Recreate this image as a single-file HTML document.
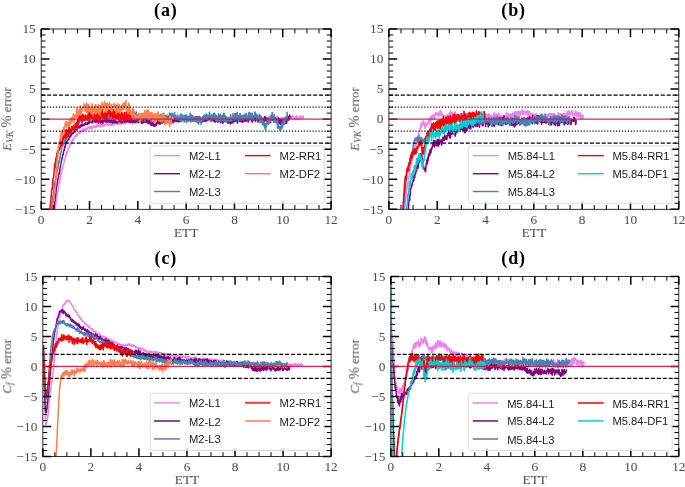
<!DOCTYPE html>
<html><head><meta charset="utf-8"><title>ETT error plots</title>
<style>html,body{margin:0;padding:0;background:#fff;width:685px;height:487px;overflow:hidden}svg{display:block}text{will-change:transform}</style>
</head><body>
<svg width="685" height="487" viewBox="0 0 685 487">
<rect width="685" height="487" fill="#fff"/>
<clipPath id="clipa"><rect x="41.2" y="29.0" width="289.90" height="180.30"/></clipPath>
<g clip-path="url(#clipa)" fill="none" stroke-width="1.5" stroke-linejoin="round">
<polyline stroke="#ee82ee" points="53.8,227.5 54,223.7 54.2,220.7 54.5,218.6 54.7,214.2 55,212 55.2,210.2 55.5,207.3 55.7,205.5 55.9,203.7 56.2,202.2 56.4,200.2 56.7,199.4 56.9,197.4 57.1,195.9 57.4,193.6 57.6,192.4 57.9,191 58.1,189.9 58.4,188.2 58.6,186.6 58.8,185.4 59.1,183.1 59.3,182 59.6,182.8 59.8,181.6 60,179.4 60.3,178.5 60.5,177 60.8,175.9 61,173.6 61.3,174.6 61.5,173.1 61.7,170.5 62,170.4 62.2,169.3 62.5,168.9 62.7,168.7 62.9,166.4 63.2,165.4 63.4,165.2 63.7,163.9 63.9,162.4 64.2,162 64.4,160.7 64.6,159.7 64.9,158.9 65.1,158.5 65.4,156.9 65.6,156 65.8,155.7 66.1,155.7 66.3,153.9 66.6,153.9 66.8,152.2 67,152.9 67.3,150.8 67.5,150.8 67.8,151.1 68,149.8 68.3,148.8 68.5,147.9 68.7,148.2 69,147.6 69.2,146.2 69.5,146.2 69.7,145.2 69.9,144.3 70.2,145.4 70.4,143.7 70.7,142.6 70.9,143.2 71.2,143.1 71.4,141.6 71.6,141.6 71.9,140.7 72.1,141.1 72.4,141.5 72.6,140.2 72.8,140.1 73.1,138.9 73.3,139 73.6,139.9 73.8,139.3 74.1,137.5 74.3,137.2 74.5,137.8 74.8,137 75,136.5 75.3,136.2 75.5,135.7 75.7,136 76,135.9 76.2,135.7 76.5,134.5 76.7,136.4 77,134.8 77.2,134.4 77.4,135.2 77.7,133.7 77.9,134.1 78.2,132.8 78.4,133.4 78.6,132.7 78.9,131.9 79.1,132.5 79.4,133.2 79.6,133.5 79.9,131 80.1,132.3 80.3,132.5 80.6,131.7 80.8,131.9 81.1,130.9 81.3,131.4 81.5,131.2 81.8,131.7 82,130.6 82.3,131.4 82.5,130.1 82.8,129.4 83,131.4 83.2,131.7 83.5,129.7 83.7,128.5 84,130.6 84.2,130.7 84.4,129.2 84.7,130.3 84.9,129.9 85.2,129.5 85.4,128.9 85.7,129.3 85.9,128.8 86.1,129.2 86.4,129.5 86.6,129 86.9,129.3 87.1,128.5 87.3,129.2 87.6,129 87.8,127.1 88.1,128.1 88.3,128 88.6,127.4 88.8,128.1 89,127.9 89.3,127.5 89.5,127.7 89.8,128.6 90,127 90.2,128.1 90.5,128.3 90.7,128.2 91,127.9 91.2,126.3 91.4,128.4 91.7,127.3 91.9,128.9 92.2,127.4 92.4,126.8 92.7,127.5 92.9,127.8 93.1,126.9 93.4,126.6 93.6,126.5 93.9,125.5 94.1,126.7 94.3,127.3 94.6,126.9 94.8,126.7 95.1,126.5 95.3,126.5 95.6,126.3 95.8,127.8 96,125.8 96.3,126.8 96.5,127.1 96.8,125.6 97,124.9 97.2,125.4 97.5,125.7 97.7,126.5 98,124.1 98.2,125 98.5,126.5 98.7,126.2 98.9,125.5 99.2,126.7 99.4,125.3 99.7,125.8 99.9,124.3 100.1,124.5 100.4,126.9 100.6,125.1 100.9,126.4 101.1,124.2 101.4,125.1 101.6,124.8 101.8,126.2 102.1,123.7 102.3,123.6 102.6,126.1 102.8,124.9 103,125.8 103.3,125.2 103.5,126 103.8,123.4 104,125.6 104.3,125 104.5,124.4 104.7,125.3 105,125 105.2,125.2 105.5,124.7 105.7,125.5 105.9,124.9 106.2,124.6 106.4,124.8 106.7,124.3 106.9,124.5 107.2,123.7 107.4,124.5 107.6,124.4 107.9,124.6 108.1,124.6 108.4,125.2 108.6,123.5 108.8,124.7 109.1,124.3 109.3,123.3 109.6,123.2 109.8,124 110.1,125.4 110.3,123.4 110.5,123.7 110.8,125.1 111,123.3 111.3,124.6 111.5,125 111.7,124 112,124.3 112.2,123.7 112.5,125.1 112.7,122.1 113,124.4 113.2,125.1 113.4,123.1 113.7,123.8 113.9,123.2 114.2,123.8 114.4,123.5 114.6,123.2 114.9,124 115.1,122.9 115.4,123.8 115.6,124 115.8,123.3 116.1,123 116.3,123.6 116.6,124.2 116.8,122.7 117.1,124.5 117.3,123.9 117.5,122.9 117.8,123.8 118,122.6 118.3,122.7 118.5,121.8 118.7,123.4 119,123.1 119.2,122.1 119.5,124.3 119.7,121 120,123.4 120.2,123.2 120.4,121.8 120.7,122.6 120.9,124.2 121.2,122 121.4,121.8 121.6,122.8 121.9,122.8 122.1,122.2 122.4,123.4 122.6,122.4 122.9,122.7 123.1,123.3 123.3,123.8 123.6,122.6 123.8,123.1 124.1,121.5 124.3,122.3 124.5,121.8 124.8,122.2 125,122.1 125.3,123.2 125.5,121.8 125.8,120.8 126,122.5 126.2,122.8 126.5,122.5 126.7,122.7 127,122.6 127.2,121.9 127.4,122.2 127.7,120.6 127.9,121.9 128.2,121.5 128.4,121 128.7,121.9 128.9,120.3 129.1,121.9 129.4,122 129.6,121.5 129.9,121.1 130.1,122.1 130.3,121 130.6,122.6 130.8,119.8 131.1,121.1 131.3,121.7 131.6,121.9 131.8,121.4 132,121.2 132.3,121.9 132.5,121.7 132.8,121.2 133,121.5 133.2,120.4 133.5,120 133.7,121 134,120.6 134.2,122.2 134.5,120.5 134.7,121.2 134.9,120.7 135.2,119.6 135.4,122.9 135.7,120.8 135.9,122.1 136.1,120.9 136.4,122.7 136.6,122 136.9,121.4 137.1,121.1 137.4,121.7 137.6,122.4 137.8,122 138.1,120.8 138.3,121.7 138.6,123 138.8,120.6 139,121.1 139.3,120.7 139.5,121.9 139.8,120.9 140,122.5 140.2,120.7 140.5,121.6 140.7,120.7 141,120.3 141.2,121.9 141.5,121.3 141.7,121.1 141.9,120.1 142.2,120.6 142.4,122.4 142.7,120.7 142.9,120.5 143.1,119.4 143.4,122.5 143.6,121.5 143.9,119.7 144.1,122.1 144.4,121.8 144.6,120.2 144.8,119.6 145.1,121.2 145.3,120 145.6,120.5 145.8,119.3 146,120.9 146.3,119.9 146.5,121.6 146.8,121 147,120.9 147.3,119.9 147.5,120.7 147.7,121.8 148,120.5 148.2,120.6 148.5,121.3 148.7,121.3 148.9,121.2 149.2,122.6 149.4,120.9 149.7,121 149.9,121.9 150.2,120.5 150.4,122.3 150.6,121.7 150.9,121.5 151.1,119.3 151.4,122.7 151.6,120.8 151.8,120.3 152.1,120.9 152.3,120.1 152.6,122.1 152.8,122.8 153.1,120.3 153.3,122.1 153.5,121.2 153.8,122.1 154,120 154.3,120.3 154.5,121.4 154.7,119.8 155,120.5 155.2,120.7 155.5,120.3 155.7,120.6 156,120 156.2,120.4 156.4,120.9 156.7,119.7 156.9,121.1 157.2,120.4 157.4,120.5 157.6,119.6 157.9,121.1 158.1,119.1 158.4,120.6 158.6,120.7 158.9,121.2 159.1,120.1 159.3,120.6 159.6,121.7 159.8,121.8 160.1,121.5 160.3,121.6 160.5,119.8 160.8,119.7 161,120.2 161.3,120.7 161.5,121.4 161.8,120.9 162,120.3 162.2,119.3 162.5,120.2 162.7,121.3 163,120.8 163.2,121 163.4,121.1 163.7,120.6 163.9,120.2 164.2,118.7 164.4,120.1 164.6,118.8 164.9,118.2 165.1,119.8 165.4,118.4 165.6,119.1 165.9,120.2 166.1,119.5 166.3,119.7 166.6,119.9 166.8,119.8 167.1,119.3 167.3,119 167.5,120 167.8,119.4 168,120.7 168.3,118.9 168.5,118.6 168.8,118.9 169,118.9 169.2,118.7 169.5,119.9 169.7,119.5 170,119 170.2,118.8 170.4,119.4 170.7,118 170.9,119.8 171.2,118.7 171.4,118.6 171.7,119.8 171.9,120.5 172.1,120.9 172.4,119.6 172.6,118.9 172.9,119.6 173.1,119.7 173.3,120.2 173.6,119.5 173.8,121.7 174.1,119.8 174.3,120.1 174.6,121.4 174.8,118.3 175,121.3 175.3,120.9 175.5,120.9 175.8,118.9 176,120.6 176.2,119 176.5,119 176.7,119.1 177,120.5 177.2,119.8 177.5,117.8 177.7,120.6 177.9,120.1 178.2,119.4 178.4,118.6 178.7,119.1 178.9,118.8 179.1,120.5 179.4,118.6 179.6,119.3 179.9,121.1 180.1,118.3 180.4,117.8 180.6,120.3 180.8,119.5 181.1,118.4 181.3,121.1 181.6,121.6 181.8,120.9 182,120.3 182.3,120.4 182.5,119.3 182.8,119.7 183,120.9 183.3,119.4 183.5,118.3 183.7,118.8 184,119.2 184.2,120.1 184.5,119.3 184.7,120.9 184.9,119.4 185.2,120.5 185.4,119.2 185.7,119.7 185.9,121.1 186.2,119.9 186.4,118.8 186.6,121 186.9,120.2 187.1,120.5 187.4,121.3 187.6,119.1 187.8,118.7 188.1,119.5 188.3,119.9 188.6,120 188.8,119.6 189,120.5 189.3,119.1 189.5,118.9 189.8,119.2 190,120.7 190.3,120.2 190.5,120.4 190.7,118.5 191,119.9 191.2,121.7 191.5,119.7 191.7,118.3 191.9,119.4 192.2,119.2 192.4,119.7 192.7,121.7 192.9,121.5 193.2,121 193.4,119.9 193.6,119.5 193.9,119.2 194.1,120.1 194.4,118.9 194.6,119.9 194.8,120.3 195.1,118.9 195.3,120.2 195.6,121.2 195.8,120.5 196.1,119.5 196.3,121.5 196.5,120 196.8,120 197,120.9 197.3,120.7 197.5,119.9 197.7,119.9 198,118.3 198.2,119.2 198.5,120.7 198.7,120 199,118.5 199.2,117.5 199.4,118.9 199.7,119.1 199.9,117.9 200.2,119.7 200.4,119.9 200.6,120.9 200.9,120.1 201.1,117.7 201.4,121 201.6,119.7 201.9,121 202.1,119.6 202.3,118.9 202.6,120 202.8,119 203.1,119.1 203.3,119.4 203.5,118.2 203.8,118.8 204,119.8 204.3,120.1 204.5,120.3 204.8,119 205,119.7 205.2,117.6 205.5,117.9 205.7,120 206,120 206.2,118.2 206.4,121.4 206.7,119.9 206.9,118.4 207.2,120 207.4,119.5 207.7,119.4 207.9,118.4 208.1,119.1 208.4,119 208.6,118.8 208.9,119.3 209.1,118.2 209.3,119.9 209.6,120.6 209.8,121.1 210.1,121 210.3,120 210.5,118.4 210.8,119.2 211,120.2 211.3,120.7 211.5,120.3 211.8,120.1 212,120.1 212.2,120.9 212.5,120 212.7,118.4 213,121.1 213.2,119.6 213.4,121.3 213.7,119.4 213.9,120.5 214.2,121.7 214.4,119.7 214.7,118.3 214.9,119.9 215.1,119 215.4,119.9 215.6,121.5 215.9,119.1 216.1,119.9 216.3,121 216.6,118.8 216.8,119.3 217.1,119.9 217.3,118.4 217.6,119.9 217.8,118.7 218,120.1 218.3,118.5 218.5,119.9 218.8,117.4 219,118.6 219.2,117.7 219.5,119.8 219.7,119.5 220,118.5 220.2,121.2 220.5,120.3 220.7,118.3 220.9,118.8 221.2,118.2 221.4,119.3 221.7,118.6 221.9,119.7 222.1,120.3 222.4,120.7 222.6,119.8 222.9,119.9 223.1,120.1 223.4,121.3 223.6,121.3 223.8,119.9 224.1,119.1 224.3,119.9 224.6,120.3 224.8,121.4 225,117.6 225.3,120.5 225.5,118 225.8,118.1 226,119.2 226.3,120 226.5,119.4 226.7,120.7 227,119.3 227.2,119.5 227.5,119 227.7,118.6 227.9,117.8 228.2,119.7 228.4,118.2 228.7,119.9 228.9,120 229.2,119.7 229.4,119.8 229.6,118 229.9,118.1 230.1,117.6 230.4,118.6 230.6,118.3 230.8,119 231.1,119.6 231.3,118 231.6,118.2 231.8,119.4 232.1,117.7 232.3,119.9 232.5,118.3 232.8,118.8 233,118.8 233.3,119.5 233.5,117.6 233.7,118 234,117.3 234.2,118.3 234.5,119.5 234.7,118.7 234.9,119.4 235.2,118.1 235.4,117.3 235.7,118.3 235.9,119.2 236.2,119 236.4,118.5 236.6,120.1 236.9,118.7 237.1,118.5 237.4,119.3 237.6,119.3 237.8,118.6 238.1,119.5 238.3,119.7 238.6,118.2 238.8,118.7 239.1,117.4 239.3,120 239.5,120.7 239.8,118.2 240,118.1 240.3,119.5 240.5,119.9 240.7,118.6 241,120.2 241.2,118.9 241.5,120.3 241.7,118.8 242,120.3 242.2,118.6 242.4,117.1 242.7,118.8 242.9,117.8 243.2,119.1 243.4,119.3 243.6,119.9 243.9,117.5 244.1,118.5 244.4,117 244.6,119.6 244.9,118.8 245.1,118.6 245.3,117.6 245.6,117.1 245.8,119.5 246.1,120 246.3,120.7 246.5,117.7 246.8,119 247,119.6 247.3,119.1 247.5,121 247.8,120.9 248,118.3 248.2,118.8 248.5,119 248.7,120.2 249,118.6 249.2,117.5 249.4,120.4 249.7,119.2 249.9,119.5 250.2,118.6 250.4,118.9 250.7,119 250.9,119.6 251.1,118.9 251.4,119.5 251.6,119.1 251.9,119 252.1,118.3 252.3,119.5 252.6,119.1 252.8,117.9 253.1,119.1 253.3,119.2 253.6,117.9 253.8,118.4 254,118.5 254.3,118.1 254.5,119.5 254.8,117.8 255,117.1 255.2,117.9 255.5,119.8 255.7,118.2 256,119.3 256.2,118.7 256.5,118.4 256.7,119.8 256.9,117.4 257.2,118.8 257.4,118.2 257.7,118.4 257.9,117.7 258.1,117.7 258.4,120.2 258.6,118.7 258.9,120.5 259.1,119.1 259.3,118 259.6,117.7 259.8,117.3 260.1,118.6 260.3,118 260.6,118.2 260.8,117.2 261,117 261.3,118.9 261.5,116.8 261.8,118.8 262,119.3 262.2,118.3 262.5,118.3 262.7,118.4 263,119.5 263.2,117.6 263.5,118.9 263.7,117.6 263.9,117.6 264.2,120.1 264.4,119.7 264.7,119.7 264.9,118.3 265.1,118.6 265.4,118.6 265.6,119.5 265.9,118.5 266.1,117.6 266.4,120.1 266.6,119.1 266.8,118.7 267.1,119 267.3,119.3 267.6,117.3 267.8,117.6 268,118 268.3,119.6 268.5,117.1 268.8,118.6 269,119.5 269.3,119.2 269.5,119.4 269.7,116.8 270,118.7 270.2,118.8 270.5,120.4 270.7,117.9 270.9,119.4 271.2,119.5 271.4,117.8 271.7,119.3 271.9,117.7 272.2,117.5 272.4,120.2 272.6,118.4 272.9,119.8 273.1,118.2 273.4,117.4 273.6,119.5 273.8,116.3 274.1,118.4 274.3,119.4 274.6,118.2 274.8,117.4 275.1,119.6 275.3,118.4 275.5,119.5 275.8,117 276,118 276.3,118.5 276.5,117.1 276.7,119.3 277,118.4 277.2,116.2 277.5,118 277.7,117 278,118 278.2,118.8 278.4,118.4 278.7,118.1 278.9,118.5 279.2,119 279.4,118.9 279.6,119.6 279.9,118.3 280.1,118.1 280.4,117.8 280.6,120.1 280.9,117.5 281.1,118.4 281.3,119.7 281.6,118.3 281.8,117.7 282.1,118 282.3,117.8 282.5,117.5 282.8,117.6 283,118.4 283.3,120.2 283.5,119 283.7,118.1 284,118.8 284.2,117.8 284.5,117.7 284.7,118.5 285,116.7 285.2,119.6 285.4,117.7 285.7,119.2 285.9,119.4 286.2,118 286.4,118.9 286.6,117.5 286.9,119.5 287.1,118.2 287.4,118.8 287.6,118.2 287.9,118.3 288.1,119.1 288.3,117.5 288.6,119.2 288.8,118.7 289.1,117 289.3,116.9 289.5,117.2 289.8,117.5 290,115.9 290.3,118.9 290.5,118.5 290.8,118.7 291,116.7 291.2,117.3 291.5,116.6 291.7,116.6 292,117.7 292.2,118.3 292.4,118.2 292.7,115.6 292.9,116.5 293.2,116.8 293.4,117.9 293.7,117.8 293.9,118.2 294.1,118 294.4,119.7 294.6,118 294.9,118.2 295.1,117.5 295.3,117.5 295.6,116.7 295.8,117.5 296.1,116.9 296.3,119.5 296.6,118.5 296.8,115.8 297,118.7 297.3,117.9 297.5,117 297.8,118.3 298,116.9 298.2,119 298.5,119.5 298.7,118.9 299,119.2 299.2,117.6 299.5,117.8 299.7,117.2 299.9,118.6 300.2,115.7 300.4,117.7 300.7,117.6 300.9,117.1 301.1,117.6 301.4,118 301.6,117.3 301.9,116.5 302.1,116.8 302.4,116.6 302.6,118.2 302.8,118.5 303.1,115.8 303.3,117.9 303.6,117.2 303.8,116.9"/>
<polyline stroke="#800080" points="52.8,227.2 53,223.6 53.3,219.6 53.5,217 53.8,211.4 54,208.9 54.2,207.1 54.5,204 54.7,202.2 55,200.6 55.2,197.5 55.5,196.2 55.7,194.2 55.9,192.6 56.2,190 56.4,188.5 56.7,186.4 56.9,185.5 57.1,183.5 57.4,182.8 57.6,180.5 57.9,179.6 58.1,178.4 58.4,177.1 58.6,176.7 58.8,174.3 59.1,172.5 59.3,173.6 59.6,172.3 59.8,170.8 60,168.2 60.3,167.4 60.5,165.4 60.8,164.2 61,163.1 61.3,161.8 61.5,160.9 61.7,159 62,159.1 62.2,157.7 62.5,156.4 62.7,154.4 62.9,155.2 63.2,154.3 63.4,153 63.7,151.1 63.9,150.9 64.2,149 64.4,150.2 64.6,147.3 64.9,146.5 65.1,147.3 65.4,145.4 65.6,144 65.8,144.2 66.1,143 66.3,141.8 66.6,142.3 66.8,142.1 67,142 67.3,140.5 67.5,140.6 67.8,140.2 68,139.8 68.3,138.8 68.5,139.5 68.7,139.6 69,139.6 69.2,137.1 69.5,137.5 69.7,136 69.9,136.7 70.2,136.8 70.4,135.6 70.7,135.7 70.9,136.1 71.2,135.6 71.4,133.5 71.6,134.1 71.9,133.8 72.1,134 72.4,134 72.6,132.8 72.8,133.2 73.1,133.4 73.3,132.7 73.6,133 73.8,132.1 74.1,131.2 74.3,132.2 74.5,130.4 74.8,131.5 75,130.7 75.3,131 75.5,130.5 75.7,130 76,130 76.2,129.9 76.5,129.6 76.7,129.4 77,129.8 77.2,128.7 77.4,128.1 77.7,127.6 77.9,127.4 78.2,126.4 78.4,127.3 78.6,127.7 78.9,126 79.1,127.9 79.4,126.4 79.6,127.6 79.9,126.4 80.1,127.8 80.3,125.6 80.6,126.2 80.8,126.6 81.1,124.6 81.3,125.1 81.5,125.7 81.8,126.1 82,125.5 82.3,125.5 82.5,124.8 82.8,124.5 83,125.5 83.2,125.4 83.5,125.3 83.7,125.8 84,125.3 84.2,124.7 84.4,124.1 84.7,123.4 84.9,124.8 85.2,123.9 85.4,124.4 85.7,122.7 85.9,124 86.1,123.5 86.4,124.4 86.6,124.1 86.9,123.3 87.1,123.6 87.3,123 87.6,124.4 87.8,122.7 88.1,123.8 88.3,121.7 88.6,123.1 88.8,121.8 89,123.4 89.3,122 89.5,122.8 89.8,122.4 90,122 90.2,122 90.5,121.6 90.7,121.2 91,121.2 91.2,121.7 91.4,122.6 91.7,122.1 91.9,121.6 92.2,122.9 92.4,120.8 92.7,121.5 92.9,121.5 93.1,120.6 93.4,120.7 93.6,120.9 93.9,121.8 94.1,120.8 94.3,120.7 94.6,121.5 94.8,120.1 95.1,120.5 95.3,122.4 95.6,120.8 95.8,121.8 96,120.1 96.3,120.4 96.5,122 96.8,122 97,121.2 97.2,121.5 97.5,120.2 97.7,120.8 98,121.6 98.2,120.9 98.5,122.8 98.7,121 98.9,120.5 99.2,121.4 99.4,122 99.7,120.9 99.9,119.9 100.1,121.1 100.4,122.2 100.6,120.1 100.9,122.9 101.1,121 101.4,121.8 101.6,120.7 101.8,122.3 102.1,120.4 102.3,121.3 102.6,122.9 102.8,123.2 103,122 103.3,120.6 103.5,121.4 103.8,121.3 104,121.4 104.3,120.5 104.5,120.8 104.7,120.7 105,121.6 105.2,119.8 105.5,119.6 105.7,121.9 105.9,119.2 106.2,120.3 106.4,121.3 106.7,122.2 106.9,120.2 107.2,120.3 107.4,121.4 107.6,122.3 107.9,119.8 108.1,121.3 108.4,121.1 108.6,119.1 108.8,119.1 109.1,119.8 109.3,121.1 109.6,120 109.8,122.2 110.1,120.5 110.3,121.2 110.5,121.8 110.8,122.2 111,120.3 111.3,120.8 111.5,121 111.7,120.3 112,121.8 112.2,122.3 112.5,122.9 112.7,121.6 113,120.7 113.2,121.5 113.4,120.9 113.7,122.5 113.9,122 114.2,122.1 114.4,122.6 114.6,119.8 114.9,120.5 115.1,122.2 115.4,122.1 115.6,121.5 115.8,122.8 116.1,121 116.3,122.6 116.6,121.7 116.8,122.5 117.1,122 117.3,122.6 117.5,122.9 117.8,122.1 118,121.8 118.3,121.4 118.5,120.9 118.7,119.5 119,120.3 119.2,121.3 119.5,120.4 119.7,121.7 120,119.8 120.2,120.6 120.4,122.2 120.7,120.2 120.9,120.2 121.2,122.7 121.4,121.7 121.6,121.4 121.9,122.8 122.1,122 122.4,121.8 122.6,120.3 122.9,120.4 123.1,118.7 123.3,121 123.6,119.6 123.8,120.8 124.1,120.4 124.3,121.8 124.5,122.6 124.8,121.4 125,120 125.3,119.1 125.5,120.1 125.8,120.4 126,121.6 126.2,119.3 126.5,119.5 126.7,121.3 127,120.8 127.2,121.7 127.4,119.2 127.7,120.4 127.9,120.9 128.2,120.4 128.4,120.5 128.7,121.1 128.9,121.9 129.1,121.8 129.4,122.5 129.6,120.4 129.9,119.1 130.1,122.8 130.3,121 130.6,120.8 130.8,122.1 131.1,120.9 131.3,122 131.6,119.7 131.8,121.7 132,121.1 132.3,120.7 132.5,121.8 132.8,123.1 133,121.6 133.2,120.4 133.5,121.2 133.7,121 134,122.2 134.2,121.1 134.5,120.4 134.7,121.3 134.9,119.3 135.2,121.4 135.4,122.1 135.7,122.6 135.9,119.9 136.1,121.2 136.4,120.3 136.6,120.9 136.9,119.5 137.1,119.7 137.4,121.4 137.6,120.7 137.8,120 138.1,122.5 138.3,119.6 138.6,120.2 138.8,120.3 139,121.4 139.3,120.9 139.5,122 139.8,120.9 140,121.8 140.2,121.2 140.5,121.8 140.7,121 141,119.9 141.2,122.4 141.5,120.1 141.7,123.4 141.9,123.3 142.2,121.2 142.4,121.1 142.7,120.8 142.9,123 143.1,121.1 143.4,121 143.6,119.6 143.9,121.1 144.1,120.6 144.4,122.3 144.6,121.5 144.8,122 145.1,120.8 145.3,122.5 145.6,122.3 145.8,120.7 146,119.6 146.3,121.3 146.5,121.4 146.8,122.3 147,120.7 147.3,121.2 147.5,119.9 147.7,121.7 148,123.2 148.2,122.9 148.5,123.4 148.7,123.7 148.9,120.7 149.2,121.4 149.4,123.8 149.7,120.6 149.9,122.4 150.2,123.9 150.4,122.6 150.6,123.1 150.9,124 151.1,125.5 151.4,123.1 151.6,122.9 151.8,125.6 152.1,122.9 152.3,122.6 152.6,124.4 152.8,124 153.1,124.6 153.3,125.2 153.5,124.9 153.8,123 154,126.3 154.3,124.5 154.5,124.6 154.7,125.5 155,125.1 155.2,126.1 155.5,125.6 155.7,124.5 156,124 156.2,125.4 156.4,121.9 156.7,124.5 156.9,123.5 157.2,123.8 157.4,123.7 157.6,121.6 157.9,123.4 158.1,121.1 158.4,121.2 158.6,123.8 158.9,121.3 159.1,123 159.3,119.7 159.6,122.7 159.8,123.1 160.1,124.2 160.3,123.3 160.5,122.5 160.8,122.8 161,122.9 161.3,122.1 161.5,121.4 161.8,119.3 162,123.1 162.2,121.8 162.5,122.3 162.7,122.7 163,122.6 163.2,122 163.4,119.9 163.7,121.1 163.9,121.7 164.2,120.1 164.4,120.4 164.6,121.1 164.9,120.4 165.1,121.7 165.4,120 165.6,119.9 165.9,121 166.1,122.1 166.3,118.8 166.6,120.4 166.8,118.1 167.1,121.1 167.3,119.1 167.5,120.6 167.8,119.8 168,119 168.3,121.3 168.5,120.5 168.8,120.2 169,120.4 169.2,119.9 169.5,119.3 169.7,119.3 170,120.1 170.2,120.7 170.4,121.8 170.7,121.1 170.9,120.7 171.2,119.3 171.4,120.6 171.7,121.6 171.9,119.4 172.1,121.2 172.4,121.3 172.6,120.8 172.9,119.9 173.1,122.9 173.3,121.8 173.6,120.3 173.8,121.1 174.1,121.6 174.3,121.1 174.6,118.8 174.8,121.1 175,119.6 175.3,119.7 175.5,121.2 175.8,119.9 176,120.9 176.2,121 176.5,121.6 176.7,119.1 177,120.9 177.2,120.8 177.5,121.6 177.7,117.8 177.9,119.2 178.2,120.1 178.4,120.7 178.7,121.8 178.9,119.5 179.1,119.6 179.4,121.8 179.6,118.6 179.9,118.8 180.1,120.8 180.4,120 180.6,119.7 180.8,119 181.1,119.5 181.3,121.2 181.6,117.4 181.8,118.9 182,117.5 182.3,117.6 182.5,119.2 182.8,118.5 183,118.1 183.3,118 183.5,119.3 183.7,119.7 184,118.7 184.2,119.7 184.5,119.2 184.7,121.1 184.9,118.6 185.2,119.9 185.4,119.6 185.7,118.9 185.9,118.3 186.2,116.4 186.4,118.4 186.6,120.1 186.9,118.3 187.1,119.3 187.4,118.2 187.6,119.7 187.8,119.8 188.1,119.3 188.3,119.3 188.6,121 188.8,119.8 189,118.9 189.3,117.5 189.5,119.4 189.8,119.5 190,118.2 190.3,118.2 190.5,116.8 190.7,118.2 191,119.1 191.2,117.3 191.5,116.9 191.7,119.8 191.9,118.8 192.2,121 192.4,119.2 192.7,119.6 192.9,118.7 193.2,119.3 193.4,118.9 193.6,118.7 193.9,118.1 194.1,118.4 194.4,119.7 194.6,120.4 194.8,117.2 195.1,117 195.3,119.6 195.6,118.5 195.8,120.8 196.1,120.7 196.3,119.1 196.5,116.8 196.8,119.8 197,119.8 197.3,116.9 197.5,121.4 197.7,118.3 198,118.4 198.2,119.3 198.5,119 198.7,116.7 199,120.7 199.2,119.7 199.4,119.8 199.7,120.6 199.9,121.5 200.2,118 200.4,119.6 200.6,122.1 200.9,120.9 201.1,119.3 201.4,119.4 201.6,121.5 201.9,120.1 202.1,119.6 202.3,119.5 202.6,119.3 202.8,121.9 203.1,117.6 203.3,119.6 203.5,117.5 203.8,117.3 204,120.1 204.3,121.3 204.5,118.5 204.8,120 205,120.2 205.2,121 205.5,117.3 205.7,120.1 206,121.2 206.2,119.7 206.4,120.5 206.7,118.8 206.9,119.6 207.2,120.3 207.4,118 207.7,119.7 207.9,118.1 208.1,117.4 208.4,119.6 208.6,119.8 208.9,118.7 209.1,117.8 209.3,119 209.6,118.8 209.8,119 210.1,118.6 210.3,118 210.5,119.8 210.8,119.5 211,118.7 211.3,119.6 211.5,118.7 211.8,118.3 212,119 212.2,119.7 212.5,120.1 212.7,116.9 213,118 213.2,120.9 213.4,120.7 213.7,117.2 213.9,117.6 214.2,119.3 214.4,117.9 214.7,121.6 214.9,119.6 215.1,118.6 215.4,122.2 215.6,120.8 215.9,118.8 216.1,118.6 216.3,120.7 216.6,119.7 216.8,118 217.1,120.7 217.3,122 217.6,120.4 217.8,121 218,118.9 218.3,120.5 218.5,121.9 218.8,118.3 219,121.4 219.2,120.2 219.5,120 219.7,119.7 220,120.6 220.2,120.2 220.5,121 220.7,122.7 220.9,121.1 221.2,121 221.4,120.9 221.7,120.7 221.9,121.7 222.1,119 222.4,118.6 222.6,123.1 222.9,120.5 223.1,121.3 223.4,122.9 223.6,119.8 223.8,121.1 224.1,120.8 224.3,121.4 224.6,119.3 224.8,119.2 225,120.3 225.3,119.8 225.5,120.6 225.8,120.2 226,121.1 226.3,120.3 226.5,121.4 226.7,120 227,119.5 227.2,120.2 227.5,118.8 227.7,117.7 227.9,123.1 228.2,120.7 228.4,121.6 228.7,121.7 228.9,122.8 229.2,120.8 229.4,121.4 229.6,121.9 229.9,121.3 230.1,122 230.4,123.9 230.6,119.7 230.8,121.5 231.1,122.1 231.3,120.3 231.6,121.5 231.8,123.2 232.1,119.5 232.3,123 232.5,121 232.8,120.6 233,119.2 233.3,119.5 233.5,120.7 233.7,122.1 234,121.5 234.2,119.5 234.5,118.5 234.7,120.1 234.9,121.5 235.2,119.4 235.4,121 235.7,121.2 235.9,120.8 236.2,119.6 236.4,120 236.6,119 236.9,118.6 237.1,119.8 237.4,123.1 237.6,122.8 237.8,120.4 238.1,120.6 238.3,117.8 238.6,120.5 238.8,120.7 239.1,119 239.3,118.6 239.5,120.2 239.8,119.3 240,121.5 240.3,121 240.5,118 240.7,121.5 241,118.2 241.2,118.7 241.5,118.5 241.7,118.5 242,118.8 242.2,122.5 242.4,121.2 242.7,120.6 242.9,118.3 243.2,121.1 243.4,120.6 243.6,120.2 243.9,117.9 244.1,121.4 244.4,121.1 244.6,118 244.9,121.5 245.1,118.2 245.3,119.3 245.6,121.1 245.8,119.7 246.1,120.7 246.3,119.3 246.5,118.8 246.8,117.4 247,119.5 247.3,119.4 247.5,120.3 247.8,119.6 248,118.1 248.2,122.1 248.5,118.5 248.7,120.1 249,118.9 249.2,118.7 249.4,117.9 249.7,118.7 249.9,119.7 250.2,118.7 250.4,119.4 250.7,119.5 250.9,118.9 251.1,118.1 251.4,119.2 251.6,119.2 251.9,121.5 252.1,119.8 252.3,122.2 252.6,118.6 252.8,120.7 253.1,117.6 253.3,116.3 253.6,119.5 253.8,117.3 254,118.5 254.3,119.7 254.5,120.2 254.8,118.3 255,117 255.2,118.6 255.5,121.2 255.7,120.4 256,119.4 256.2,117.4 256.5,119.2 256.7,119.3 256.9,118.1 257.2,119.9 257.4,119.8 257.7,119.8 257.9,122.1 258.1,119 258.4,119.1 258.6,118.3 258.9,121.3 259.1,120.8 259.3,118.6 259.6,119.3 259.8,118 260.1,121.1 260.3,119.4 260.6,120.8 260.8,119.4 261,120.3 261.3,118.9 261.5,118.2 261.8,118.8 262,122.2 262.2,118.4 262.5,119 262.7,121.1 263,121.1 263.2,119.8 263.5,119.1 263.7,120.4 263.9,122 264.2,119.1 264.4,119.3 264.7,116.7 264.9,121.3 265.1,116.7 265.4,117.1 265.6,119.2 265.9,117.4 266.1,119.6 266.4,118.4 266.6,120.8 266.8,119.7 267.1,121.3 267.3,122.2 267.6,120.5 267.8,121 268,119.3 268.3,118.3 268.5,120.5 268.8,120.4 269,119.9 269.3,122.5 269.5,119.7 269.7,120.1 270,120 270.2,121.4 270.5,122.6 270.7,120 270.9,119.2 271.2,117.7 271.4,118 271.7,117.6 271.9,119.5 272.2,118.2 272.4,120.1 272.6,118.9 272.9,118.6 273.1,117 273.4,119.1 273.6,121.4 273.8,117.9 274.1,121.2 274.3,120.1 274.6,120.3 274.8,121.1 275.1,118 275.3,118.9 275.5,120.8 275.8,119.7 276,120.4 276.3,119.1 276.5,120.5 276.7,121.1 277,121.1 277.2,120.8 277.5,119.9 277.7,121.7 278,120.7 278.2,120.1 278.4,118 278.7,119.7 278.9,123.7 279.2,121.6 279.4,121.6 279.6,120.9 279.9,119.2 280.1,120.2 280.4,124.4 280.6,121.3 280.9,121.5 281.1,120.8 281.3,119.5 281.6,123.1 281.8,120.2 282.1,124.2 282.3,121.8 282.5,121.4 282.8,119.3 283,123 283.3,124.3 283.5,121 283.7,123 284,119.8 284.2,123.2 284.5,123.5 284.7,120.2 285,121.7 285.2,120.3 285.4,123.6 285.7,119.1 285.9,122.2 286.2,120.1 286.4,122.5 286.6,123.1 286.9,121 287.1,120.3 287.4,118.1 287.6,119.6 287.9,118.9 288.1,118.8 288.3,116.5 288.6,120.2 288.8,116.8 289.1,118.2 289.3,117.2 289.5,118 289.8,115 290,117.9"/>
<polyline stroke="#4682b4" points="50.6,225.3 50.9,223.5 51.1,216.4 51.3,213.2 51.6,209.7 51.8,206.7 52.1,206 52.3,202.3 52.6,201.1 52.8,196.2 53,195.8 53.3,194.4 53.5,192.4 53.8,190.9 54,189.6 54.2,187.3 54.5,184.8 54.7,184 55,181.4 55.2,181.2 55.5,179.8 55.7,176.8 55.9,176.6 56.2,176.5 56.4,174.9 56.7,173 56.9,170.2 57.1,171.4 57.4,170.2 57.6,167.6 57.9,168.3 58.1,166.5 58.4,163.9 58.6,162.8 58.8,162.1 59.1,160.4 59.3,162.1 59.6,157.5 59.8,158.3 60,158.2 60.3,155 60.5,153.3 60.8,153.4 61,153 61.3,150.6 61.5,149.6 61.7,147 62,146.8 62.2,146.7 62.5,144.7 62.7,145.5 62.9,145.8 63.2,143.4 63.4,142.7 63.7,143.1 63.9,143 64.2,141.4 64.4,143.7 64.6,139.8 64.9,139.6 65.1,141.8 65.4,139.2 65.6,140 65.8,137.3 66.1,140 66.3,138.1 66.6,135.6 66.8,134.9 67,138.4 67.3,136.2 67.5,134.7 67.8,135.8 68,132.9 68.3,136.1 68.5,133.7 68.7,135 69,131.4 69.2,133.1 69.5,133.3 69.7,134.8 69.9,130 70.2,131 70.4,130.5 70.7,129.6 70.9,130.6 71.2,131.7 71.4,131.4 71.6,130.9 71.9,127.7 72.1,131.1 72.4,129.5 72.6,128.9 72.8,127.9 73.1,127.1 73.3,129.4 73.6,130 73.8,127.3 74.1,125.3 74.3,125.5 74.5,125.8 74.8,126.3 75,125.1 75.3,125.3 75.5,123.5 75.7,125.8 76,124.5 76.2,124.6 76.5,123.1 76.7,123.5 77,120.8 77.2,121.2 77.4,120.8 77.7,125.6 77.9,123 78.2,123 78.4,121.2 78.6,124.8 78.9,119.7 79.1,119.9 79.4,123.1 79.6,122.4 79.9,121.9 80.1,120.4 80.3,119.6 80.6,117.5 80.8,120.4 81.1,118.8 81.3,119.3 81.5,116.7 81.8,118.2 82,117.2 82.3,120.9 82.5,119.5 82.8,120.4 83,116.6 83.2,117.9 83.5,119.5 83.7,119.9 84,118.1 84.2,119.9 84.4,120.2 84.7,117.8 84.9,115.5 85.2,118.7 85.4,119.3 85.7,120.4 85.9,120.5 86.1,117.7 86.4,116.8 86.6,118.2 86.9,117.7 87.1,118.1 87.3,118.2 87.6,120.7 87.8,118.8 88.1,118 88.3,119.3 88.6,119.1 88.8,119.8 89,118.9 89.3,117 89.5,119 89.8,118.8 90,117.3 90.2,117.4 90.5,115.4 90.7,121.2 91,116.4 91.2,118.5 91.4,117.3 91.7,116.2 91.9,115.9 92.2,115.9 92.4,117.3 92.7,114.8 92.9,117.5 93.1,117.1 93.4,115.8 93.6,118.4 93.9,114.1 94.1,115.7 94.3,114.1 94.6,117.2 94.8,117.7 95.1,116.8 95.3,115.8 95.6,118.1 95.8,116.4 96,117.1 96.3,114.5 96.5,118.3 96.8,115.1 97,117.8 97.2,118.3 97.5,118 97.7,118.9 98,116.9 98.2,115.5 98.5,117.2 98.7,116.5 98.9,114.6 99.2,116.7 99.4,116.8 99.7,117.5 99.9,119.6 100.1,115.6 100.4,120 100.6,115.6 100.9,116.6 101.1,114.7 101.4,116.7 101.6,117.9 101.8,115.8 102.1,117.2 102.3,116.6 102.6,116.2 102.8,116.5 103,116.5 103.3,117.4 103.5,116.5 103.8,119.6 104,116.3 104.3,118 104.5,113.8 104.7,113.5 105,119.3 105.2,115.4 105.5,115.8 105.7,117.3 105.9,114.3 106.2,116.2 106.4,118.5 106.7,116.1 106.9,116.3 107.2,116 107.4,118.2 107.6,115.2 107.9,115.5 108.1,118.8 108.4,117.9 108.6,117.2 108.8,118.2 109.1,114.3 109.3,117.1 109.6,119.4 109.8,119.1 110.1,117.5 110.3,113.7 110.5,117.8 110.8,116.9 111,116.2 111.3,117.1 111.5,113.2 111.7,118 112,115.7 112.2,116.8 112.5,115.8 112.7,119 113,113.6 113.2,117 113.4,116.6 113.7,118.6 113.9,117.8 114.2,115.6 114.4,114.9 114.6,115.4 114.9,114.5 115.1,115.1 115.4,116.4 115.6,114.9 115.8,115.3 116.1,116.6 116.3,115.2 116.6,114 116.8,116.2 117.1,117.2 117.3,115.3 117.5,112.9 117.8,116.9 118,116.9 118.3,117 118.5,114.9 118.7,120.9 119,116.6 119.2,114.9 119.5,118.6 119.7,113.9 120,115.6 120.2,117.4 120.4,116.4 120.7,119.7 120.9,117.9 121.2,113.6 121.4,118.5 121.6,113.1 121.9,117 122.1,114.7 122.4,116.7 122.6,121 122.9,118 123.1,116.3 123.3,118.6 123.6,119 123.8,115.9 124.1,117.8 124.3,119.4 124.5,117.5 124.8,114.4 125,116.8 125.3,113.9 125.5,112.7 125.8,115.4 126,118 126.2,118.4 126.5,115.7 126.7,114.2 127,115.4 127.2,115 127.4,117.1 127.7,115.5 127.9,117.2 128.2,116.4 128.4,118.1 128.7,118.9 128.9,116.5 129.1,117.5 129.4,117.4 129.6,113.8 129.9,114.9 130.1,110.6 130.3,113 130.6,116.5 130.8,113.4 131.1,113.9 131.3,116.1 131.6,112.9 131.8,117.1 132,119.8 132.3,114 132.5,117.1 132.8,112.6 133,117.3 133.2,118.1 133.5,112.3 133.7,117.8 134,115 134.2,112.5 134.5,115.4 134.7,116.2 134.9,115.7 135.2,114 135.4,117.6 135.7,114.7 135.9,114.7 136.1,111.7 136.4,117.1 136.6,118.3 136.9,114.8 137.1,117.6 137.4,116.3 137.6,116.7 137.8,114.7 138.1,118.4 138.3,117.5 138.6,121.6 138.8,119.2 139,113.8 139.3,118.5 139.5,118.5 139.8,119.7 140,115.8 140.2,116.7 140.5,119.8 140.7,115.8 141,116.9 141.2,115.8 141.5,118.9 141.7,113.8 141.9,116.5 142.2,117.7 142.4,118.8 142.7,118.5 142.9,116 143.1,118.2 143.4,115.4 143.6,116.1 143.9,114.4 144.1,115.8 144.4,117.6 144.6,121.6 144.8,116.7 145.1,115.1 145.3,116.7 145.6,115.8 145.8,117.6 146,117.2 146.3,118.4 146.5,113.3 146.8,116.1 147,117.3 147.3,119.2 147.5,117.1 147.7,113.2 148,115.6 148.2,118.3 148.5,113.5 148.7,113.4 148.9,114.6 149.2,115 149.4,114.4 149.7,115.7 149.9,115.4 150.2,118.9 150.4,114.2 150.6,116.9 150.9,113.3 151.1,121.8 151.4,115.7 151.6,115.4 151.8,118.1 152.1,116.2 152.3,115.7 152.6,116 152.8,118.4 153.1,117.9 153.3,115.4 153.5,114.9 153.8,117.6 154,117.8 154.3,117.6 154.5,115.8 154.7,119.8 155,120.5 155.2,117.2 155.5,119.8 155.7,118.7 156,117.1 156.2,116.3 156.4,119.5 156.7,115.2 156.9,120.4 157.2,115.3 157.4,120 157.6,119.2 157.9,115.4 158.1,117.9 158.4,119.1 158.6,118.5 158.9,116.7 159.1,117.8 159.3,117.9 159.6,115.5 159.8,119.3 160.1,118.8 160.3,118.7 160.5,115.1 160.8,115.3 161,114.9 161.3,117.5 161.5,117.8 161.8,115.7 162,118.5 162.2,116.2 162.5,116.4 162.7,119.1 163,117.8 163.2,117.8 163.4,113.7 163.7,113.4 163.9,118.2 164.2,118.2 164.4,122.1 164.6,117 164.9,117.6 165.1,119.8 165.4,115.6 165.6,120.5 165.9,117.7 166.1,116.9 166.3,119.9 166.6,115.6 166.8,115 167.1,120.3 167.3,120.5 167.5,116.4 167.8,117.6 168,120.5 168.3,118.1 168.5,117.7 168.8,117.3 169,115.2 169.2,116.2 169.5,112.9 169.7,113.8 170,115.4 170.2,114.6 170.4,113.9 170.7,115.1 170.9,119.1 171.2,114.6 171.4,116.3 171.7,113.2 171.9,116.6 172.1,115.6 172.4,115.9 172.6,113.3 172.9,116.4 173.1,117.1 173.3,115.7 173.6,117.2 173.8,115.6 174.1,116.8 174.3,116.3 174.6,112.5 174.8,117.4 175,116.9 175.3,117 175.5,115.5 175.8,119.7 176,118.9 176.2,117.7 176.5,116.3 176.7,117.5 177,118.6 177.2,119.4 177.5,116.6 177.7,115 177.9,117.1 178.2,117.6 178.4,116.8 178.7,119.9 178.9,118.6 179.1,118.6 179.4,117.6 179.6,118.3 179.9,120.7 180.1,115.7 180.4,114.3 180.6,118.4 180.8,117.1 181.1,117.3 181.3,115.9 181.6,121 181.8,114.2 182,118.6 182.3,114.8 182.5,117.5 182.8,118.6 183,118.2 183.3,116 183.5,120 183.7,118.9 184,119.5 184.2,122.1 184.5,115.5 184.7,116.6 184.9,117.9 185.2,115.4 185.4,120.2 185.7,118.6 185.9,114.5 186.2,115.9 186.4,122.4 186.6,122.3 186.9,120.2 187.1,115.9 187.4,119.3 187.6,118.7 187.8,117 188.1,120.2 188.3,117.9 188.6,116.5 188.8,116.8 189,116.9 189.3,119.1 189.5,116.4 189.8,118.6 190,114.8 190.3,113.2 190.5,119.3 190.7,121.9 191,118.5 191.2,116.4 191.5,115.1 191.7,115.3 191.9,119.8 192.2,119.9 192.4,115.8 192.7,121 192.9,116.1 193.2,119 193.4,117.2 193.6,117.3 193.9,117.4 194.1,117.4 194.4,121.2 194.6,118.3 194.8,119.4 195.1,118.7 195.3,116.7 195.6,119.9 195.8,120.6 196.1,120.8 196.3,120.3 196.5,118.6 196.8,122.2 197,117.6 197.3,119.1 197.5,120.5 197.7,122.9 198,119.4 198.2,118.8 198.5,124.3 198.7,117.8 199,117 199.2,119.7 199.4,119.6 199.7,116.3 199.9,117.8 200.2,122.3 200.4,120.7 200.6,120.9 200.9,120.7 201.1,124.5 201.4,118.4 201.6,121.4 201.9,119.6 202.1,119.9 202.3,117.3 202.6,119.8 202.8,120.8 203.1,118.1 203.3,116.2 203.5,119.6 203.8,115.5 204,117.6 204.3,119.4 204.5,114.9 204.8,119.1 205,115.1 205.2,118 205.5,115.7 205.7,119.3 206,118.4 206.2,114.1 206.4,116.1 206.7,116.3 206.9,117.3 207.2,115.1 207.4,119.1 207.7,118.1 207.9,115.9 208.1,117.5 208.4,117.5 208.6,116.2 208.9,116.2 209.1,116.4 209.3,112.2 209.6,114 209.8,113.7 210.1,117.1 210.3,118 210.5,120.1 210.8,118.1 211,121.6 211.3,119 211.5,116.3 211.8,114.5 212,116.2 212.2,119.8 212.5,117 212.7,119.8 213,116.3 213.2,117.9 213.4,116 213.7,113.2 213.9,115.4 214.2,113 214.4,117.4 214.7,119 214.9,115.3 215.1,114.2 215.4,119.1 215.6,117.4 215.9,120.7 216.1,118.2 216.3,115.6 216.6,118.1 216.8,119.3 217.1,121.5 217.3,117 217.6,116.2 217.8,116.3 218,117.1 218.3,120.4 218.5,113.7 218.8,117.5 219,117.6 219.2,115.5 219.5,121.3 219.7,117.3 220,117.4 220.2,116.1 220.5,114.3 220.7,116.1 220.9,121.1 221.2,118 221.4,116.7 221.7,116.2 221.9,119.1 222.1,120.2 222.4,115.5 222.6,116.1 222.9,116.9 223.1,121 223.4,113.4 223.6,122.1 223.8,118.5 224.1,113.3 224.3,117.6 224.6,117 224.8,120.5 225,115 225.3,120.6 225.5,117.5 225.8,117.9 226,120.4 226.3,116.8 226.5,122.2 226.7,120.9 227,119.4 227.2,120.5 227.5,118.7 227.7,117.7 227.9,120.5 228.2,120.9 228.4,120.6 228.7,120.5 228.9,118.2 229.2,120.2 229.4,118.8 229.6,120 229.9,120.9 230.1,117.1 230.4,120.8 230.6,118.5 230.8,114.8 231.1,120.1 231.3,117.9 231.6,121.3 231.8,118.8 232.1,120.4 232.3,118.4 232.5,118.8 232.8,117 233,113.5 233.3,116.6 233.5,115.6 233.7,116.9 234,117.2 234.2,118.6 234.5,120.6 234.7,116.8 234.9,113.5 235.2,115.8 235.4,118.4 235.7,113.6 235.9,117.7 236.2,118 236.4,119.1 236.6,118.6 236.9,116.8 237.1,112.5 237.4,116.9 237.6,118.8 237.8,118 238.1,117.5 238.3,120.7 238.6,116.7 238.8,115.3 239.1,116.2 239.3,115.6 239.5,119.3 239.8,120.1 240,113.5 240.3,114.2 240.5,119.9 240.7,116.2 241,116.6 241.2,115.6 241.5,116.5 241.7,117.7 242,115.6 242.2,115.5 242.4,116.2 242.7,119.9 242.9,120 243.2,117.6 243.4,119.7 243.6,115.8 243.9,115 244.1,116.4 244.4,117.2 244.6,116.5 244.9,114.3 245.1,118.5 245.3,114.7 245.6,115.2 245.8,115.9 246.1,113.3 246.3,118 246.5,114.5 246.8,118.8 247,118.8 247.3,119.8 247.5,116.5 247.8,119.3 248,117 248.2,119.7 248.5,114.6 248.7,112.8 249,116.3 249.2,113.2 249.4,115.7 249.7,112.3 249.9,116.2 250.2,119.8 250.4,113.2 250.7,116.5 250.9,118.5 251.1,117.6 251.4,119.4 251.6,116.4 251.9,118.7 252.1,113 252.3,114.5 252.6,119.7 252.8,119.4 253.1,117.5 253.3,120.7 253.6,116.8 253.8,116.8 254,117.9 254.3,116.9 254.5,114.5 254.8,112.5 255,112 255.2,114.9 255.5,113.1 255.7,116.7 256,114.4 256.2,117.7 256.5,114.5 256.7,119 256.9,118.2 257.2,116.7 257.4,115.6 257.7,120 257.9,118 258.1,116.2 258.4,116.1 258.6,118.7 258.9,116.9 259.1,117.6 259.3,114.3 259.6,116.5 259.8,120.6 260.1,122.4 260.3,118.2 260.6,115.6 260.8,117.8 261,116.4 261.3,120.3 261.5,122.8 261.8,118.7 262,120.6 262.2,120 262.5,124.8 262.7,121.8 263,124 263.2,121.1 263.5,124.6 263.7,124.8 263.9,125.4 264.2,122 264.4,124.9 264.7,127.1 264.9,128.2 265.1,128.4 265.4,123.4 265.6,129.9 265.9,127.9 266.1,124.8 266.4,123.4 266.6,125.8 266.8,123.4 267.1,123.5 267.3,122.1 267.6,123.4 267.8,119.6 268,122.5 268.3,119.1 268.5,124.3 268.8,119.2 269,123.4 269.3,123.2 269.5,118.7 269.7,121.6 270,118.5 270.2,121.5 270.5,115.4 270.7,118.5 270.9,120.9 271.2,117.7 271.4,116 271.7,118.8 271.9,115.7 272.2,112.4 272.4,115 272.6,116.8 272.9,118.7 273.1,116.3 273.4,120.8 273.6,122.4 273.8,119.5 274.1,120.9 274.3,114.5 274.6,118.7 274.8,121.6 275.1,122.3 275.3,119 275.5,122.3 275.8,122.2 276,122 276.3,122 276.5,122.9 276.7,123.2 277,120.7 277.2,120.4 277.5,128.1 277.7,121 278,125.2 278.2,123.4 278.4,128.2 278.7,126.3 278.9,127.4 279.2,127.9 279.4,126.5 279.6,126.9 279.9,130.4 280.1,128.4 280.4,126.4 280.6,126.2 280.9,127.9 281.1,127.7 281.3,126.9 281.6,129 281.8,128.8 282.1,122.6 282.3,126.6 282.5,125.5 282.8,126.9 283,122 283.3,120.3 283.5,124.4 283.7,122.2 284,124.4 284.2,118.5 284.5,119.9 284.7,123.2 285,118.1 285.2,119.6 285.4,119 285.7,118.4 285.9,120.2 286.2,119.3 286.4,116.3 286.6,117.2 286.9,118.8 287.1,112.2 287.4,116.3 287.6,116.5"/>
<polyline stroke="#ff0000" points="48.9,227.4 49.2,221.4 49.4,214 49.7,211.1 49.9,211.1 50.1,205.9 50.4,204.4 50.6,201.2 50.9,201.9 51.1,196.8 51.3,194.9 51.6,190.3 51.8,190.2 52.1,187.8 52.3,188.9 52.6,181.3 52.8,185.8 53,178.4 53.3,178.7 53.5,177.5 53.8,175.2 54,173.2 54.2,169.2 54.5,168.6 54.7,164.1 55,168.1 55.2,163.1 55.5,163 55.7,158.6 55.9,162.6 56.2,158.6 56.4,156.5 56.7,158.7 56.9,153.4 57.1,154.4 57.4,151.7 57.6,151.2 57.9,153.8 58.1,152.9 58.4,151 58.6,148.1 58.8,147.7 59.1,150.2 59.3,149.3 59.6,149.4 59.8,148.4 60,147.3 60.3,146.3 60.5,140.9 60.8,145.7 61,144.6 61.3,142.5 61.5,145.5 61.7,143.3 62,141.8 62.2,139.6 62.5,143.6 62.7,137.2 62.9,140.6 63.2,139.3 63.4,137 63.7,137.1 63.9,135.6 64.2,136.9 64.4,136.2 64.6,135.3 64.9,138.1 65.1,133.1 65.4,137.2 65.6,138.1 65.8,130.2 66.1,134.9 66.3,137.1 66.6,129.6 66.8,134.4 67,129.9 67.3,134.3 67.5,132.7 67.8,135.7 68,136.4 68.3,133.5 68.5,131.3 68.7,128.5 69,125.4 69.2,132.7 69.5,127.6 69.7,132 69.9,130.5 70.2,134 70.4,133.7 70.7,131.9 70.9,132.9 71.2,129.6 71.4,131.2 71.6,126.7 71.9,129.3 72.1,129.1 72.4,126.3 72.6,128.1 72.8,129.4 73.1,129.5 73.3,129.3 73.6,126.2 73.8,126.5 74.1,127.7 74.3,126.6 74.5,129.5 74.8,127 75,132.4 75.3,123.8 75.5,127.4 75.7,126.4 76,125.1 76.2,126.5 76.5,127.1 76.7,122.6 77,125.1 77.2,127.5 77.4,123.2 77.7,128.6 77.9,118.3 78.2,122.9 78.4,122.2 78.6,115.9 78.9,114.9 79.1,120.6 79.4,119 79.6,117.2 79.9,114.8 80.1,119.3 80.3,118.2 80.6,114.9 80.8,117 81.1,115.9 81.3,115.9 81.5,121 81.8,120.2 82,123.1 82.3,118.5 82.5,114.5 82.8,121.3 83,114.5 83.2,115.1 83.5,117.8 83.7,117.6 84,117.4 84.2,120.3 84.4,118.7 84.7,118 84.9,116.1 85.2,115.6 85.4,119.9 85.7,115 85.9,120 86.1,118.2 86.4,116.2 86.6,116.9 86.9,117.3 87.1,116.3 87.3,118.9 87.6,119 87.8,117.3 88.1,113.5 88.3,116 88.6,110.3 88.8,114.8 89,121.2 89.3,116.8 89.5,110.4 89.8,115 90,116.4 90.2,117.3 90.5,111 90.7,112.2 91,112.9 91.2,113.4 91.4,110.7 91.7,112.6 91.9,118.3 92.2,112.7 92.4,114.4 92.7,115.6 92.9,113.4 93.1,115.2 93.4,121.6 93.6,111.3 93.9,113.1 94.1,116.3 94.3,117.1 94.6,114.9 94.8,120 95.1,115.5 95.3,117.8 95.6,118.3 95.8,119.7 96,119.3 96.3,114.2 96.5,113.3 96.8,115.7 97,117.3 97.2,119.5 97.5,115.2 97.7,112.8 98,121.7 98.2,113.7 98.5,123.3 98.7,118.4 98.9,115.7 99.2,120.4 99.4,120.9 99.7,116.4 99.9,114.3 100.1,117.8 100.4,112.6 100.6,118.5 100.9,111.3 101.1,115.5 101.4,115.1 101.6,113.9 101.8,114.9 102.1,109.4 102.3,109.2 102.6,113.1 102.8,115.6 103,118.5 103.3,116.9 103.5,114.6 103.8,115.6 104,115.5 104.3,115.2 104.5,113.3 104.7,118.5 105,117 105.2,110.9 105.5,111.5 105.7,115.1 105.9,109.9 106.2,116.2 106.4,115.4 106.7,120.1 106.9,111.9 107.2,114.6 107.4,111.7 107.6,113 107.9,114.2 108.1,114 108.4,110.6 108.6,114 108.8,114.4 109.1,113.6 109.3,111.7 109.6,111.8 109.8,108.8 110.1,114.2 110.3,110.4 110.5,116.4 110.8,112.7 111,113.5 111.3,108.8 111.5,112.2 111.7,115.7 112,113.1 112.2,113.9 112.5,116.6 112.7,116.5 113,118.1 113.2,109.4 113.4,114.2 113.7,112 113.9,117.5 114.2,117.6 114.4,114.6 114.6,114.5 114.9,111.3 115.1,117 115.4,112.7 115.6,110.4 115.8,118.4 116.1,112.9 116.3,118.6 116.6,114.6 116.8,114.3 117.1,110.6 117.3,117.8 117.5,115.6 117.8,113 118,119.2 118.3,116.3 118.5,118.8 118.7,118.5 119,114.5 119.2,114.2 119.5,111 119.7,112.2 120,112.8 120.2,116.9 120.4,117.2 120.7,116.1 120.9,122.4 121.2,112.6 121.4,118.9 121.6,119.9 121.9,118.1 122.1,114.3 122.4,113.3 122.6,117.8 122.9,115.2 123.1,116.3 123.3,118.8 123.6,115.3 123.8,116 124.1,120.1 124.3,112.6 124.5,120.3 124.8,115.4 125,119.2 125.3,118.8 125.5,118.3 125.8,114.3 126,119.5 126.2,116.6 126.5,112.1 126.7,118.3 127,116.2 127.2,114.5 127.4,118.5 127.7,115.2 127.9,118.5 128.2,114.4 128.4,115.9 128.7,119 128.9,112.5 129.1,117 129.4,117.9 129.6,119.7 129.9,118.3 130.1,117.6 130.3,116.6 130.6,114.1 130.8,121.2 131.1,118.5"/>
<polyline stroke="#ff7f50" points="51.3,229.6 51.6,224.9 51.8,218.1 52.1,212.8 52.3,208.5 52.6,207.8 52.8,207.2 53,206 53.3,201.6 53.5,198.1 53.8,199.2 54,200.1 54.2,197.5 54.5,190.6 54.7,191.4 55,193.3 55.2,187.4 55.5,187 55.7,183.1 55.9,180 56.2,176.9 56.4,171 56.7,169.2 56.9,166.7 57.1,160.6 57.4,156.3 57.6,158.4 57.9,152.4 58.1,151.3 58.4,146.6 58.6,147.3 58.8,143.4 59.1,142.1 59.3,141.6 59.6,142 59.8,139.7 60,140.2 60.3,140 60.5,135.4 60.8,138 61,131.2 61.3,131.4 61.5,137.6 61.7,131.1 62,133.7 62.2,130.4 62.5,130.3 62.7,135 62.9,130.3 63.2,130.5 63.4,127.5 63.7,133.4 63.9,127.7 64.2,131.8 64.4,129.7 64.6,130.8 64.9,124.8 65.1,126.4 65.4,122.1 65.6,125.4 65.8,124.6 66.1,124.2 66.3,127.1 66.6,125.3 66.8,121.3 67,125.8 67.3,124.5 67.5,125.2 67.8,123 68,125.2 68.3,124.7 68.5,123.6 68.7,123.7 69,126.1 69.2,121.1 69.5,126.4 69.7,125.2 69.9,125.2 70.2,118.9 70.4,121.9 70.7,123.1 70.9,122.7 71.2,118.4 71.4,122.6 71.6,122.9 71.9,117.3 72.1,122 72.4,118.9 72.6,118 72.8,118.9 73.1,117.8 73.3,113.9 73.6,119.5 73.8,121.2 74.1,122.7 74.3,118.1 74.5,117.9 74.8,115.1 75,117.5 75.3,117 75.5,117.4 75.7,116.7 76,113.8 76.2,115 76.5,113.4 76.7,108.2 77,112.9 77.2,118.3 77.4,109 77.7,112.8 77.9,116.4 78.2,110.7 78.4,112.8 78.6,114 78.9,113.7 79.1,115 79.4,111.7 79.6,108.9 79.9,112.9 80.1,110.2 80.3,106 80.6,114.9 80.8,109.9 81.1,110.8 81.3,113 81.5,112.7 81.8,109.2 82,108.1 82.3,110.9 82.5,109.4 82.8,107 83,108 83.2,106.6 83.5,107.7 83.7,107.4 84,103.6 84.2,106.8 84.4,108.2 84.7,106.6 84.9,111.2 85.2,109.1 85.4,105.9 85.7,106.7 85.9,104.2 86.1,108.7 86.4,112.6 86.6,103.1 86.9,105.6 87.1,111 87.3,104.3 87.6,108.1 87.8,113.2 88.1,110 88.3,110.8 88.6,104.2 88.8,110.9 89,110.2 89.3,110.4 89.5,110.2 89.8,111.5 90,108.8 90.2,106.6 90.5,107.8 90.7,112.2 91,113.1 91.2,109.4 91.4,111.1 91.7,111.3 91.9,114.1 92.2,103.7 92.4,107 92.7,112.6 92.9,107.4 93.1,106 93.4,116.1 93.6,112.5 93.9,112.1 94.1,109 94.3,112 94.6,112.3 94.8,111.4 95.1,105.6 95.3,104.7 95.6,111.9 95.8,113.3 96,105 96.3,113.7 96.5,112 96.8,110.4 97,108.7 97.2,106.9 97.5,108.6 97.7,112.3 98,108.4 98.2,109.3 98.5,104.6 98.7,110.6 98.9,114 99.2,112.9 99.4,105.6 99.7,111.5 99.9,115.8 100.1,111.2 100.4,109.3 100.6,105.5 100.9,111.8 101.1,106.3 101.4,106 101.6,109.8 101.8,108.1 102.1,102.4 102.3,102.9 102.6,105.6 102.8,106.6 103,104.2 103.3,107.6 103.5,107.1 103.8,109.8 104,107.1 104.3,107.3 104.5,101.3 104.7,107.8 105,103.7 105.2,103.9 105.5,107.9 105.7,103.5 105.9,111.9 106.2,105.8 106.4,103.8 106.7,112 106.9,109.4 107.2,102.9 107.4,106.9 107.6,109.6 107.9,107.8 108.1,107.8 108.4,104.3 108.6,105.4 108.8,107.4 109.1,109 109.3,107 109.6,102.6 109.8,105.2 110.1,104.8 110.3,107.2 110.5,110.5 110.8,108.9 111,104.5 111.3,106.6 111.5,109.8 111.7,111.8 112,106.4 112.2,107.7 112.5,107.3 112.7,107.5 113,106.2 113.2,106.6 113.4,104.4 113.7,104.3 113.9,103.2 114.2,104.6 114.4,107.7 114.6,107.2 114.9,106.3 115.1,108.6 115.4,106.6 115.6,104.9 115.8,110.5 116.1,113.7 116.3,104.9 116.6,108.7 116.8,106.8 117.1,112.3 117.3,103.4 117.5,106.2 117.8,108.6 118,109.4 118.3,108.6 118.5,108.6 118.7,108.9 119,111.4 119.2,104.4 119.5,107.9 119.7,108 120,107.7 120.2,113.8 120.4,106.5 120.7,109.2 120.9,109.2 121.2,108 121.4,110.4 121.6,105.6 121.9,109.6 122.1,109.4 122.4,108.9 122.6,105.9 122.9,103.9 123.1,107.4 123.3,110 123.6,102.9 123.8,109.1 124.1,102.5 124.3,106.4 124.5,107.7 124.8,107.7 125,104.8 125.3,103.5 125.5,106.2 125.8,103.3 126,100.5 126.2,107.5 126.5,110.6 126.7,110.6 127,111.2 127.2,109 127.4,109.4 127.7,111.4 127.9,106.2 128.2,113.5 128.4,111.8 128.7,102.9 128.9,105.5 129.1,107.5 129.4,108.4 129.6,105.1 129.9,109 130.1,110.7 130.3,114.7 130.6,111.7 130.8,113.7 131.1,113.9 131.3,113.8 131.6,112.1 131.8,114 132,110.4 132.3,116.9 132.5,113.6 132.8,108.2 133,113.4 133.2,109.9 133.5,109.8 133.7,109.4 134,111.3 134.2,118.3 134.5,115.7 134.7,116 134.9,119.6 135.2,116.7 135.4,118.4 135.7,119.6 135.9,114.7 136.1,116.1 136.4,118.1 136.6,118.8 136.9,118.2 137.1,117.3 137.4,117.5 137.6,116.5 137.8,116.7 138.1,114.3 138.3,113.9 138.6,114.8 138.8,118 139,117.7 139.3,114.9 139.5,116.6 139.8,116.3 140,122.2 140.2,122.7 140.5,116.4 140.7,116.6 141,113.3 141.2,115.1 141.5,116 141.7,116.3 141.9,120.2 142.2,113.3 142.4,117.3 142.7,115.2 142.9,115.9 143.1,115.9 143.4,113.9 143.6,117.5 143.9,117 144.1,117.5 144.4,116.3 144.6,110.5 144.8,116.4 145.1,112.8 145.3,113.6 145.6,113.5 145.8,113.2 146,118.5 146.3,114.3 146.5,110.5 146.8,117.6 147,115.9 147.3,117.2 147.5,113.9 147.7,117.7 148,110.1 148.2,116.4 148.5,119.6 148.7,110.3 148.9,113 149.2,114.8 149.4,115.1 149.7,117.5 149.9,116.5 150.2,114.4 150.4,113.1 150.6,112.6 150.9,115.2 151.1,117.7 151.4,117.2 151.6,113.7 151.8,112.6 152.1,117.9 152.3,118 152.6,113.2 152.8,114.9 153.1,115.3 153.3,121.1 153.5,118.3 153.8,119.4 154,117 154.3,122.4 154.5,114.1 154.7,117.1 155,116.6 155.2,121.1 155.5,116.9 155.7,113.4 156,122 156.2,116.4 156.4,115.2 156.7,118.9 156.9,115.2 157.2,118.8 157.4,113.8 157.6,116.1 157.9,117.4 158.1,111.8 158.4,114.3 158.6,113.6 158.9,120.7 159.1,119.1 159.3,114.9 159.6,115.2 159.8,118.4 160.1,116.1 160.3,121.4 160.5,117.6 160.8,121.5 161,117 161.3,120 161.5,120.2 161.8,118.5 162,113.5 162.2,121.9 162.5,120.8 162.7,116.4 163,120.4 163.2,114.1 163.4,118.5 163.7,118.9 163.9,118.4 164.2,114.3 164.4,117.7 164.6,119 164.9,119.9 165.1,125.1 165.4,123.5 165.6,117.2 165.9,118.8 166.1,119.8 166.3,119.5 166.6,122.6 166.8,119.9 167.1,123.7 167.3,119.9 167.5,123.4 167.8,122.2 168,120.9 168.3,123.1 168.5,120.1 168.8,120.8 169,120.8 169.2,118 169.5,126.1 169.7,126.6 170,120.2 170.2,119.4 170.4,116.1 170.7,119.7 170.9,119.2 171.2,124 171.4,119.2 171.7,119"/>
<line x1="41.2" x2="331.1" y1="95.11" y2="95.11" stroke="#000" stroke-width="1.25" stroke-dasharray="4.1 1.81"/>
<line x1="41.2" x2="331.1" y1="107.13" y2="107.13" stroke="#000" stroke-width="1.2" stroke-dasharray="1.15 1.8"/>
<line x1="41.2" x2="331.1" y1="131.17" y2="131.17" stroke="#000" stroke-width="1.2" stroke-dasharray="1.15 1.8"/>
<line x1="41.2" x2="331.1" y1="143.19" y2="143.19" stroke="#000" stroke-width="1.25" stroke-dasharray="4.1 1.81"/>
</g>
<rect x="41.2" y="29.0" width="289.90" height="180.30" fill="none" stroke="#000" stroke-width="0.8"/>
<path stroke="#000" stroke-width="1.5" d="M41.20 209.30v-8.3M41.20 29.00v8.3M89.52 209.30v-8.3M89.52 29.00v8.3M137.83 209.30v-8.3M137.83 29.00v8.3M186.15 209.30v-8.3M186.15 29.00v8.3M234.47 209.30v-8.3M234.47 29.00v8.3M282.78 209.30v-8.3M282.78 29.00v8.3M331.10 209.30v-8.3M331.10 29.00v8.3M41.20 209.30h8.3M331.10 209.30h-8.3M41.20 179.25h8.3M331.10 179.25h-8.3M41.20 149.20h8.3M331.10 149.20h-8.3M41.20 119.15h8.3M331.10 119.15h-8.3M41.20 89.10h8.3M331.10 89.10h-8.3M41.20 59.05h8.3M331.10 59.05h-8.3M41.20 29.00h8.3M331.10 29.00h-8.3"/>
<path stroke="#000" stroke-width="1.0" d="M53.28 209.30v-4.3M53.28 29.00v4.3M65.36 209.30v-4.3M65.36 29.00v4.3M77.44 209.30v-4.3M77.44 29.00v4.3M101.60 209.30v-4.3M101.60 29.00v4.3M113.68 209.30v-4.3M113.68 29.00v4.3M125.75 209.30v-4.3M125.75 29.00v4.3M149.91 209.30v-4.3M149.91 29.00v4.3M161.99 209.30v-4.3M161.99 29.00v4.3M174.07 209.30v-4.3M174.07 29.00v4.3M198.23 209.30v-4.3M198.23 29.00v4.3M210.31 209.30v-4.3M210.31 29.00v4.3M222.39 209.30v-4.3M222.39 29.00v4.3M246.55 209.30v-4.3M246.55 29.00v4.3M258.62 209.30v-4.3M258.62 29.00v4.3M270.70 209.30v-4.3M270.70 29.00v4.3M294.86 209.30v-4.3M294.86 29.00v4.3M306.94 209.30v-4.3M306.94 29.00v4.3M319.02 209.30v-4.3M319.02 29.00v4.3M41.20 203.29h4.3M331.10 203.29h-4.3M41.20 197.28h4.3M331.10 197.28h-4.3M41.20 191.27h4.3M331.10 191.27h-4.3M41.20 185.26h4.3M331.10 185.26h-4.3M41.20 173.24h4.3M331.10 173.24h-4.3M41.20 167.23h4.3M331.10 167.23h-4.3M41.20 161.22h4.3M331.10 161.22h-4.3M41.20 155.21h4.3M331.10 155.21h-4.3M41.20 143.19h4.3M331.10 143.19h-4.3M41.20 137.18h4.3M331.10 137.18h-4.3M41.20 131.17h4.3M331.10 131.17h-4.3M41.20 125.16h4.3M331.10 125.16h-4.3M41.20 113.14h4.3M331.10 113.14h-4.3M41.20 107.13h4.3M331.10 107.13h-4.3M41.20 101.12h4.3M331.10 101.12h-4.3M41.20 95.11h4.3M331.10 95.11h-4.3M41.20 83.09h4.3M331.10 83.09h-4.3M41.20 77.08h4.3M331.10 77.08h-4.3M41.20 71.07h4.3M331.10 71.07h-4.3M41.20 65.06h4.3M331.10 65.06h-4.3M41.20 53.04h4.3M331.10 53.04h-4.3M41.20 47.03h4.3M331.10 47.03h-4.3M41.20 41.02h4.3M331.10 41.02h-4.3M41.20 35.01h4.3M331.10 35.01h-4.3"/>
<line x1="41.2" x2="331.1" y1="119.15" y2="119.15" stroke="#dc143c" stroke-opacity="0.92" stroke-width="1.2"/>
<rect x="150.2" y="145.9" width="174.20" height="57.40" rx="2.5" fill="#fff" fill-opacity="0.8" stroke="#d6d6d6" stroke-width="0.8"/>
<line x1="154.1" x2="180.1" y1="155.6" y2="155.6" stroke="#ee82ee" stroke-width="1.4"/>
<text x="188.9" y="160.1" font-family='"Liberation Sans", sans-serif' font-size="11.2" fill="#222">M2-L1</text>
<line x1="154.1" x2="180.1" y1="173.7" y2="173.7" stroke="#800080" stroke-width="1.4"/>
<text x="188.9" y="178.2" font-family='"Liberation Sans", sans-serif' font-size="11.2" fill="#222">M2-L2</text>
<line x1="154.1" x2="180.1" y1="191.5" y2="191.5" stroke="#4682b4" stroke-width="1.4"/>
<text x="188.9" y="196.0" font-family='"Liberation Sans", sans-serif' font-size="11.2" fill="#222">M2-L3</text>
<line x1="245.0" x2="270.6" y1="155.6" y2="155.6" stroke="#ff0000" stroke-width="1.4"/>
<text x="279.6" y="160.1" font-family='"Liberation Sans", sans-serif' font-size="11.2" fill="#222">M2-RR1</text>
<line x1="245.0" x2="270.6" y1="173.7" y2="173.7" stroke="#ff7f50" stroke-width="1.4"/>
<text x="279.6" y="178.2" font-family='"Liberation Sans", sans-serif' font-size="11.2" fill="#222">M2-DF2</text>
<text x="41.20" y="223.90" text-anchor="middle" font-family='"Liberation Serif", serif' font-size="13.3" fill="#4a4a4a">0</text>
<text x="89.52" y="223.90" text-anchor="middle" font-family='"Liberation Serif", serif' font-size="13.3" fill="#4a4a4a">2</text>
<text x="137.83" y="223.90" text-anchor="middle" font-family='"Liberation Serif", serif' font-size="13.3" fill="#4a4a4a">4</text>
<text x="186.15" y="223.90" text-anchor="middle" font-family='"Liberation Serif", serif' font-size="13.3" fill="#4a4a4a">6</text>
<text x="234.47" y="223.90" text-anchor="middle" font-family='"Liberation Serif", serif' font-size="13.3" fill="#4a4a4a">8</text>
<text x="282.78" y="223.90" text-anchor="middle" font-family='"Liberation Serif", serif' font-size="13.3" fill="#4a4a4a">10</text>
<text x="331.10" y="223.90" text-anchor="middle" font-family='"Liberation Serif", serif' font-size="13.3" fill="#4a4a4a">12</text>
<text x="35.70" y="213.60" text-anchor="end" font-family='"Liberation Serif", serif' font-size="13.3" fill="#4a4a4a">−15</text>
<text x="35.70" y="183.55" text-anchor="end" font-family='"Liberation Serif", serif' font-size="13.3" fill="#4a4a4a">−10</text>
<text x="35.70" y="153.50" text-anchor="end" font-family='"Liberation Serif", serif' font-size="13.3" fill="#4a4a4a">−5</text>
<text x="35.70" y="123.45" text-anchor="end" font-family='"Liberation Serif", serif' font-size="13.3" fill="#4a4a4a">0</text>
<text x="35.70" y="93.40" text-anchor="end" font-family='"Liberation Serif", serif' font-size="13.3" fill="#4a4a4a">5</text>
<text x="35.70" y="63.35" text-anchor="end" font-family='"Liberation Serif", serif' font-size="13.3" fill="#4a4a4a">10</text>
<text x="35.70" y="33.30" text-anchor="end" font-family='"Liberation Serif", serif' font-size="13.3" fill="#4a4a4a">15</text>
<text x="186.15" y="236.90" text-anchor="middle" font-family='"Liberation Serif", serif' font-size="13.3" fill="#4a4a4a">ETT</text>
<text transform="translate(11.2 119.15) rotate(-90)" text-anchor="middle" font-family='"Liberation Serif", serif' font-size="12.8" fill="#4a4a4a"><tspan font-style="italic">E</tspan><tspan font-style="italic" font-size="9.5" dy="1.8">VK</tspan><tspan dy="-1.8"> </tspan><tspan font-size="14.5">%</tspan><tspan> error</tspan></text>
<text x="165.9" y="16.3" text-anchor="middle" font-family='"Liberation Serif", serif' font-weight="bold" font-size="18" letter-spacing="0.9" fill="#000">(a)</text>
<clipPath id="clipb"><rect x="388.9" y="29.0" width="289.90" height="180.30"/></clipPath>
<g clip-path="url(#clipb)" fill="none" stroke-width="1.5" stroke-linejoin="round">
<polyline stroke="#ee82ee" points="402.9,227.4 403.2,223.3 403.4,220.8 403.6,220 403.9,217.2 404.1,214.8 404.4,211.3 404.6,209.5 404.8,206.5 405.1,207 405.3,201.1 405.6,200.6 405.8,197.6 406.1,196.4 406.3,194.6 406.5,191.8 406.8,189.5 407,188.6 407.3,186.8 407.5,184.1 407.7,184.2 408,183.5 408.2,179.5 408.5,179.3 408.7,179.4 409,176.4 409.2,174.7 409.4,174.3 409.7,173.4 409.9,170.6 410.2,168.3 410.4,168.4 410.6,167.9 410.9,165.3 411.1,163.7 411.4,164 411.6,161.9 411.9,160.5 412.1,160.6 412.3,160 412.6,157.5 412.8,156.6 413.1,154.6 413.3,156.5 413.5,154.6 413.8,153.8 414,153.9 414.3,150.6 414.5,149.1 414.7,149.7 415,146 415.2,145.5 415.5,145.2 415.7,144.4 416,142.7 416.2,144.8 416.4,141.7 416.7,141 416.9,143.1 417.2,139.3 417.4,139.3 417.6,137.2 417.9,137.7 418.1,136.2 418.4,134.9 418.6,135.5 418.9,132.6 419.1,132.5 419.3,131.1 419.6,131.9 419.8,128.9 420.1,128.6 420.3,128.9 420.5,126.8 420.8,125.2 421,123.4 421.3,127.3 421.5,123.2 421.8,123.1 422,123.6 422.2,124.7 422.5,121.3 422.7,124.4 423,122 423.2,121.1 423.4,125.6 423.7,124.2 423.9,125.6 424.2,123.7 424.4,122.7 424.7,122.4 424.9,128.2 425.1,126.7 425.4,124.9 425.6,123.7 425.9,125.1 426.1,126.7 426.3,124.9 426.6,125 426.8,124.6 427.1,124.9 427.3,123 427.6,122.8 427.8,123.1 428,122.8 428.3,124.3 428.5,122.7 428.8,120 429,121.9 429.2,123.5 429.5,118.8 429.7,119.9 430,117.6 430.2,120.2 430.5,120.7 430.7,121.9 430.9,117.2 431.2,115.9 431.4,120 431.7,119.3 431.9,117.3 432.1,119 432.4,117.9 432.6,117.9 432.9,116.8 433.1,115.1 433.4,116.3 433.6,114.7 433.8,116.5 434.1,115.4 434.3,119.3 434.6,118.3 434.8,114.6 435,116.5 435.3,114.3 435.5,114.3 435.8,112.6 436,113 436.3,112.5 436.5,114.1 436.7,114.8 437,114.7 437.2,114.3 437.5,115.3 437.7,114.6 437.9,113.8 438.2,113.3 438.4,114.3 438.7,116.7 438.9,113.8 439.1,113 439.4,111.8 439.6,112.4 439.9,114.5 440.1,114.6 440.4,110.4 440.6,112.6 440.8,111 441.1,111.2 441.3,115.9 441.6,113.7 441.8,113.5 442,113.5 442.3,114 442.5,115.1 442.8,115 443,118.3 443.3,116.4 443.5,117.4 443.7,115.9 444,117.2 444.2,115.6 444.5,115.2 444.7,116.1 444.9,116.2 445.2,116.5 445.4,117.5 445.7,117.1 445.9,117.6 446.2,115.8 446.4,116.5 446.6,115.3 446.9,118.6 447.1,114.7 447.4,117.7 447.6,117.4 447.8,116.6 448.1,117.1 448.3,115.3 448.6,116.4 448.8,117.1 449.1,116.7 449.3,112.7 449.5,114.5 449.8,116.4 450,114.4 450.3,116.9 450.5,110.7 450.7,116.8 451,113.2 451.2,113.2 451.5,116.6 451.7,113.7 452,112.4 452.2,113.3 452.4,113.9 452.7,113 452.9,114 453.2,113.9 453.4,114.8 453.6,113.4 453.9,116.5 454.1,113.3 454.4,115.7 454.6,116.7 454.9,114.2 455.1,111.6 455.3,112.9 455.6,115.9 455.8,114.2 456.1,116.6 456.3,116.1 456.5,115.6 456.8,119.5 457,115.8 457.3,118.5 457.5,118.2 457.8,119.8 458,119.8 458.2,118.9 458.5,115.6 458.7,114.2 459,117.3 459.2,115.2 459.4,117.6 459.7,120.6 459.9,116.1 460.2,115.9 460.4,117.5 460.7,116.3 460.9,116 461.1,118.7 461.4,119.8 461.6,117.3 461.9,117.2 462.1,117.4 462.3,115.2 462.6,114.3 462.8,117.9 463.1,115.3 463.3,114.7 463.5,115.5 463.8,115.2 464,117.8 464.3,115.7 464.5,113 464.8,115 465,117.7 465.2,115.2 465.5,114 465.7,115.3 466,117.1 466.2,113.2 466.4,118.5 466.7,114.9 466.9,115.9 467.2,118.4 467.4,113.8 467.7,115.7 467.9,118.3 468.1,114.6 468.4,116.4 468.6,119.4 468.9,117.3 469.1,115.7 469.3,115 469.6,115.6 469.8,115.3 470.1,115 470.3,116.4 470.6,113.8 470.8,115.5 471,115.1 471.3,114.8 471.5,117.4 471.8,116.7 472,112.5 472.2,114.9 472.5,116.2 472.7,115 473,117.3 473.2,115.6 473.5,117.3 473.7,115.4 473.9,119.2 474.2,113.7 474.4,117.3 474.7,119.3 474.9,116.6 475.1,117.4 475.4,116.4 475.6,119.3 475.9,116.4 476.1,113.1 476.4,119.1 476.6,116 476.8,117.2 477.1,116.1 477.3,119.7 477.6,118 477.8,115.2 478,116.1 478.3,113 478.5,117.5 478.8,115.9 479,112.2 479.3,117.6 479.5,117.9 479.7,116.2 480,116.2 480.2,113.9 480.5,115.2 480.7,116.8 480.9,115.1 481.2,111.7 481.4,113.1 481.7,119.5 481.9,116 482.2,117.4 482.4,114.3 482.6,116.2 482.9,111.7 483.1,113.5 483.4,113.5 483.6,115 483.8,115.7 484.1,115.1 484.3,113.5 484.6,115 484.8,117.1 485.1,113.8 485.3,115.8 485.5,116.4 485.8,117.7 486,117.5 486.3,117.8 486.5,120.4 486.7,114.7 487,115.5 487.2,117.1 487.5,115.1 487.7,116.5 487.9,116.7 488.2,121 488.4,117.6 488.7,116.1 488.9,114.1 489.2,113.5 489.4,114.2 489.6,118.9 489.9,120.4 490.1,116 490.4,117.1 490.6,115.5 490.8,117.3 491.1,116.5 491.3,120.1 491.6,116.5 491.8,118.1 492.1,116.4 492.3,116.2 492.5,117 492.8,115.8 493,116.2 493.3,114.5 493.5,115.2 493.7,116.9 494,116.8 494.2,112.7 494.5,116 494.7,113.8 495,114.9 495.2,116.7 495.4,117.1 495.7,115.6 495.9,115.4 496.2,114.5 496.4,118.5 496.6,117.3 496.9,116.7 497.1,113.7 497.4,120.1 497.6,115.5 497.9,117.4 498.1,115.7 498.3,117.2 498.6,115.3 498.8,113 499.1,115.5 499.3,115.6 499.5,115.8 499.8,118.3 500,116.1 500.3,117.6 500.5,119 500.8,117.4 501,118 501.2,116.5 501.5,117.9 501.7,119 502,115.2 502.2,116.2 502.4,115.4 502.7,116.6 502.9,117.7 503.2,118.1 503.4,117.9 503.7,115.2 503.9,116.6 504.1,119.1 504.4,116.1 504.6,118.7 504.9,116 505.1,118.9 505.3,119.1 505.6,116.6 505.8,116.8 506.1,119.7 506.3,115.1 506.6,112.8 506.8,119.2 507,112.9 507.3,117.7 507.5,117.3 507.8,116.7 508,118.9 508.2,113.8 508.5,115 508.7,117.3 509,116.4 509.2,118.8 509.5,116.6 509.7,114 509.9,118.7 510.2,116.7 510.4,115.7 510.7,114.1 510.9,114 511.1,117.3 511.4,117.9 511.6,116.1 511.9,117.4 512.1,117.2 512.3,114.2 512.6,112.9 512.8,115.4 513.1,116.1 513.3,114.8 513.6,119 513.8,115.5 514,117.2 514.3,111.5 514.5,113.5 514.8,114.8 515,115.1 515.2,118.4 515.5,113.5 515.7,111.9 516,115.9 516.2,113.1 516.5,113.3 516.7,117.2 516.9,112.7 517.2,111.6 517.4,113.7 517.7,114.1 517.9,112.3 518.1,116.1 518.4,113.1 518.6,111.6 518.9,115.4 519.1,111.3 519.4,113.8 519.6,116.8 519.8,113.3 520.1,115 520.3,112.7 520.6,115.1 520.8,111.2 521,114.4 521.3,112.7 521.5,114.4 521.8,113.7 522,110.5 522.3,112.3 522.5,113.3 522.7,114.5 523,109.8 523.2,110.7 523.5,112.5 523.7,111.3 523.9,113.6 524.2,114 524.4,113.9 524.7,111.8 524.9,112 525.2,114.2 525.4,111.8 525.6,111.7 525.9,112.7 526.1,111.3 526.4,113.7 526.6,113.2 526.8,112 527.1,113 527.3,111.6 527.6,115.4 527.8,110.8 528.1,115.1 528.3,114 528.5,116.1 528.8,112.4 529,111.4 529.3,112.1 529.5,112.6 529.7,116.7 530,115.7 530.2,115.4 530.5,116.5 530.7,113 531,114.6 531.2,115 531.4,114.2 531.7,116.8 531.9,116.6 532.2,116.6 532.4,114 532.6,114.4 532.9,114.5 533.1,113.7 533.4,117.9 533.6,116.7 533.9,115.9 534.1,118.7 534.3,117.3 534.6,114.5 534.8,114.2 535.1,114.3 535.3,116 535.5,116.8 535.8,114.3 536,117.3 536.3,115.9 536.5,114.1 536.7,117.2 537,118 537.2,117 537.5,116.3 537.7,116.5 538,117.1 538.2,116.6 538.4,120.5 538.7,119.1 538.9,117.3 539.2,119.6 539.4,120.6 539.6,120.2 539.9,119.5 540.1,117.9 540.4,119.5 540.6,117.5 540.9,114.9 541.1,117.9 541.3,115.7 541.6,117.4 541.8,120.2 542.1,118.9 542.3,120.1 542.5,117.1 542.8,120.4 543,116 543.3,117.3 543.5,121.9 543.8,116.9 544,115.6 544.2,120.2 544.5,116.8 544.7,121.3 545,117.5 545.2,120.9 545.4,117 545.7,121 545.9,121.6 546.2,117.6 546.4,114.7 546.7,118.8 546.9,116.5 547.1,117.6 547.4,118.3 547.6,116.8 547.9,114.6 548.1,119.8 548.3,116.4 548.6,116.3 548.8,119.5 549.1,114.2 549.3,113.4 549.6,118.4 549.8,113.8 550,116.7 550.3,117.3 550.5,114.3 550.8,116.6 551,116.5 551.2,114.1 551.5,113.9 551.7,114.4 552,118.4 552.2,119 552.5,114 552.7,117.5 552.9,115.7 553.2,117.7 553.4,116.3 553.7,118.2 553.9,113.3 554.1,118 554.4,116.7 554.6,116.9 554.9,114.1 555.1,119 555.4,116.5 555.6,116.7 555.8,115.7 556.1,115.6 556.3,117.2 556.6,116 556.8,117.1 557,115.4 557.3,116.3 557.5,117.3 557.8,116.4 558,115.7 558.2,112.8 558.5,117.2 558.7,116.1 559,114.2 559.2,120.4 559.5,119.7 559.7,118.9 559.9,117.3 560.2,113.4 560.4,116 560.7,114.5 560.9,117.1 561.1,120.2 561.4,120.1 561.6,114.8 561.9,116.1 562.1,118.5 562.4,114.3 562.6,118.7 562.8,114.1 563.1,113.5 563.3,117.6 563.6,117.9 563.8,114.5 564,117.5 564.3,113.9 564.5,117.3 564.8,113.4 565,114.7 565.3,115.5 565.5,116.5 565.7,114.4 566,117.8 566.2,115.5 566.5,115.4 566.7,113.7 566.9,116.8 567.2,111.6 567.4,115.1 567.7,116.5 567.9,112 568.2,111.3 568.4,114.2 568.6,115.2 568.9,113.6 569.1,114.8 569.4,114.4 569.6,110.8 569.8,113 570.1,113.5 570.3,113 570.6,113.6 570.8,112.3 571.1,112.3 571.3,114.7 571.5,113.9 571.8,110.7 572,113.8 572.3,114.6 572.5,110.8 572.7,114 573,116.1 573.2,113.3 573.5,115.4 573.7,115 574,113.4 574.2,114.5 574.4,115.5 574.7,115.3 574.9,115.3 575.2,112.1 575.4,115.1 575.6,115.2 575.9,111 576.1,115.5 576.4,112.1 576.6,112.3 576.9,115 577.1,117.2 577.3,114.1 577.6,113.7 577.8,112.9 578.1,114.3 578.3,112.4 578.5,112.4 578.8,117 579,113 579.3,115.2 579.5,116.5 579.8,116.1 580,112.7 580.2,114.3 580.5,118.9 580.7,115.9 581,116.3 581.2,116.5 581.4,116.9 581.7,118.6 581.9,114.7 582.2,117.9 582.4,117.3 582.6,117.9 582.9,118 583.1,115.5 583.4,116"/>
<polyline stroke="#800080" points="406.8,226.7 407,221.5 407.3,218.7 407.5,215.5 407.7,210.8 408,213.1 408.2,209.7 408.5,208.6 408.7,204.3 409,200.3 409.2,200.3 409.4,197.6 409.7,200.4 409.9,194.9 410.2,195.4 410.4,189 410.6,189.3 410.9,188.2 411.1,188.6 411.4,185.9 411.6,184.8 411.9,186.1 412.1,185 412.3,183.2 412.6,182.9 412.8,181.9 413.1,180.1 413.3,180.1 413.5,176.5 413.8,180.7 414,175.2 414.3,177.4 414.5,176.7 414.7,177.7 415,174.9 415.2,174.4 415.5,172.9 415.7,173.5 416,171.7 416.2,167.8 416.4,169.8 416.7,170.8 416.9,167.1 417.2,168.2 417.4,165.8 417.6,165.1 417.9,166.1 418.1,168.1 418.4,164.1 418.6,162.3 418.9,163.3 419.1,160.8 419.3,159.1 419.6,161.6 419.8,157.9 420.1,156.3 420.3,156.8 420.5,156.1 420.8,155.5 421,153.4 421.3,156.8 421.5,157 421.8,155.4 422,158.5 422.2,160.4 422.5,160 422.7,158.9 423,160.4 423.2,165.4 423.4,167.7 423.7,166.3 423.9,168.2 424.2,169.5 424.4,169.5 424.7,168.8 424.9,170.3 425.1,169.1 425.4,171.8 425.6,171.3 425.9,167.1 426.1,165.2 426.3,163.7 426.6,162.6 426.8,161 427.1,159.5 427.3,164 427.6,161.1 427.8,157.9 428,156.9 428.3,160.2 428.5,154.2 428.8,156.2 429,155.1 429.2,153.6 429.5,152 429.7,155.8 430,149.8 430.2,150.9 430.5,152.1 430.7,150.3 430.9,153.1 431.2,150 431.4,148 431.7,149.4 431.9,148.3 432.1,147.2 432.4,146.3 432.6,143.8 432.9,145.3 433.1,145.6 433.4,143.4 433.6,140.6 433.8,145.1 434.1,142.8 434.3,146.9 434.6,140.9 434.8,142.2 435,140.8 435.3,143.6 435.5,145.4 435.8,141.4 436,141.6 436.3,144.8 436.5,145.7 436.7,141.9 437,143.1 437.2,139.4 437.5,144.5 437.7,144.2 437.9,143.1 438.2,146.4 438.4,144.5 438.7,139.1 438.9,142.6 439.1,143.3 439.4,144.5 439.6,140.6 439.9,140.3 440.1,140.9 440.4,141.9 440.6,140.7 440.8,140.1 441.1,142.1 441.3,139.9 441.6,145.2 441.8,143.3 442,141.1 442.3,140.2 442.5,142.2 442.8,138.9 443,137.1 443.3,138.6 443.5,139 443.7,137.3 444,137.6 444.2,140.5 444.5,138.1 444.7,135.1 444.9,139.9 445.2,137.3 445.4,138 445.7,139 445.9,139 446.2,136.5 446.4,135.9 446.6,136.2 446.9,139.7 447.1,136.9 447.4,135.4 447.6,133.7 447.8,133.8 448.1,133.3 448.3,132.6 448.6,132.5 448.8,135.6 449.1,133.9 449.3,135.4 449.5,137.8 449.8,137 450,129.6 450.3,136.1 450.5,137.9 450.7,134.9 451,130.8 451.2,134.3 451.5,133.3 451.7,134.3 452,133.9 452.2,131.1 452.4,132 452.7,133.8 452.9,131.8 453.2,131.5 453.4,133.8 453.6,132.7 453.9,132.1 454.1,133.8 454.4,130.1 454.6,132.9 454.9,134.1 455.1,136.2 455.3,134.8 455.6,128.9 455.8,134.2 456.1,130.7 456.3,132.4 456.5,130.1 456.8,129.8 457,132.2 457.3,130.9 457.5,129.8 457.8,129.1 458,129.2 458.2,129.3 458.5,127 458.7,125.8 459,127.7 459.2,130.2 459.4,127.7 459.7,128.2 459.9,127.2 460.2,123.9 460.4,128.1 460.7,128 460.9,129.8 461.1,128.7 461.4,129.3 461.6,124.9 461.9,127.2 462.1,128.9 462.3,123.8 462.6,130.8 462.8,126.5 463.1,126.4 463.3,127 463.5,128.5 463.8,128.6 464,129.2 464.3,126.9 464.5,132.7 464.8,129.3 465,128 465.2,129.5 465.5,132.2 465.7,128.9 466,129.4 466.2,125.6 466.4,123.7 466.7,126.2 466.9,130.6 467.2,127.1 467.4,128.9 467.7,125.4 467.9,123 468.1,125.8 468.4,122.6 468.6,123.3 468.9,124.8 469.1,128 469.3,125.3 469.6,128.4 469.8,123 470.1,124.7 470.3,122.1 470.6,124.5 470.8,129 471,122.9 471.3,121.9 471.5,120.3 471.8,126 472,126 472.2,124.3 472.5,126.5 472.7,127 473,126.4 473.2,120.2 473.5,126 473.7,126.9 473.9,125.8 474.2,125.1 474.4,122.2 474.7,122.6 474.9,122.5 475.1,124.3 475.4,123.8 475.6,124.8 475.9,126.6 476.1,119.4 476.4,124.7 476.6,121.8 476.8,124.7 477.1,123.9 477.3,124.1 477.6,126.4 477.8,123.3 478,122.3 478.3,121.7 478.5,122.6 478.8,121.4 479,122.8 479.3,123.3 479.5,127.2 479.7,123.8 480,118.9 480.2,122.1 480.5,120.5 480.7,122.5 480.9,123.5 481.2,118 481.4,120.8 481.7,118.4 481.9,120.5 482.2,122.2 482.4,125.6 482.6,120.8 482.9,124.7 483.1,125.8 483.4,118.7 483.6,120 483.8,120.3 484.1,121.3 484.3,121.5 484.6,120.3 484.8,121.2 485.1,121.7 485.3,120.3 485.5,126.4 485.8,119.8 486,123.3 486.3,119.9 486.5,119.3 486.7,123.7 487,120.6 487.2,120.8 487.5,123.7 487.7,123.5 487.9,121.9 488.2,126.9 488.4,123.2 488.7,121.6 488.9,122.8 489.2,125.3 489.4,123.5 489.6,119.4 489.9,119.8 490.1,122.8 490.4,124.1 490.6,122.2 490.8,122 491.1,123.5 491.3,122.9 491.6,120.7 491.8,120 492.1,126.3 492.3,119.5 492.5,121.7 492.8,119.1 493,121.8 493.3,120.8 493.5,118.3 493.7,126.1 494,118.1 494.2,120.7 494.5,125.6 494.7,125.9 495,120.8 495.2,123.6 495.4,118.6 495.7,120.8 495.9,122 496.2,119.6 496.4,121.7 496.6,120.3 496.9,120.3 497.1,121.3 497.4,120.4 497.6,120.4 497.9,124.5 498.1,121.9 498.3,121.5 498.6,122 498.8,124.7 499.1,122.5 499.3,120.3 499.5,120.6 499.8,117.4 500,122.3 500.3,122 500.5,122.2 500.8,121.9 501,122.8 501.2,125.7 501.5,121.2 501.7,119.5 502,119.6 502.2,123.9 502.4,122.1 502.7,117.7 502.9,121.9 503.2,120.5 503.4,121.3 503.7,118.4 503.9,118.3 504.1,115.8 504.4,119.4 504.6,119.6 504.9,123.6 505.1,122.5 505.3,123.2 505.6,122.2 505.8,124.2 506.1,118.5 506.3,123.3 506.6,120.6 506.8,123.9 507,120.7 507.3,118 507.5,123.5 507.8,120.7 508,121.5 508.2,120.7 508.5,120.2 508.7,122.9 509,122.1 509.2,123.1 509.5,124 509.7,125.1 509.9,120.7 510.2,123.8 510.4,121.2 510.7,121.6 510.9,125 511.1,120.5 511.4,125.1 511.6,121.5 511.9,119.8 512.1,124.4 512.3,124.9 512.6,125 512.8,118.5 513.1,123.8 513.3,125.7 513.6,121.2 513.8,123.2 514,122.8 514.3,124.8 514.5,126.9 514.8,123.8 515,124.7 515.2,125.8 515.5,124.7 515.7,125 516,120.7 516.2,120.7 516.5,121.1 516.7,123.3 516.9,124.7 517.2,121.5 517.4,121.7 517.7,120.2 517.9,122.3 518.1,122.4 518.4,121 518.6,123.4 518.9,123.4 519.1,120.2 519.4,123.9 519.6,121.4 519.8,119.5 520.1,121 520.3,120.7 520.6,124.4 520.8,122.1 521,122.6 521.3,120.7 521.5,120.9 521.8,121.8 522,118 522.3,120.9 522.5,123 522.7,123.4 523,121.7 523.2,122.8 523.5,118.3 523.7,120.5 523.9,122.4 524.2,123.3 524.4,124 524.7,122.2 524.9,118.8 525.2,120.1 525.4,121.9 525.6,121.6 525.9,125.8 526.1,120 526.4,121.9 526.6,118.5 526.8,121.7 527.1,122.1 527.3,120.4 527.6,122.2 527.8,117.6 528.1,120 528.3,119.9 528.5,120.3 528.8,121.6 529,119.6 529.3,120.1 529.5,116.8 529.7,120.2 530,119.9 530.2,121.7 530.5,121.8 530.7,121.4 531,117.7 531.2,120 531.4,117.8 531.7,120.3 531.9,120.3 532.2,123.8 532.4,117.8 532.6,115.6 532.9,120.4 533.1,116.7 533.4,118 533.6,121.1 533.9,118.3 534.1,122.2 534.3,120.7 534.6,117.4 534.8,119.7 535.1,123.1 535.3,117.5 535.5,122.6 535.8,120.2 536,120.6 536.3,120.3 536.5,121.6 536.7,123.2 537,115.6 537.2,121.4 537.5,121.4 537.7,124.1 538,119.6 538.2,117 538.4,116.9 538.7,115.8 538.9,116.7 539.2,119.3 539.4,119.8 539.6,116.5 539.9,119.9 540.1,119.6 540.4,122.3 540.6,120.2 540.9,116.3 541.1,120.2 541.3,118.9 541.6,124.3 541.8,117 542.1,118.9 542.3,116.3 542.5,118.8 542.8,121.4 543,122.6 543.3,118.9 543.5,119.9 543.8,122.3 544,120.5 544.2,121.7 544.5,118.5 544.7,121 545,122.7 545.2,120.1 545.4,121 545.7,117.1 545.9,121.3 546.2,123 546.4,120.2 546.7,120.9 546.9,119.8 547.1,119.9 547.4,122.3 547.6,120.1 547.9,120 548.1,122.7 548.3,121.6 548.6,120 548.8,124.4 549.1,123.3 549.3,122.3 549.6,121.6 549.8,120.4 550,124.7 550.3,121.1 550.5,120.4 550.8,118.7 551,122.5 551.2,123.6 551.5,124.9 551.7,120.7 552,119.1 552.2,123 552.5,120.3 552.7,119.4 552.9,119.2 553.2,122 553.4,120.2 553.7,121.9 553.9,124.1 554.1,121.8 554.4,121.2 554.6,124.2 554.9,121 555.1,117.7 555.4,125.4 555.6,120.6 555.8,120 556.1,121.7 556.3,121.3 556.6,122.3 556.8,119 557,123.7 557.3,121.9 557.5,125.8 557.8,121.1 558,120.6 558.2,125.2 558.5,123.2 558.7,120.1 559,122.3 559.2,123.7 559.5,125.5 559.7,120.4 559.9,117.2 560.2,122.2 560.4,120.4 560.7,120.2 560.9,121.1 561.1,120.4 561.4,120.1 561.6,122.3 561.9,116.4 562.1,116.7 562.4,120.4 562.6,116.9 562.8,122.4 563.1,121.1 563.3,118.6 563.6,123.1 563.8,123.3 564,120 564.3,125 564.5,116.6 564.8,118.8 565,120 565.3,119.4 565.5,123.3 565.7,123.6 566,119.8 566.2,119.3 566.5,121 566.7,121.5 566.9,122.8 567.2,118.1 567.4,124.2 567.7,122.4 567.9,122 568.2,124 568.4,123.5 568.6,122.8 568.9,118.7 569.1,116.9 569.4,119.7 569.6,123.7 569.8,121.8 570.1,120.8 570.3,121.4 570.6,121.1 570.8,119.2 571.1,124.6 571.3,121.7 571.5,120.3 571.8,119.6 572,120 572.3,120.2 572.5,120.5 572.7,121 573,119.3 573.2,120.2 573.5,121.4 573.7,117.4 574,117.4 574.2,120.8 574.4,119.2 574.7,118 574.9,120.3 575.2,120.5 575.4,119.8 575.6,124.6 575.9,124.2 576.1,119.6"/>
<polyline stroke="#4682b4" points="401.5,225.9 401.7,227.8 401.9,222.4 402.2,221.2 402.4,217.6 402.7,216.4 402.9,212.6 403.2,212.3 403.4,210.5 403.6,207 403.9,204.6 404.1,202.9 404.4,200.1 404.6,196.3 404.8,193.5 405.1,192.1 405.3,189.4 405.6,188.4 405.8,182 406.1,181.9 406.3,178.1 406.5,177.4 406.8,174 407,172.6 407.3,172.3 407.5,169.3 407.7,170.8 408,166.6 408.2,168.5 408.5,165.1 408.7,163 409,162.8 409.2,162.7 409.4,162.2 409.7,160.8 409.9,158.2 410.2,157.3 410.4,157.9 410.6,158.5 410.9,155.1 411.1,157.3 411.4,155.3 411.6,154.8 411.9,152.2 412.1,152 412.3,150.9 412.6,150.1 412.8,150.3 413.1,147.4 413.3,145 413.5,145.7 413.8,143.6 414,143.4 414.3,140.7 414.5,140.3 414.7,139.5 415,140.2 415.2,138.1 415.5,140.5 415.7,140.1 416,140.3 416.2,138.4 416.4,140 416.7,140 416.9,137.6 417.2,137.1 417.4,138 417.6,141.8 417.9,140.2 418.1,140.2 418.4,140.1 418.6,138.7 418.9,135.4 419.1,138.4 419.3,139.1 419.6,137 419.8,138.2 420.1,138.3 420.3,139.9 420.5,138.9 420.8,138.1 421,141.6 421.3,141.3 421.5,137.4 421.8,138.5 422,141.2 422.2,142.2 422.5,141.5 422.7,143.6 423,142.5 423.2,139.7 423.4,142 423.7,140 423.9,141.8 424.2,140.7 424.4,138.3 424.7,142.3 424.9,140.1 425.1,139.5 425.4,138.6 425.6,136.4 425.9,137.5 426.1,140.6 426.3,137.9 426.6,138.5 426.8,137.9 427.1,132.5 427.3,137.2 427.6,134.5 427.8,135.8 428,133.3 428.3,133.8 428.5,134.2 428.8,134 429,131.5 429.2,134.6 429.5,134 429.7,134.3 430,129.7 430.2,132.4 430.5,133.3 430.7,132.4 430.9,127.9 431.2,131.2 431.4,129.1 431.7,129.6 431.9,130.2 432.1,131.4 432.4,130.2 432.6,129.9 432.9,132.3 433.1,124.9 433.4,126.8 433.6,128.2 433.8,128.6 434.1,129.7 434.3,126.3 434.6,128.1 434.8,126.6 435,129.8 435.3,126 435.5,123.1 435.8,126.8 436,124.8 436.3,125.8 436.5,123.9 436.7,123.7 437,125.4 437.2,126.3 437.5,124.6 437.7,124.8 437.9,125.6 438.2,123.3 438.4,123.5 438.7,126 438.9,124.4 439.1,120.6 439.4,122.6 439.6,124.1 439.9,120.7 440.1,125.4 440.4,128.4 440.6,127.9 440.8,127.1 441.1,123.8 441.3,122.2 441.6,127.7 441.8,121.4 442,125.7 442.3,122.6 442.5,122.5 442.8,122.5 443,123.3 443.3,122.7 443.5,124.9 443.7,122 444,120.9 444.2,121 444.5,119.3 444.7,120.7 444.9,121.2 445.2,119.3 445.4,122.5 445.7,125.4 445.9,126.4 446.2,120.1 446.4,121.4 446.6,120.8 446.9,122.7 447.1,121 447.4,117.6 447.6,120.5 447.8,123.4 448.1,122 448.3,118.1 448.6,123.1 448.8,124.9 449.1,125.2 449.3,124 449.5,119.6 449.8,120.9 450,122.7 450.3,123.6 450.5,121.3 450.7,121.7 451,122.5 451.2,121.7 451.5,122.6 451.7,117.1 452,124.8 452.2,120.4 452.4,122.5 452.7,118.5 452.9,120.5 453.2,119.8 453.4,119.3 453.6,120 453.9,118.6 454.1,123.4 454.4,118.8 454.6,121.1 454.9,119.6 455.1,116.6 455.3,117.2 455.6,115.1 455.8,123.3 456.1,121.2 456.3,117 456.5,121.6 456.8,119.4 457,115.3 457.3,117.1 457.5,120.7 457.8,117.8 458,117 458.2,118.3 458.5,118.5 458.7,118 459,121.5 459.2,118.3 459.4,120.8 459.7,118 459.9,118 460.2,121 460.4,117.5 460.7,117.9 460.9,118.4 461.1,116.5 461.4,118.9 461.6,118.6 461.9,117.8 462.1,118.4 462.3,116.2 462.6,123.6 462.8,120 463.1,123.4 463.3,120.4 463.5,118.9 463.8,118.9 464,116.9 464.3,118.3 464.5,122.7 464.8,121.4 465,115.4 465.2,115.9 465.5,118.8 465.7,122.5 466,114.5 466.2,123.1 466.4,118.2 466.7,119 466.9,118.4 467.2,121.5 467.4,119.4 467.7,116.2 467.9,119.7 468.1,121.7 468.4,118.6 468.6,118.4 468.9,119.1 469.1,120.9 469.3,117.9 469.6,119.6 469.8,121.5 470.1,118.9 470.3,119.4 470.6,118.9 470.8,123.2 471,121.4 471.3,118.8 471.5,117.6 471.8,119.1 472,119.4 472.2,118.1 472.5,117.2 472.7,115.7 473,118.5 473.2,120.9 473.5,118.7 473.7,123.5 473.9,119.1 474.2,120.2 474.4,119.5 474.7,118.5 474.9,119.2 475.1,122.3 475.4,120.3 475.6,121.3 475.9,119.5 476.1,118.4 476.4,121.3 476.6,117.5 476.8,116.2 477.1,119.7 477.3,117.4 477.6,122.4 477.8,120.6 478,117.1 478.3,123.2 478.5,120.6 478.8,121.7 479,117.2 479.3,117.3 479.5,121.4 479.7,120 480,124.4 480.2,117.9 480.5,119 480.7,117 480.9,124.2 481.2,118.8 481.4,120.2 481.7,123.7 481.9,121.1 482.2,120 482.4,118.3 482.6,119.3 482.9,121.1 483.1,119.1 483.4,120.3 483.6,121.6 483.8,122.9 484.1,120.3 484.3,120 484.6,116.6 484.8,121.4 485.1,116.9 485.3,119.7 485.5,117.7 485.8,122 486,122.2 486.3,121 486.5,118.4 486.7,119.8 487,118.7 487.2,119.7 487.5,118.5 487.7,120.5 487.9,121.9 488.2,119.7 488.4,121 488.7,117.5 488.9,121.7 489.2,120.7 489.4,122 489.6,119 489.9,119.9 490.1,120.3 490.4,124.2 490.6,124.7 490.8,120.6 491.1,119.3 491.3,117.7 491.6,125.2 491.8,121.5 492.1,125.1 492.3,123.2 492.5,121.5 492.8,119.1 493,122.8 493.3,123 493.5,122 493.7,118.5 494,117.1 494.2,124.6 494.5,121.6 494.7,121.8 495,118.3 495.2,120 495.4,118 495.7,123.6 495.9,121.4 496.2,122.4 496.4,123.9 496.6,121.6 496.9,123.5 497.1,116.4 497.4,119.8 497.6,123.4 497.9,122.6 498.1,117.4 498.3,122.4 498.6,119.7 498.8,119.9 499.1,119 499.3,119.8 499.5,121.7 499.8,123 500,125.5 500.3,121.6 500.5,121.2 500.8,122.5 501,122.1 501.2,124.3 501.5,117.3 501.7,123.1 502,124.5 502.2,123.4 502.4,122.3 502.7,120 502.9,125.8 503.2,120.4 503.4,123.1 503.7,122.4 503.9,119.8 504.1,120.6 504.4,123.7 504.6,122.4 504.9,118 505.1,118.8 505.3,119.9 505.6,121.8 505.8,119.9 506.1,121.2 506.3,122.9 506.6,123.9 506.8,120.6 507,120.5 507.3,118.5 507.5,122.2 507.8,118.3 508,122.1 508.2,118.7 508.5,120.5 508.7,122.9 509,123.6 509.2,121.7 509.5,122.3 509.7,119.8 509.9,123.3 510.2,125.1 510.4,121.6 510.7,117.3 510.9,117.5 511.1,122 511.4,121 511.6,119.8 511.9,121.9 512.1,120.7 512.3,121.1 512.6,123.1 512.8,121.6 513.1,121.2 513.3,120 513.6,123.2 513.8,120.3 514,122.3 514.3,121.6 514.5,122 514.8,115.4 515,116.9 515.2,116.8 515.5,117.5 515.7,119.6 516,119.4 516.2,119.2 516.5,118.7 516.7,118.4 516.9,116.4 517.2,124.3 517.4,121.4 517.7,118.9 517.9,121 518.1,120.8 518.4,117.7 518.6,120.5 518.9,117 519.1,121.1 519.4,120.7 519.6,123.4 519.8,125.4 520.1,122.4 520.3,121.3 520.6,121.6 520.8,123.8 521,119.7 521.3,121.2 521.5,121.7 521.8,123.9 522,118.7 522.3,119.2 522.5,121.4 522.7,123 523,122.2 523.2,118.5 523.5,117.4 523.7,121.9 523.9,122.7 524.2,125.7 524.4,117.5 524.7,124.1 524.9,120 525.2,120.8 525.4,119.1 525.6,124.1 525.9,125.5 526.1,121.4 526.4,120.8 526.6,119.4 526.8,125.7 527.1,122.7 527.3,122.4 527.6,124.7 527.8,121.8 528.1,119.9 528.3,121.7 528.5,124.9 528.8,121 529,120 529.3,120.6 529.5,119.7 529.7,125 530,119.8 530.2,119.4 530.5,121.7 530.7,120.8 531,122.2 531.2,117.8 531.4,121.3 531.7,122.3 531.9,119.9 532.2,119.8 532.4,118.6 532.6,121.8 532.9,121.4 533.1,119.3 533.4,116.3 533.6,119.5 533.9,123.1 534.1,119.6 534.3,121.7 534.6,123.9 534.8,121.3 535.1,121.2 535.3,118.9 535.5,117.1 535.8,117.2 536,117.5 536.3,120.1 536.5,118.8 536.7,119.4 537,116.3 537.2,121.1 537.5,121.1 537.7,116.5 538,118.5 538.2,120.6 538.4,119.4 538.7,119.1 538.9,119.2 539.2,117.7 539.4,118.6 539.6,119.7 539.9,120.1 540.1,122 540.4,119 540.6,115.3 540.9,117.5 541.1,119.5 541.3,118.7 541.6,120 541.8,117.5 542.1,114.1 542.3,114.7 542.5,116 542.8,116.6 543,118.9 543.3,121.5 543.5,118.7 543.8,120 544,116.8 544.2,118.3 544.5,119.7 544.7,117.2 545,114.1 545.2,120.8 545.4,116.3 545.7,117.6 545.9,119.3 546.2,120.6 546.4,119 546.7,119 546.9,117.9 547.1,118.2 547.4,119.7 547.6,121.8 547.9,119.9 548.1,121.6 548.3,123.1 548.6,119.1 548.8,122.3 549.1,123.3 549.3,120.4 549.6,124.9 549.8,120.6 550,119.6 550.3,121.6 550.5,119.9 550.8,116.4 551,117.2 551.2,118.4 551.5,118.8 551.7,121 552,120.1 552.2,120.5 552.5,119.4 552.7,119.2 552.9,121.3 553.2,116.3 553.4,122.2 553.7,119.5 553.9,117.7 554.1,119.8 554.4,121.2 554.6,119.7 554.9,115.8 555.1,118.2 555.4,119.9 555.6,117.8 555.8,119.5 556.1,123.4 556.3,118.7 556.6,116.9 556.8,116.2 557,118.6 557.3,121.4 557.5,115.9 557.8,119.1 558,116.8 558.2,116 558.5,118 558.7,119 559,120.2 559.2,120 559.5,119.2 559.7,120.4 559.9,118.6 560.2,123.3 560.4,121.1 560.7,118.8 560.9,120 561.1,119.5 561.4,121 561.6,117 561.9,115 562.1,120.4 562.4,115.9 562.6,121.7 562.8,118.3 563.1,122.9 563.3,117.7 563.6,118.8 563.8,118.5 564,116.4 564.3,118 564.5,119.6 564.8,121 565,118.8 565.3,120.6 565.5,120.2 565.7,116 566,117.4 566.2,119.2 566.5,118.4 566.7,122.7 566.9,119.4 567.2,123.4 567.4,121.4 567.7,119.1 567.9,119.2 568.2,118.4 568.4,119.8 568.6,120.1 568.9,120.3 569.1,117.1 569.4,117.6 569.6,123.7 569.8,120.2 570.1,117.7"/>
<polyline stroke="#ff0000" points="401.9,225.1 402.2,223.5 402.4,220 402.7,216.5 402.9,209.3 403.2,202.5 403.4,201.8 403.6,197.5 403.9,193 404.1,193.9 404.4,184.7 404.6,188.1 404.8,183 405.1,177 405.3,179.7 405.6,177.6 405.8,177.6 406.1,174.7 406.3,179.2 406.5,175.2 406.8,168.9 407,171.1 407.3,171.3 407.5,169.2 407.7,168.5 408,168.2 408.2,166.5 408.5,171 408.7,165.3 409,166.9 409.2,162.9 409.4,164 409.7,165.1 409.9,162.2 410.2,163.5 410.4,157.8 410.6,159.1 410.9,156.3 411.1,160.4 411.4,153.5 411.6,157.2 411.9,152.6 412.1,153.2 412.3,157.6 412.6,153.5 412.8,155 413.1,152.3 413.3,149.4 413.5,150.5 413.8,149.3 414,154.5 414.3,150.9 414.5,150.3 414.7,148.6 415,152.7 415.2,149.4 415.5,149.3 415.7,154.1 416,152.7 416.2,149.1 416.4,152.1 416.7,152.2 416.9,146.8 417.2,147.9 417.4,148.6 417.6,147.4 417.9,148 418.1,147.5 418.4,146.5 418.6,144.1 418.9,141.5 419.1,145.2 419.3,144 419.6,143.8 419.8,145.8 420.1,142.1 420.3,140.6 420.5,144.9 420.8,140.9 421,144.8 421.3,141.2 421.5,142.3 421.8,147.3 422,152.3 422.2,149.4 422.5,153.1 422.7,153.9 423,151.8 423.2,147.5 423.4,151.1 423.7,151.1 423.9,154.2 424.2,150.2 424.4,151.1 424.7,145.4 424.9,146.4 425.1,144 425.4,143.3 425.6,142.5 425.9,138.4 426.1,138.7 426.3,140.1 426.6,138.3 426.8,136.4 427.1,133.6 427.3,136 427.6,131.8 427.8,136.7 428,135.6 428.3,138.6 428.5,132.5 428.8,136.7 429,136.3 429.2,130.6 429.5,133.9 429.7,133.8 430,128.8 430.2,131.1 430.5,128.4 430.7,131 430.9,127.8 431.2,126.4 431.4,128.7 431.7,123.7 431.9,128.6 432.1,128.4 432.4,127.4 432.6,124.1 432.9,127.8 433.1,127.8 433.4,125.5 433.6,122.8 433.8,126.6 434.1,129.3 434.3,126.3 434.6,124.3 434.8,127.4 435,125.3 435.3,130.4 435.5,125 435.8,124.2 436,122.5 436.3,122.9 436.5,121.9 436.7,126.6 437,122.2 437.2,128.1 437.5,125.3 437.7,120.8 437.9,121.4 438.2,128.9 438.4,122.4 438.7,125 438.9,125.3 439.1,123.1 439.4,123.6 439.6,120.2 439.9,128 440.1,125.3 440.4,124.4 440.6,129.1 440.8,120.8 441.1,119.2 441.3,124.8 441.6,121.9 441.8,123.3 442,121.6 442.3,123.7 442.5,119.4 442.8,125 443,118.4 443.3,121 443.5,116.6 443.7,126.1 444,121.3 444.2,124.5 444.5,121.6 444.7,120 444.9,123.2 445.2,124.8 445.4,125.3 445.7,120.3 445.9,117.6 446.2,118.3 446.4,121 446.6,123.1 446.9,121.3 447.1,124 447.4,123.4 447.6,116.8 447.8,119.7 448.1,118.7 448.3,120.5 448.6,116.4 448.8,116.5 449.1,122.2 449.3,121.3 449.5,122.7 449.8,117.9 450,117.8 450.3,121.7 450.5,115.7 450.7,120.9 451,124.1 451.2,126 451.5,121.6 451.7,120.4 452,122.3 452.2,119.5 452.4,117 452.7,120 452.9,117.3 453.2,114.8 453.4,118.2 453.6,121.1 453.9,118.4 454.1,117.8 454.4,114.2 454.6,120.7 454.9,123.1 455.1,118.9 455.3,118.3 455.6,119.6 455.8,117.2 456.1,117.6 456.3,115.5 456.5,120.8 456.8,120.2 457,117.9 457.3,119.1 457.5,114.8 457.8,116.8 458,118.1 458.2,114.4 458.5,117.1 458.7,115.4 459,115.9 459.2,118.6 459.4,118.9 459.7,118.4 459.9,121.5 460.2,119.8 460.4,117.3 460.7,118.1 460.9,121.2 461.1,113.6 461.4,121.5 461.6,117.4 461.9,117.2 462.1,116.2 462.3,120.9 462.6,118.5 462.8,118.9 463.1,115.2 463.3,116.8 463.5,116.2 463.8,115.4 464,111.2 464.3,115 464.5,114.3 464.8,118.7 465,114.4 465.2,119.9 465.5,114.3 465.7,116.1 466,118.8 466.2,119.3 466.4,116.6 466.7,116.1 466.9,118.4 467.2,117.8 467.4,117.9 467.7,117.8 467.9,117.4 468.1,116 468.4,113.6 468.6,115.3 468.9,117.8 469.1,112.3 469.3,113.2 469.6,117.1 469.8,114 470.1,118.1 470.3,118.5 470.6,118.7 470.8,113.1 471,117.1 471.3,117.1 471.5,117.3 471.8,118.3 472,116 472.2,115.6 472.5,112.2 472.7,119.1 473,113.1 473.2,114.9 473.5,120.9 473.7,114 473.9,112.5 474.2,113.2 474.4,115.1 474.7,115.1 474.9,120.1 475.1,114.2 475.4,114.5 475.6,117.3 475.9,114.5 476.1,116.9 476.4,110.8 476.6,117.9 476.8,116.8 477.1,120 477.3,115.2 477.6,114.3 477.8,114.6 478,116 478.3,112.4 478.5,113.6 478.8,111.5 479,115.1 479.3,118.9 479.5,115 479.7,117.1 480,112.5 480.2,116.3 480.5,115.5 480.7,115.4 480.9,119.2 481.2,116.4 481.4,113.4 481.7,116.9 481.9,115.9 482.2,115.5 482.4,117.4 482.6,116.7 482.9,114.8 483.1,116.7 483.4,115.7 483.6,116.1 483.8,118.7 484.1,119.5 484.3,111.6 484.6,113.6 484.8,117.3"/>
<polyline stroke="#00ced1" points="405.6,230.6 405.8,225.8 406.1,218.7 406.3,217 406.5,211.3 406.8,207.8 407,210.2 407.3,202 407.5,203.2 407.7,194.9 408,195.4 408.2,196 408.5,192.4 408.7,190.7 409,189 409.2,185.2 409.4,185.7 409.7,181.6 409.9,182.5 410.2,183.3 410.4,185.2 410.6,184.1 410.9,178.6 411.1,176.6 411.4,173.7 411.6,177.4 411.9,175.1 412.1,176.3 412.3,174.8 412.6,178.3 412.8,171.2 413.1,174 413.3,172.1 413.5,170.4 413.8,170 414,173.1 414.3,165.6 414.5,167.2 414.7,167.1 415,169.2 415.2,170.8 415.5,170.7 415.7,166.3 416,164.6 416.2,165.8 416.4,158.5 416.7,161.6 416.9,159.2 417.2,158.8 417.4,163.4 417.6,157.8 417.9,158.5 418.1,162.3 418.4,156.3 418.6,155.1 418.9,154.6 419.1,153.6 419.3,159.4 419.6,156.5 419.8,157.2 420.1,156.3 420.3,156.5 420.5,155.1 420.8,157.2 421,161.7 421.3,158.9 421.5,158.2 421.8,161.9 422,167 422.2,166 422.5,165.2 422.7,168.4 423,164.2 423.2,166.3 423.4,160 423.7,159 423.9,159.1 424.2,160.3 424.4,154.8 424.7,155.2 424.9,154 425.1,148.7 425.4,151.8 425.6,152.2 425.9,145.7 426.1,142.7 426.3,142.5 426.6,143.4 426.8,139.1 427.1,143.9 427.3,137.6 427.6,137.1 427.8,141.8 428,139.3 428.3,143.2 428.5,142.2 428.8,138 429,141.7 429.2,138.1 429.5,136.6 429.7,136.9 430,134.5 430.2,132 430.5,135.6 430.7,133.4 430.9,132.1 431.2,136.8 431.4,137.3 431.7,140.5 431.9,134 432.1,132.4 432.4,133.4 432.6,129.8 432.9,131.2 433.1,133.2 433.4,135 433.6,137 433.8,134.4 434.1,133.8 434.3,134.9 434.6,135.5 434.8,135.4 435,132.6 435.3,138.1 435.5,134.8 435.8,133.7 436,131.9 436.3,132.3 436.5,134.2 436.7,135.1 437,136.7 437.2,130.8 437.5,132.1 437.7,133 437.9,135.1 438.2,136 438.4,130.7 438.7,133.4 438.9,132.1 439.1,129.3 439.4,137.5 439.6,135.5 439.9,132.6 440.1,131.5 440.4,135 440.6,132.2 440.8,132.9 441.1,132.5 441.3,129.7 441.6,130.3 441.8,127.3 442,128.4 442.3,126.7 442.5,132.4 442.8,129.1 443,133.1 443.3,133.6 443.5,133.1 443.7,128.3 444,129.4 444.2,133.7 444.5,126.8 444.7,127.5 444.9,130.2 445.2,130 445.4,129.5 445.7,132 445.9,123.9 446.2,129.8 446.4,129 446.6,128.9 446.9,129.4 447.1,129.7 447.4,126.5 447.6,130.5 447.8,130.3 448.1,129.6 448.3,125.8 448.6,130.4 448.8,130.7 449.1,127.6 449.3,131.1 449.5,128.7 449.8,125.8 450,127.2 450.3,128.5 450.5,125 450.7,129.2 451,129.5 451.2,132.3 451.5,128.2 451.7,126.9 452,129.8 452.2,123.5 452.4,125.9 452.7,125.8 452.9,131.2 453.2,127.5 453.4,127.3 453.6,133.1 453.9,128.5 454.1,129.3 454.4,132.9 454.6,127.6 454.9,123.6 455.1,126.5 455.3,130.3 455.6,129.2 455.8,125.6 456.1,129.8 456.3,126.9 456.5,127.8 456.8,127.6 457,123.8 457.3,131.4 457.5,124.9 457.8,126.6 458,127.3 458.2,130.9 458.5,126.2 458.7,127.7 459,131.2 459.2,129.8 459.4,129.3 459.7,128.4 459.9,127.8 460.2,128 460.4,122.6 460.7,123.5 460.9,125.8 461.1,121.6 461.4,120.3 461.6,123.8 461.9,128.2 462.1,124.2 462.3,121.5 462.6,127.3 462.8,124.5 463.1,122.5 463.3,121.8 463.5,122.5 463.8,123.9 464,124.8 464.3,125.7 464.5,121.5 464.8,121.5 465,124.8 465.2,125.8 465.5,120.9 465.7,121.7 466,125.8 466.2,127.6 466.4,123.6 466.7,121.8 466.9,121.5 467.2,121.4 467.4,126.9 467.7,122.9 467.9,123.8 468.1,124.7 468.4,118.1 468.6,122.5 468.9,122.1 469.1,123.2 469.3,120.4 469.6,118.9 469.8,122.4 470.1,122 470.3,122.8 470.6,124.2 470.8,122.2 471,120.8 471.3,121.5 471.5,121.9 471.8,125.9 472,120.7 472.2,121.5 472.5,117.8 472.7,122.8 473,124.5 473.2,125.4 473.5,122.2 473.7,120.6 473.9,119.7 474.2,123.9 474.4,121.2 474.7,117.2 474.9,119.5 475.1,120.3 475.4,120.4 475.6,123.4 475.9,122.9 476.1,120.5 476.4,116.6 476.6,116.9 476.8,120.1 477.1,118 477.3,118.1 477.6,115.8 477.8,119.9 478,117.5 478.3,115.4 478.5,121.1 478.8,118.3 479,117.4 479.3,116.7 479.5,116.3 479.7,116.5 480,115.7 480.2,114.2 480.5,116.9 480.7,113.1 480.9,118.8 481.2,118.4 481.4,117.3 481.7,120 481.9,121.6 482.2,121 482.4,115.1 482.6,119.3 482.9,120.9 483.1,113.2"/>
<line x1="388.9" x2="678.8" y1="95.11" y2="95.11" stroke="#000" stroke-width="1.25" stroke-dasharray="4.1 1.81"/>
<line x1="388.9" x2="678.8" y1="107.13" y2="107.13" stroke="#000" stroke-width="1.2" stroke-dasharray="1.15 1.8"/>
<line x1="388.9" x2="678.8" y1="131.17" y2="131.17" stroke="#000" stroke-width="1.2" stroke-dasharray="1.15 1.8"/>
<line x1="388.9" x2="678.8" y1="143.19" y2="143.19" stroke="#000" stroke-width="1.25" stroke-dasharray="4.1 1.81"/>
</g>
<rect x="388.9" y="29.0" width="289.90" height="180.30" fill="none" stroke="#000" stroke-width="0.8"/>
<path stroke="#000" stroke-width="1.5" d="M388.90 209.30v-8.3M388.90 29.00v8.3M437.22 209.30v-8.3M437.22 29.00v8.3M485.53 209.30v-8.3M485.53 29.00v8.3M533.85 209.30v-8.3M533.85 29.00v8.3M582.17 209.30v-8.3M582.17 29.00v8.3M630.48 209.30v-8.3M630.48 29.00v8.3M678.80 209.30v-8.3M678.80 29.00v8.3M388.90 209.30h8.3M678.80 209.30h-8.3M388.90 179.25h8.3M678.80 179.25h-8.3M388.90 149.20h8.3M678.80 149.20h-8.3M388.90 119.15h8.3M678.80 119.15h-8.3M388.90 89.10h8.3M678.80 89.10h-8.3M388.90 59.05h8.3M678.80 59.05h-8.3M388.90 29.00h8.3M678.80 29.00h-8.3"/>
<path stroke="#000" stroke-width="1.0" d="M400.98 209.30v-4.3M400.98 29.00v4.3M413.06 209.30v-4.3M413.06 29.00v4.3M425.14 209.30v-4.3M425.14 29.00v4.3M449.30 209.30v-4.3M449.30 29.00v4.3M461.38 209.30v-4.3M461.38 29.00v4.3M473.45 209.30v-4.3M473.45 29.00v4.3M497.61 209.30v-4.3M497.61 29.00v4.3M509.69 209.30v-4.3M509.69 29.00v4.3M521.77 209.30v-4.3M521.77 29.00v4.3M545.93 209.30v-4.3M545.93 29.00v4.3M558.01 209.30v-4.3M558.01 29.00v4.3M570.09 209.30v-4.3M570.09 29.00v4.3M594.25 209.30v-4.3M594.25 29.00v4.3M606.32 209.30v-4.3M606.32 29.00v4.3M618.40 209.30v-4.3M618.40 29.00v4.3M642.56 209.30v-4.3M642.56 29.00v4.3M654.64 209.30v-4.3M654.64 29.00v4.3M666.72 209.30v-4.3M666.72 29.00v4.3M388.90 203.29h4.3M678.80 203.29h-4.3M388.90 197.28h4.3M678.80 197.28h-4.3M388.90 191.27h4.3M678.80 191.27h-4.3M388.90 185.26h4.3M678.80 185.26h-4.3M388.90 173.24h4.3M678.80 173.24h-4.3M388.90 167.23h4.3M678.80 167.23h-4.3M388.90 161.22h4.3M678.80 161.22h-4.3M388.90 155.21h4.3M678.80 155.21h-4.3M388.90 143.19h4.3M678.80 143.19h-4.3M388.90 137.18h4.3M678.80 137.18h-4.3M388.90 131.17h4.3M678.80 131.17h-4.3M388.90 125.16h4.3M678.80 125.16h-4.3M388.90 113.14h4.3M678.80 113.14h-4.3M388.90 107.13h4.3M678.80 107.13h-4.3M388.90 101.12h4.3M678.80 101.12h-4.3M388.90 95.11h4.3M678.80 95.11h-4.3M388.90 83.09h4.3M678.80 83.09h-4.3M388.90 77.08h4.3M678.80 77.08h-4.3M388.90 71.07h4.3M678.80 71.07h-4.3M388.90 65.06h4.3M678.80 65.06h-4.3M388.90 53.04h4.3M678.80 53.04h-4.3M388.90 47.03h4.3M678.80 47.03h-4.3M388.90 41.02h4.3M678.80 41.02h-4.3M388.90 35.01h4.3M678.80 35.01h-4.3"/>
<line x1="388.9" x2="678.8" y1="119.15" y2="119.15" stroke="#dc143c" stroke-opacity="0.92" stroke-width="1.2"/>
<rect x="468.5" y="145.9" width="203.50" height="57.40" rx="2.5" fill="#fff" fill-opacity="0.8" stroke="#d6d6d6" stroke-width="0.8"/>
<line x1="472.9" x2="498.5" y1="155.6" y2="155.6" stroke="#ee82ee" stroke-width="1.4"/>
<text x="507.7" y="160.1" font-family='"Liberation Sans", sans-serif' font-size="11.2" fill="#222">M5.84-L1</text>
<line x1="472.9" x2="498.5" y1="173.7" y2="173.7" stroke="#800080" stroke-width="1.4"/>
<text x="507.7" y="178.2" font-family='"Liberation Sans", sans-serif' font-size="11.2" fill="#222">M5.84-L2</text>
<line x1="472.9" x2="498.5" y1="191.5" y2="191.5" stroke="#4682b4" stroke-width="1.4"/>
<text x="507.7" y="196.0" font-family='"Liberation Sans", sans-serif' font-size="11.2" fill="#222">M5.84-L3</text>
<line x1="577.9" x2="603.8" y1="155.6" y2="155.6" stroke="#ff0000" stroke-width="1.4"/>
<text x="612.4" y="160.1" font-family='"Liberation Sans", sans-serif' font-size="11.2" fill="#222">M5.84-RR1</text>
<line x1="577.9" x2="603.8" y1="173.7" y2="173.7" stroke="#00ced1" stroke-width="1.4"/>
<text x="612.4" y="178.2" font-family='"Liberation Sans", sans-serif' font-size="11.2" fill="#222">M5.84-DF1</text>
<text x="388.90" y="223.90" text-anchor="middle" font-family='"Liberation Serif", serif' font-size="13.3" fill="#4a4a4a">0</text>
<text x="437.22" y="223.90" text-anchor="middle" font-family='"Liberation Serif", serif' font-size="13.3" fill="#4a4a4a">2</text>
<text x="485.53" y="223.90" text-anchor="middle" font-family='"Liberation Serif", serif' font-size="13.3" fill="#4a4a4a">4</text>
<text x="533.85" y="223.90" text-anchor="middle" font-family='"Liberation Serif", serif' font-size="13.3" fill="#4a4a4a">6</text>
<text x="582.17" y="223.90" text-anchor="middle" font-family='"Liberation Serif", serif' font-size="13.3" fill="#4a4a4a">8</text>
<text x="630.48" y="223.90" text-anchor="middle" font-family='"Liberation Serif", serif' font-size="13.3" fill="#4a4a4a">10</text>
<text x="678.80" y="223.90" text-anchor="middle" font-family='"Liberation Serif", serif' font-size="13.3" fill="#4a4a4a">12</text>
<text x="383.40" y="213.60" text-anchor="end" font-family='"Liberation Serif", serif' font-size="13.3" fill="#4a4a4a">−15</text>
<text x="383.40" y="183.55" text-anchor="end" font-family='"Liberation Serif", serif' font-size="13.3" fill="#4a4a4a">−10</text>
<text x="383.40" y="153.50" text-anchor="end" font-family='"Liberation Serif", serif' font-size="13.3" fill="#4a4a4a">−5</text>
<text x="383.40" y="123.45" text-anchor="end" font-family='"Liberation Serif", serif' font-size="13.3" fill="#4a4a4a">0</text>
<text x="383.40" y="93.40" text-anchor="end" font-family='"Liberation Serif", serif' font-size="13.3" fill="#4a4a4a">5</text>
<text x="383.40" y="63.35" text-anchor="end" font-family='"Liberation Serif", serif' font-size="13.3" fill="#4a4a4a">10</text>
<text x="383.40" y="33.30" text-anchor="end" font-family='"Liberation Serif", serif' font-size="13.3" fill="#4a4a4a">15</text>
<text x="533.85" y="236.90" text-anchor="middle" font-family='"Liberation Serif", serif' font-size="13.3" fill="#4a4a4a">ETT</text>
<text transform="translate(358.8 119.15) rotate(-90)" text-anchor="middle" font-family='"Liberation Serif", serif' font-size="12.8" fill="#4a4a4a"><tspan font-style="italic">E</tspan><tspan font-style="italic" font-size="9.5" dy="1.8">VK</tspan><tspan dy="-1.8"> </tspan><tspan font-size="14.5">%</tspan><tspan> error</tspan></text>
<text x="513.6" y="16.3" text-anchor="middle" font-family='"Liberation Serif", serif' font-weight="bold" font-size="18" letter-spacing="0.9" fill="#000">(b)</text>
<clipPath id="clipc"><rect x="42.85" y="276.4" width="288.25" height="180.10"/></clipPath>
<g clip-path="url(#clipc)" fill="none" stroke-width="1.5" stroke-linejoin="round">
<polyline stroke="#ee82ee" points="42.9,348.5 43.1,354.2 43.3,361.6 43.6,366.3 43.8,373 44.1,379.2 44.3,385.1 44.5,391.6 44.8,398.6 45,405.7 45.3,412.8 45.5,418.6 45.7,423.5 46,424.9 46.2,423.5 46.5,423.2 46.7,421.9 46.9,421.1 47.2,420.7 47.4,418.5 47.7,417.4 47.9,416.1 48.1,414.4 48.4,411.7 48.6,409.2 48.9,405.9 49.1,403.4 49.3,400 49.6,398.3 49.8,395.4 50.1,393.3 50.3,392 50.5,390.4 50.8,387.9 51,386.6 51.3,385.4 51.5,383.6 51.7,382.6 52,380.8 52.2,379.6 52.5,377.7 52.7,375.7 52.9,374.4 53.2,371.9 53.4,370.3 53.7,367.4 53.9,365.1 54.1,361.7 54.4,358.8 54.6,355.9 54.9,352.9 55.1,349.3 55.3,346.5 55.6,344.8 55.8,341.3 56.1,340 56.3,337.5 56.5,335.4 56.8,333.5 57,332.3 57.3,330.5 57.5,328.7 57.7,327.5 58,326 58.2,324.1 58.5,322.7 58.7,321.9 58.9,320.7 59.2,319.4 59.4,318.4 59.7,317.4 59.9,316.5 60.1,314.8 60.4,314.2 60.6,313.3 60.9,312.4 61.1,311.5 61.3,310.4 61.6,310.3 61.8,309.6 62.1,308.6 62.3,308.4 62.5,306.9 62.8,306.4 63,305.9 63.3,305.7 63.5,304.9 63.7,304.4 64,304.2 64.2,304.1 64.5,304.4 64.7,303 64.9,303.2 65.2,303.1 65.4,302 65.7,301.9 65.9,302.3 66.2,301.5 66.4,301.4 66.6,300.7 66.9,301.6 67.1,300.9 67.4,300.7 67.6,300 67.8,301 68.1,301.3 68.3,301.2 68.6,300.6 68.8,300.5 69,300.4 69.3,301.1 69.5,301.8 69.8,301.5 70,302.1 70.2,302.5 70.5,302.8 70.7,302.6 71,303.8 71.2,304.2 71.4,304.2 71.7,304.7 71.9,305.3 72.2,305.8 72.4,305.7 72.6,305.8 72.9,306.4 73.1,306.9 73.4,307 73.6,308.7 73.8,309 74.1,309 74.3,309.6 74.6,309.9 74.8,309.7 75,310.6 75.3,310.5 75.5,311.5 75.8,311.5 76,310.9 76.2,312.1 76.5,312.1 76.7,312.3 77,313.1 77.2,313.1 77.4,313.7 77.7,313.9 77.9,314.8 78.2,315.5 78.4,315.7 78.6,316 78.9,315.9 79.1,316.6 79.4,317 79.6,317.2 79.8,317 80.1,318.1 80.3,317.5 80.6,318.9 80.8,319 81,318.7 81.3,319.1 81.5,319.9 81.8,319.9 82,320.5 82.2,320.2 82.5,320.7 82.7,321.4 83,321.2 83.2,321.7 83.4,321.8 83.7,322 83.9,322.5 84.2,322.3 84.4,322.5 84.6,322.8 84.9,322.7 85.1,323.5 85.4,324.3 85.6,324.1 85.8,323.9 86.1,324.2 86.3,324.2 86.6,324.4 86.8,325.1 87,325.3 87.3,325.8 87.5,325.1 87.8,325.9 88,326.5 88.2,326.7 88.5,326.5 88.7,325.9 89,326.4 89.2,327.7 89.5,327.1 89.7,327.1 89.9,327.2 90.2,327.5 90.4,328.1 90.7,327.9 90.9,328.6 91.1,329.4 91.4,329.1 91.6,329.3 91.9,328.7 92.1,328.9 92.3,330.1 92.6,329.7 92.8,330 93.1,330.8 93.3,331.2 93.5,330.5 93.8,330.6 94,331 94.3,331.8 94.5,331.1 94.7,331.6 95,331.9 95.2,331.8 95.5,332.4 95.7,331.8 95.9,332.3 96.2,332.7 96.4,332.5 96.7,332.8 96.9,333.6 97.1,333.1 97.4,333.5 97.6,334.3 97.9,333.9 98.1,333.6 98.3,334.2 98.6,333.4 98.8,333.4 99.1,334.5 99.3,334.2 99.5,333.6 99.8,334.9 100,335.3 100.3,335.3 100.5,336 100.7,336 101,335.4 101.2,335.8 101.5,335.6 101.7,335.6 101.9,336.3 102.2,336.2 102.4,336.4 102.7,336.6 102.9,336.8 103.1,336.4 103.4,336.7 103.6,336.6 103.9,336.4 104.1,336.5 104.3,337.7 104.6,337.7 104.8,337.5 105.1,337.4 105.3,337.1 105.5,338.2 105.8,338.1 106,337.9 106.3,337.5 106.5,337.5 106.7,338.9 107,338.6 107.2,338.9 107.5,338.2 107.7,338.4 107.9,338.9 108.2,339.2 108.4,338.9 108.7,338.8 108.9,339.8 109.1,339.7 109.4,339.7 109.6,339.8 109.9,339.8 110.1,340.6 110.3,340.5 110.6,341.4 110.8,340.5 111.1,340.1 111.3,341.8 111.5,341.3 111.8,340.6 112,341.2 112.3,342.3 112.5,340.8 112.8,342.1 113,340.9 113.2,342 113.5,342.2 113.7,341.9 114,342.1 114.2,341.8 114.4,342 114.7,342.4 114.9,341.9 115.2,342.3 115.4,342.7 115.6,342.9 115.9,343.1 116.1,343.2 116.4,342.9 116.6,343.1 116.8,343.4 117.1,343 117.3,343.8 117.6,343.6 117.8,343.3 118,344.5 118.3,344.2 118.5,343.2 118.8,344.6 119,343.7 119.2,344.9 119.5,344.2 119.7,345.1 120,344.9 120.2,344.9 120.4,345 120.7,344.3 120.9,344.4 121.2,344.5 121.4,344.9 121.6,344.2 121.9,344.6 122.1,345 122.4,345.8 122.6,344.9 122.8,345 123.1,345.3 123.3,344.9 123.6,345 123.8,345.6 124,345.1 124.3,345.1 124.5,345.1 124.8,345.5 125,345.5 125.2,345.2 125.5,344.5 125.7,344.3 126,345.5 126.2,345.8 126.4,345.2 126.7,345.5 126.9,345.3 127.2,344.9 127.4,345.6 127.6,344.9 127.9,344.7 128.1,344.3 128.4,344.1 128.6,344.5 128.8,343.8 129.1,345.3 129.3,344.9 129.6,344.9 129.8,344.7 130,344.4 130.3,345.2 130.5,344.1 130.8,344.3 131,344.8 131.2,344.7 131.5,345.7 131.7,346.3 132,345.3 132.2,345.2 132.4,345.3 132.7,346.1 132.9,345.9 133.2,344.7 133.4,345.5 133.6,345.8 133.9,346.4 134.1,345.9 134.4,345.7 134.6,346.1 134.8,346.8 135.1,346.5 135.3,347.3 135.6,347.2 135.8,346.8 136.1,347.6 136.3,347.4 136.5,346.6 136.8,347.6 137,347.1 137.3,347.7 137.5,348.3 137.7,347.7 138,348.1 138.2,349.2 138.5,348.8 138.7,348.4 138.9,347.4 139.2,348.7 139.4,348.5 139.7,348.2 139.9,348.5 140.1,348.8 140.4,347.7 140.6,347.9 140.9,349.9 141.1,348.3 141.3,348.5 141.6,348.4 141.8,349 142.1,348.7 142.3,348.3 142.5,348.5 142.8,348.4 143,349 143.3,349.1 143.5,349.3 143.7,350.6 144,348.9 144.2,350 144.5,350.1 144.7,350.2 144.9,350.1 145.2,351.6 145.4,350.4 145.7,351.3 145.9,351.3 146.1,351.9 146.4,351.9 146.6,350.6 146.9,351.4 147.1,351.2 147.3,351.3 147.6,351.9 147.8,351.8 148.1,352.2 148.3,351.7 148.5,352.8 148.8,351.8 149,351.1 149.3,351 149.5,351 149.7,351.4 150,352.4 150.2,351.4 150.5,351.6 150.7,351.7 150.9,352.6 151.2,351.7 151.4,351.1 151.7,351.6 151.9,352.3 152.1,351.8 152.4,352.2 152.6,352.1 152.9,351.6 153.1,351.9 153.3,352.1 153.6,352 153.8,352.7 154.1,352.8 154.3,352 154.5,352.7 154.8,352 155,353.4 155.3,351.7 155.5,352.4 155.7,351.4 156,353.6 156.2,353.5 156.5,351.6 156.7,352.4 156.9,352.4 157.2,352.6 157.4,352.6 157.7,352.4 157.9,353.4 158.1,352.9 158.4,352.1 158.6,352.8 158.9,353.4 159.1,353 159.4,352.5 159.6,353.3 159.8,353.3 160.1,353.1 160.3,352.9 160.6,352.6 160.8,353.5 161,353.3 161.3,352.9 161.5,354.7 161.8,353.6 162,353.6 162.2,353.9 162.5,354.4 162.7,353.6 163,353.2 163.2,354.2 163.4,354.4 163.7,354.4 163.9,353.3 164.2,353.6 164.4,354.3 164.6,355 164.9,355.1 165.1,354.6 165.4,354.5 165.6,354 165.8,354.9 166.1,354.2 166.3,354 166.6,355.4 166.8,353.2 167,354.1 167.3,354.1 167.5,355.2 167.8,355.2 168,354.1 168.2,354.2 168.5,356.1 168.7,354.2 169,354.4 169.2,354.5 169.4,355.6 169.7,354.8 169.9,355.3 170.2,354.7 170.4,354 170.6,354.8 170.9,354.7 171.1,355.5 171.4,356 171.6,355.4 171.8,354.8 172.1,354.6 172.3,355.6 172.6,355.5 172.8,356 173,356.9 173.3,355.8 173.5,355.6 173.8,356.1 174,356 174.2,357 174.5,355.9 174.7,355 175,355.8 175.2,355.5 175.4,355.6 175.7,356.3 175.9,355.8 176.2,356.5 176.4,354.8 176.6,355.8 176.9,356.7 177.1,357 177.4,355.2 177.6,355.8 177.8,355.9 178.1,357 178.3,356.6 178.6,357 178.8,355.7 179,356.7 179.3,355.2 179.5,356 179.8,356.6 180,355.8 180.2,357.8 180.5,357.1 180.7,356.8 181,355.8 181.2,355.9 181.5,356.4 181.7,357.8 181.9,357.1 182.2,357.4 182.4,356.1 182.7,357.1 182.9,356.6 183.1,355.7 183.4,356.9 183.6,356.5 183.9,357.3 184.1,357 184.3,357 184.6,357 184.8,357 185.1,357.3 185.3,355.9 185.5,357.5 185.8,357.1 186,357.5 186.3,358.6 186.5,356.8 186.7,357.3 187,358.3 187.2,357.8 187.5,358.3 187.7,357.2 187.9,356.6 188.2,356.9 188.4,358.5 188.7,358.7 188.9,357.3 189.1,356.6 189.4,357.8 189.6,357.2 189.9,358.7 190.1,357.9 190.3,357.5 190.6,358 190.8,357.9 191.1,357.4 191.3,358.3 191.5,358.7 191.8,357.6 192,357.9 192.3,358.8 192.5,357.9 192.7,358.5 193,357.7 193.2,358.1 193.5,358.4 193.7,358.6 193.9,358.1 194.2,358.3 194.4,357.1 194.7,358.4 194.9,359.1 195.1,357 195.4,359.5 195.6,357.3 195.9,359.1 196.1,357.7 196.3,358.7 196.6,358.2 196.8,358.5 197.1,358.7 197.3,358.5 197.5,359.3 197.8,358.7 198,359.8 198.3,359.5 198.5,359.3 198.7,359 199,358.2 199.2,359.4 199.5,359.4 199.7,359.6 199.9,359.3 200.2,358.8 200.4,359.5 200.7,359.2 200.9,359.5 201.1,359.2 201.4,360.5 201.6,359 201.9,358.9 202.1,359.9 202.3,359.4 202.6,360 202.8,358.7 203.1,359 203.3,358.1 203.5,359.6 203.8,359.9 204,359.7 204.3,360.2 204.5,359.2 204.8,359.2 205,358.8 205.2,359.1 205.5,359.7 205.7,358.8 206,359.2 206.2,359.1 206.4,360.5 206.7,360.2 206.9,360.2 207.2,360.1 207.4,361.1 207.6,359.1 207.9,360 208.1,359.4 208.4,359.3 208.6,358.9 208.8,359.5 209.1,359.7 209.3,360.5 209.6,360 209.8,358.9 210,361.2 210.3,360.5 210.5,360.1 210.8,359.2 211,361.1 211.2,360.6 211.5,360.3 211.7,359.2 212,361 212.2,360.5 212.4,359.9 212.7,360.8 212.9,360 213.2,360 213.4,360.5 213.6,360 213.9,359.3 214.1,360.3 214.4,360.7 214.6,360.8 214.8,360.2 215.1,359.7 215.3,360.3 215.6,360.2 215.8,359.2 216,361 216.3,361.3 216.5,360.5 216.8,360.7 217,360.3 217.2,359.8 217.5,360.4 217.7,360.6 218,360.2 218.2,360.2 218.4,360.6 218.7,360.8 218.9,360.1 219.2,360.7 219.4,361.4 219.6,360.4 219.9,361.2 220.1,361.2 220.4,360.5 220.6,361.5 220.8,361.1 221.1,361.6 221.3,362 221.6,360.8 221.8,360.1 222,361.6 222.3,360.4 222.5,360.5 222.8,360.3 223,361.9 223.2,361.6 223.5,360.1 223.7,361.3 224,361.5 224.2,361.1 224.4,361.2 224.7,362 224.9,361.9 225.2,361.4 225.4,361.7 225.6,362.4 225.9,361.2 226.1,361.6 226.4,362.3 226.6,362.3 226.8,361.4 227.1,363.4 227.3,362.1 227.6,362.6 227.8,362.7 228.1,361.8 228.3,362.2 228.5,361.2 228.8,362.6 229,362.2 229.3,363.6 229.5,362 229.7,363.1 230,362.6 230.2,361.9 230.5,362 230.7,362.5 230.9,361.9 231.2,363 231.4,363.3 231.7,363.7 231.9,362.3 232.1,361.4 232.4,362.9 232.6,362.5 232.9,362.7 233.1,362.3 233.3,363.8 233.6,362.1 233.8,362 234.1,363 234.3,363.3 234.5,363 234.8,362.2 235,361.5 235.3,363.1 235.5,363.5 235.7,362.4 236,362.4 236.2,362.1 236.5,363 236.7,362.1 236.9,361.8 237.2,363.7 237.4,362.8 237.7,362.3 237.9,362.1 238.1,362.9 238.4,363.9 238.6,363 238.9,363.6 239.1,363.1 239.3,362.1 239.6,363.1 239.8,362.7 240.1,363.6 240.3,362.1 240.5,363.1 240.8,363.5 241,361.5 241.3,362.7 241.5,362.6 241.7,364.5 242,362.2 242.2,362 242.5,363.2 242.7,363.4 242.9,363.6 243.2,362.5 243.4,364.3 243.7,363 243.9,361.9 244.1,363.1 244.4,361.9 244.6,363.3 244.9,363.4 245.1,362.7 245.3,363.4 245.6,363.3 245.8,363.7 246.1,364.2 246.3,363.7 246.5,363 246.8,362.8 247,363.6 247.3,363.3 247.5,364.2 247.7,363.8 248,363.7 248.2,363.8 248.5,363.5 248.7,363.3 248.9,362.7 249.2,362.9 249.4,363.1 249.7,364.2 249.9,363.8 250.1,363.2 250.4,363.2 250.6,362.8 250.9,364.4 251.1,363.1 251.4,363 251.6,363.3 251.8,363.5 252.1,362.9 252.3,363.1 252.6,362.7 252.8,364.5 253,363.7 253.3,362 253.5,363 253.8,363.7 254,363.4 254.2,364.1 254.5,362.3 254.7,362.4 255,362.7 255.2,362.5 255.4,363.1 255.7,362.5 255.9,362.9 256.2,362.5 256.4,363.5 256.6,363.6 256.9,364 257.1,364.1 257.4,364.8 257.6,362.9 257.8,362.8 258.1,363.3 258.3,363.1 258.6,363.8 258.8,363.7 259,365 259.3,364.3 259.5,365.4 259.8,364.6 260,364.4 260.2,364.4 260.5,364.9 260.7,363.3 261,363.6 261.2,364.7 261.4,365.3 261.7,364.7 261.9,363.8 262.2,365.6 262.4,363.8 262.6,364.4 262.9,364.6 263.1,363.5 263.4,364.2 263.6,364.5 263.8,363.5 264.1,365.4 264.3,363.3 264.6,365 264.8,364.8 265,363.2 265.3,362.9 265.5,363.2 265.8,364.6 266,365.3 266.2,363.7 266.5,363.9 266.7,364.4 267,364 267.2,364.2 267.4,363.2 267.7,363.9 267.9,363.9 268.2,365.3 268.4,363.6 268.6,364.7 268.9,363.2 269.1,363.8 269.4,365.3 269.6,364.2 269.8,364.8 270.1,363.6 270.3,363.8 270.6,363.4 270.8,364.6 271,363.7 271.3,365.1 271.5,363.9 271.8,364.3 272,364.2 272.2,364.3 272.5,363.7 272.7,364.8 273,364.6 273.2,363.7 273.4,364.7 273.7,364.9 273.9,365.2 274.2,364.7 274.4,365 274.7,364.6 274.9,365 275.1,364.5 275.4,364.9 275.6,363.7 275.9,364.9 276.1,364.4 276.3,364.6 276.6,365.6 276.8,364 277.1,365.1 277.3,364.2 277.5,366.3 277.8,366.2 278,366.2 278.3,366.2 278.5,365.2 278.7,364.8 279,365.4 279.2,364.8 279.5,365.1 279.7,364.2 279.9,364.3 280.2,364.5 280.4,364.4 280.7,363.6 280.9,364.5 281.1,366 281.4,365 281.6,365 281.9,364.3 282.1,364.5 282.3,364.1 282.6,365.9 282.8,363.9 283.1,365 283.3,364.2 283.5,364.5 283.8,365.6 284,365.5 284.3,364.4 284.5,364 284.7,365.5 285,365.6 285.2,366.3 285.5,365.5 285.7,365.4 285.9,365.2 286.2,364.7 286.4,365.5 286.7,366 286.9,365.5 287.1,365.3 287.4,365.3 287.6,365.3 287.9,365.5 288.1,364.9 288.3,365.4 288.6,366 288.8,365.4 289.1,364 289.3,365.9 289.5,364 289.8,365.7 290,364.8 290.3,366.2 290.5,365.1 290.7,364.1 291,365.9 291.2,365.5 291.5,364.7 291.7,364.6 291.9,365.9 292.2,365.9 292.4,364.8 292.7,364.8 292.9,364.4 293.1,365.1 293.4,364.4 293.6,364.1 293.9,365.7 294.1,364 294.3,364.2 294.6,363.7 294.8,364.7 295.1,364.5 295.3,364.4 295.5,364.9 295.8,363.8 296,364.4 296.3,365.1 296.5,364.3 296.8,365.2 297,365.6 297.2,365.4 297.5,364.7 297.7,364.7 298,364.8 298.2,364.4 298.4,363.5 298.7,365.8 298.9,364.8 299.2,364.7 299.4,365.6 299.6,365.1 299.9,364.6 300.1,364.7 300.4,365.3 300.6,364.2 300.8,364.5 301.1,364.3 301.3,363.7 301.6,365.6 301.8,364.1 302,364.6 302.3,365.5 302.5,364.9 302.8,365.2 303,365.7"/>
<polyline stroke="#800080" points="42.9,349.5 43.1,355.8 43.3,362.1 43.6,367.7 43.8,372.2 44.1,380.1 44.3,383.7 44.5,389.4 44.8,397 45,403.7 45.3,408.3 45.5,411.5 45.7,412.3 46,412.7 46.2,411.3 46.5,411.5 46.7,410 46.9,408.6 47.2,406 47.4,403.3 47.7,400.8 47.9,400 48.1,396.2 48.4,394.6 48.6,392.6 48.9,390 49.1,385.3 49.3,384.2 49.6,382.5 49.8,380 50.1,375.2 50.3,374.6 50.5,370.8 50.8,368 51,368.3 51.3,363.1 51.5,361.8 51.7,360 52,357.2 52.2,353.8 52.5,351.3 52.7,348.9 52.9,347.6 53.2,343.8 53.4,341.5 53.7,339.1 53.9,337.9 54.1,335.4 54.4,333.6 54.6,333.2 54.9,331.7 55.1,330.5 55.3,329.1 55.6,327.3 55.8,328 56.1,325.6 56.3,323.5 56.5,324.4 56.8,322.7 57,318.9 57.3,320.1 57.5,318.8 57.7,317.3 58,317.3 58.2,316.7 58.5,315.9 58.7,315.3 58.9,314.8 59.2,313.4 59.4,311.7 59.7,312.4 59.9,311 60.1,311.4 60.4,311 60.6,310.9 60.9,311.4 61.1,310.6 61.3,310.6 61.6,311.9 61.8,310.1 62.1,310.1 62.3,310.3 62.5,311.3 62.8,312.9 63,309.8 63.3,311.4 63.5,313.3 63.7,311 64,312.4 64.2,311.3 64.5,312.4 64.7,311.5 64.9,312.7 65.2,313.1 65.4,313.7 65.7,312.9 65.9,315.6 66.2,313.7 66.4,314.5 66.6,315.9 66.9,315.5 67.1,315.9 67.4,315.7 67.6,314.9 67.8,316.7 68.1,315.6 68.3,315.5 68.6,315.9 68.8,315.1 69,316.9 69.3,316.5 69.5,315.6 69.8,317.6 70,318 70.2,318.1 70.5,317.8 70.7,319.3 71,319.1 71.2,320.9 71.4,320.4 71.7,320.8 71.9,321.2 72.2,320.6 72.4,319.6 72.6,320.7 72.9,321.7 73.1,320.3 73.4,320.6 73.6,322.4 73.8,321.1 74.1,322.6 74.3,322.6 74.6,323 74.8,321.7 75,323.6 75.3,323.3 75.5,323 75.8,322.5 76,322.6 76.2,325.1 76.5,323 76.7,324.1 77,323.4 77.2,323.6 77.4,325.5 77.7,325.1 77.9,325.6 78.2,325.2 78.4,324 78.6,325.9 78.9,326.8 79.1,324.2 79.4,327.3 79.6,326.5 79.8,326.7 80.1,328.1 80.3,326.2 80.6,326.2 80.8,327.5 81,327.5 81.3,327.9 81.5,329.5 81.8,327.5 82,329 82.2,328.8 82.5,327.7 82.7,327.2 83,329.2 83.2,327.3 83.4,326.8 83.7,328.5 83.9,328.9 84.2,328.9 84.4,329.6 84.6,330.2 84.9,328.9 85.1,328.8 85.4,330.2 85.6,330.3 85.8,330.7 86.1,331 86.3,331.3 86.6,332 86.8,329.9 87,331.3 87.3,331.1 87.5,329.6 87.8,332.1 88,330.9 88.2,333.2 88.5,332.5 88.7,331.3 89,332.6 89.2,333.9 89.5,334.1 89.7,332.3 89.9,333.8 90.2,332.3 90.4,332.9 90.7,333.6 90.9,333.5 91.1,332.8 91.4,333.7 91.6,335 91.9,333.8 92.1,334.8 92.3,334.9 92.6,334.2 92.8,334.7 93.1,333.7 93.3,335.1 93.5,335.6 93.8,335.7 94,334.9 94.3,336.2 94.5,335.9 94.7,336.6 95,336.5 95.2,336.1 95.5,333.8 95.7,336.6 95.9,336 96.2,336.2 96.4,336.7 96.7,336.6 96.9,334.7 97.1,337.1 97.4,335.3 97.6,336.4 97.9,338.1 98.1,338 98.3,338 98.6,338.9 98.8,336.5 99.1,337.6 99.3,337.4 99.5,339.1 99.8,337.7 100,338.9 100.3,336.4 100.5,338.6 100.7,338.4 101,338.2 101.2,339.2 101.5,339.3 101.7,339.5 101.9,338.1 102.2,340.1 102.4,339.7 102.7,339.3 102.9,340 103.1,341.2 103.4,341.1 103.6,340.5 103.9,341.3 104.1,339.3 104.3,340.5 104.6,340.7 104.8,341.9 105.1,340.4 105.3,341.3 105.5,341.9 105.8,341.5 106,338.8 106.3,341.6 106.5,342.1 106.7,340.1 107,340.7 107.2,341.9 107.5,340.3 107.7,343.6 107.9,342.5 108.2,343.9 108.4,340.8 108.7,342.3 108.9,340.2 109.1,342.1 109.4,342.2 109.6,344.1 109.9,344.2 110.1,343.7 110.3,342.2 110.6,344.5 110.8,345.7 111.1,342.7 111.3,342.7 111.5,344.8 111.8,343.3 112,342.7 112.3,342.9 112.5,346.1 112.8,344.4 113,345.6 113.2,343.8 113.5,344.7 113.7,346.1 114,345 114.2,344.6 114.4,346.8 114.7,347.1 114.9,346.6 115.2,346.3 115.4,346.8 115.6,348.4 115.9,348.3 116.1,346.7 116.4,346.3 116.6,347.8 116.8,346.7 117.1,345 117.3,347.4 117.6,348 117.8,348.3 118,347.2 118.3,347.6 118.5,347.6 118.8,348.3 119,347.7 119.2,347.7 119.5,348.2 119.7,346.8 120,350 120.2,347.5 120.4,348.4 120.7,347.5 120.9,346.3 121.2,348.5 121.4,348.9 121.6,348.8 121.9,347 122.1,346.9 122.4,348.7 122.6,348.3 122.8,347 123.1,348.4 123.3,350.9 123.6,350.3 123.8,350 124,349 124.3,350.2 124.5,348.1 124.8,350.2 125,348 125.2,350.3 125.5,348.2 125.7,349.5 126,348.1 126.2,347.4 126.4,347.8 126.7,348.7 126.9,351 127.2,351.2 127.4,352.8 127.6,349.1 127.9,349.5 128.1,349.9 128.4,352.2 128.6,348.8 128.8,352.1 129.1,350.3 129.3,353 129.6,352 129.8,350 130,350.4 130.3,353.1 130.5,351.9 130.8,350.4 131,353.8 131.2,350.9 131.5,353.7 131.7,351.1 132,352.1 132.2,350.6 132.4,352.4 132.7,352.2 132.9,352.4 133.2,353.2 133.4,352.7 133.6,353.5 133.9,352.9 134.1,351.4 134.4,352.8 134.6,351 134.8,351.4 135.1,351.1 135.3,353.2 135.6,351.5 135.8,350.2 136.1,350.8 136.3,350.5 136.5,350.4 136.8,353.8 137,351.4 137.3,351.4 137.5,352.1 137.7,353.4 138,351.9 138.2,352.5 138.5,350 138.7,350.8 138.9,352.9 139.2,353.9 139.4,353.8 139.7,353.1 139.9,354 140.1,351.1 140.4,355 140.6,353.9 140.9,353.8 141.1,353.8 141.3,355.6 141.6,354.6 141.8,354.1 142.1,353.8 142.3,354.9 142.5,354.9 142.8,354.4 143,352.5 143.3,356.3 143.5,354.1 143.7,353.1 144,356.8 144.2,353.4 144.5,353.6 144.7,355.3 144.9,354.3 145.2,353.8 145.4,355.7 145.7,355.3 145.9,357 146.1,356.7 146.4,355.9 146.6,355.9 146.9,353.8 147.1,355.9 147.3,357.1 147.6,354.7 147.8,354.4 148.1,355.2 148.3,355.6 148.5,356.2 148.8,356.1 149,353.6 149.3,354.7 149.5,355.7 149.7,355.5 150,356.4 150.2,357.1 150.5,356.5 150.7,356 150.9,357.9 151.2,357.7 151.4,358.2 151.7,356.6 151.9,355.3 152.1,357.7 152.4,357.5 152.6,358.1 152.9,356.7 153.1,357.5 153.3,357.3 153.6,357.2 153.8,353.7 154.1,356.3 154.3,357.1 154.5,356.8 154.8,354.9 155,354.9 155.3,355.6 155.5,358.5 155.7,354.9 156,354.9 156.2,355.8 156.5,356.3 156.7,356.6 156.9,355.1 157.2,357.1 157.4,355.5 157.7,357.4 157.9,357.3 158.1,357.2 158.4,357.3 158.6,357.4 158.9,356 159.1,355.1 159.4,358 159.6,358.3 159.8,355.5 160.1,357.4 160.3,356.8 160.6,357 160.8,356.2 161,358.4 161.3,356.1 161.5,356.3 161.8,359.7 162,357.5 162.2,357.9 162.5,357 162.7,357.6 163,358.7 163.2,358.1 163.4,356.8 163.7,357 163.9,357.7 164.2,355 164.4,356.7 164.6,358.9 164.9,357.3 165.1,357 165.4,358.8 165.6,357.7 165.8,358.8 166.1,360.1 166.3,357.4 166.6,357 166.8,357 167,358.2 167.3,358.7 167.5,357.6 167.8,357.5 168,356.9 168.2,356.6 168.5,357.1 168.7,359.2 169,358.7 169.2,360.5 169.4,357.9 169.7,358.2 169.9,357.5 170.2,358.3 170.4,357.2 170.6,360 170.9,358.6 171.1,359.2 171.4,359.3 171.6,361.4 171.8,360.1 172.1,361.7 172.3,359.9 172.6,360.7 172.8,359.5 173,361.9 173.3,360.3 173.5,359.8 173.8,361.8 174,357.6 174.2,358.8 174.5,360.7 174.7,357.5 175,358 175.2,362.2 175.4,360.1 175.7,360.3 175.9,359.4 176.2,360.6 176.4,359.7 176.6,359.2 176.9,362 177.1,359.6 177.4,357.9 177.6,359.3 177.8,358.2 178.1,358 178.3,359.6 178.6,359.4 178.8,359.6 179,360.7 179.3,357.6 179.5,359.6 179.8,359.2 180,358.8 180.2,358.1 180.5,361.8 180.7,361.3 181,360 181.2,359.5 181.5,361.9 181.7,362 181.9,359.5 182.2,359.5 182.4,361 182.7,360.9 182.9,361.6 183.1,362.1 183.4,361.9 183.6,360.4 183.9,361 184.1,359.4 184.3,362.3 184.6,362.8 184.8,360 185.1,361.9 185.3,361.1 185.5,360.8 185.8,362.5 186,362.8 186.3,360.5 186.5,363.2 186.7,360.1 187,363.3 187.2,359.9 187.5,360.7 187.7,360.8 187.9,360.6 188.2,361 188.4,362.9 188.7,360 188.9,360.9 189.1,360.3 189.4,361.2 189.6,361 189.9,359.6 190.1,359.5 190.3,360.5 190.6,362.2 190.8,361.9 191.1,361.9 191.3,359.2 191.5,360 191.8,360.7 192,361.1 192.3,361.9 192.5,359.9 192.7,362.2 193,362 193.2,359.9 193.5,360.1 193.7,361 193.9,362.2 194.2,362.3 194.4,359.5 194.7,360 194.9,358.8 195.1,361.4 195.4,360.9 195.6,362.3 195.9,359 196.1,363.1 196.3,360.2 196.6,359.1 196.8,362.4 197.1,363 197.3,362.6 197.5,363.1 197.8,361 198,361.8 198.3,362.9 198.5,362.1 198.7,359.6 199,361.5 199.2,361.8 199.5,358.8 199.7,362.5 199.9,362 200.2,359.4 200.4,361.3 200.7,363.7 200.9,362.6 201.1,364.3 201.4,362.4 201.6,361.2 201.9,363.8 202.1,359.4 202.3,359.9 202.6,360.5 202.8,362.5 203.1,361.4 203.3,361 203.5,360.5 203.8,360 204,364.5 204.3,362.9 204.5,363.4 204.8,362.3 205,361.7 205.2,359.2 205.5,361.9 205.7,360.6 206,361.7 206.2,361.9 206.4,359.6 206.7,363.4 206.9,360.8 207.2,359 207.4,359 207.6,362.4 207.9,363 208.1,363.4 208.4,362.3 208.6,361.9 208.8,361.9 209.1,360.3 209.3,362.4 209.6,361.4 209.8,364.1 210,362.7 210.3,362.2 210.5,364.5 210.8,361.6 211,360.6 211.2,361.7 211.5,361.5 211.7,361.9 212,363.6 212.2,361.9 212.4,362.8 212.7,362 212.9,362.1 213.2,362.3 213.4,364.5 213.6,362.8 213.9,360.4 214.1,361.6 214.4,362.9 214.6,363.6 214.8,361.3 215.1,362.5 215.3,365 215.6,363.2 215.8,360.4 216,364.8 216.3,362.6 216.5,363.7 216.8,363 217,363.7 217.2,364.3 217.5,365.7 217.7,363.6 218,363.4 218.2,363.8 218.4,365.2 218.7,364.8 218.9,361.3 219.2,365.7 219.4,364.7 219.6,366 219.9,364.5 220.1,363.9 220.4,362.6 220.6,363.8 220.8,363.8 221.1,363.4 221.3,363.3 221.6,364.4 221.8,364.4 222,362.9 222.3,365.9 222.5,364.9 222.8,366.3 223,365.7 223.2,363.2 223.5,366 223.7,364.4 224,362.1 224.2,364.1 224.4,365 224.7,365.8 224.9,367.1 225.2,365.9 225.4,365.7 225.6,363 225.9,363.1 226.1,365.5 226.4,362.8 226.6,364.6 226.8,361.1 227.1,361.8 227.3,362.7 227.6,364.3 227.8,361.3 228.1,362.7 228.3,362.3 228.5,363.1 228.8,364.3 229,362.7 229.3,364.6 229.5,362.2 229.7,363 230,365.3 230.2,362.7 230.5,363.3 230.7,363.8 230.9,363.4 231.2,362.2 231.4,365 231.7,365.1 231.9,362.5 232.1,363.5 232.4,366.3 232.6,363.9 232.9,366.2 233.1,363.2 233.3,364 233.6,363.6 233.8,366.2 234.1,365.2 234.3,363 234.5,366.1 234.8,363.3 235,364.5 235.3,363.9 235.5,365.4 235.7,363.3 236,363.6 236.2,363.3 236.5,361.6 236.7,364.7 236.9,364.4 237.2,366 237.4,362 237.7,364.9 237.9,363.4 238.1,366.1 238.4,364.9 238.6,363.5 238.9,363.8 239.1,365 239.3,363.3 239.6,364.3 239.8,363.1 240.1,365 240.3,363.7 240.5,365.3 240.8,362.8 241,364.5 241.3,364.5 241.5,365.3 241.7,363.1 242,364.1 242.2,364.5 242.5,362.7 242.7,365.5 242.9,363.1 243.2,362.6 243.4,367.1 243.7,363.7 243.9,364.4 244.1,364.7 244.4,364.4 244.6,366.8 244.9,364.6 245.1,365 245.3,367.3 245.6,365.6 245.8,367.1 246.1,365.3 246.3,366.6 246.5,365 246.8,367.4 247,366 247.3,365.9 247.5,365.5 247.7,363.7 248,362.8 248.2,367.9 248.5,364.8 248.7,366.3 248.9,366.6 249.2,367 249.4,366.7 249.7,366.7 249.9,365.5 250.1,365.1 250.4,366.4 250.6,366.8 250.9,366.1 251.1,366.3 251.4,364.6 251.6,368.5 251.8,369.1 252.1,367.5 252.3,367 252.6,368 252.8,367.3 253,370.5 253.3,369.1 253.5,369.2 253.8,370.4 254,369.2 254.2,368.6 254.5,367.7 254.7,369.7 255,370.9 255.2,368.2 255.4,366.2 255.7,368.7 255.9,368.9 256.2,370.2 256.4,368.5 256.6,366.9 256.9,371.5 257.1,367.3 257.4,371.2 257.6,366.4 257.8,367.3 258.1,368.7 258.3,368.1 258.6,366.3 258.8,370.3 259,367.3 259.3,368.2 259.5,369 259.8,366.7 260,371.1 260.2,369 260.5,370.2 260.7,368.7 261,367.8 261.2,370.8 261.4,368.7 261.7,368.7 261.9,369.8 262.2,369.2 262.4,367.5 262.6,368.3 262.9,366.3 263.1,370 263.4,370.3 263.6,367 263.8,370.4 264.1,367 264.3,368.8 264.6,367.8 264.8,369 265,367.3 265.3,366.7 265.5,366.7 265.8,367.7 266,370 266.2,366.7 266.5,368 266.7,366.1 267,369.9 267.2,367.2 267.4,368.5 267.7,367.9 267.9,366.5 268.2,366.9 268.4,365.9 268.6,367 268.9,366.9 269.1,367.4 269.4,369.3 269.6,366.1 269.8,369 270.1,368.6 270.3,367.4 270.6,369.1 270.8,368.7 271,370.9 271.3,369.2 271.5,369.6 271.8,369.1 272,367.7 272.2,368.7 272.5,368.8 272.7,368.4 273,367.1 273.2,367 273.4,368 273.7,369 273.9,367.7 274.2,369.7 274.4,369.5 274.7,369 274.9,370.2 275.1,371 275.4,370.9 275.6,369.7 275.9,369 276.1,368.4 276.3,370.3 276.6,368.8 276.8,369.4 277.1,369.8 277.3,366.4 277.5,370.1 277.8,370.1 278,369.1 278.3,367.2 278.5,369.6 278.7,367.4 279,370.3 279.2,369.3 279.5,368.8 279.7,368.9 279.9,368.4 280.2,368.8 280.4,368.8 280.7,369.8 280.9,367.6 281.1,368.2 281.4,367.9 281.6,366.8 281.9,367.5 282.1,367.9 282.3,366.3 282.6,369 282.8,370.6 283.1,369.2 283.3,370.3 283.5,369.1 283.8,369.1 284,368.6 284.3,368.2 284.5,367.9 284.7,368.2 285,368.5 285.2,369 285.5,369 285.7,368.4 285.9,368.6 286.2,369.9 286.4,369.3 286.7,367.8 286.9,368.7 287.1,369.9 287.4,368.3 287.6,368 287.9,370.3 288.1,366.7 288.3,367.3 288.6,368.8 288.8,366.9 289.1,368.1 289.3,367.6 289.5,369.6 289.8,369.1 290,368.8 290.3,368.7"/>
<polyline stroke="#4682b4" points="42.9,347.9 43.1,353.9 43.3,359.8 43.6,366.6 43.8,369.9 44.1,376.1 44.3,377.9 44.5,382 44.8,385.8 45,389.7 45.3,393.5 45.5,397 45.7,398.7 46,398 46.2,399.3 46.5,398.3 46.7,397.8 46.9,396.3 47.2,394.7 47.4,392.5 47.7,391 47.9,388.3 48.1,384.7 48.4,379.9 48.6,377 48.9,372.8 49.1,369 49.3,367.7 49.6,364.3 49.8,360 50.1,359.8 50.3,357.6 50.5,353.9 50.8,349.4 51,346.6 51.3,346.9 51.5,343.4 51.7,341.9 52,340.6 52.2,340.1 52.5,336.5 52.7,336.7 52.9,334.8 53.2,334.2 53.4,331.9 53.7,331.6 53.9,332.5 54.1,331 54.4,329.3 54.6,330.6 54.9,329.1 55.1,327.9 55.3,328.9 55.6,328 55.8,328 56.1,325.8 56.3,326.1 56.5,324.3 56.8,324.6 57,323.9 57.3,324 57.5,323.1 57.7,323.7 58,324.4 58.2,322.5 58.5,322.4 58.7,321.3 58.9,322.9 59.2,323 59.4,323.6 59.7,323.8 59.9,323.1 60.1,321.4 60.4,322.6 60.6,323.4 60.9,321.1 61.1,322.2 61.3,322 61.6,321.9 61.8,321.6 62.1,321 62.3,323.1 62.5,321.8 62.8,322.1 63,320.5 63.3,322.9 63.5,320.6 63.7,321.8 64,320.9 64.2,323.2 64.5,322 64.7,322.6 64.9,324.5 65.2,323.5 65.4,323.7 65.7,324.4 65.9,324.6 66.2,325.4 66.4,324.7 66.6,324 66.9,325.2 67.1,325.9 67.4,323.4 67.6,324.6 67.8,324.3 68.1,324.5 68.3,325 68.6,324.2 68.8,325.5 69,325.1 69.3,326.6 69.5,326.8 69.8,325.9 70,323.9 70.2,325.8 70.5,324.2 70.7,325.7 71,326 71.2,327.2 71.4,326.7 71.7,325.1 71.9,325.7 72.2,327.7 72.4,327.6 72.6,325.9 72.9,327.8 73.1,326.4 73.4,328.3 73.6,326.9 73.8,326.1 74.1,327.1 74.3,327.9 74.6,328.4 74.8,328.9 75,329.1 75.3,328.2 75.5,328.3 75.8,329 76,330.7 76.2,329.8 76.5,329.1 76.7,329.5 77,331 77.2,329.1 77.4,328 77.7,331.2 77.9,330.1 78.2,328.5 78.4,330.8 78.6,331 78.9,330.5 79.1,330.4 79.4,331.4 79.6,330.3 79.8,333.5 80.1,331.2 80.3,331.6 80.6,332.5 80.8,331.8 81,332.3 81.3,330.9 81.5,332.8 81.8,332.3 82,333.6 82.2,333.4 82.5,332.6 82.7,334 83,333.7 83.2,334.4 83.4,333.9 83.7,333.5 83.9,332.8 84.2,335.7 84.4,333.8 84.6,332.8 84.9,332.4 85.1,332.5 85.4,335.5 85.6,334.4 85.8,333.6 86.1,333.2 86.3,333.9 86.6,334 86.8,333.8 87,334.9 87.3,333.8 87.5,333.2 87.8,334.5 88,333.3 88.2,336.9 88.5,335.3 88.7,333.3 89,334.3 89.2,333.8 89.5,335.3 89.7,336.7 89.9,336.1 90.2,334 90.4,337.5 90.7,336.6 90.9,337.4 91.1,336.3 91.4,336.1 91.6,335.3 91.9,337 92.1,334.5 92.3,335.8 92.6,337.1 92.8,337.7 93.1,338.3 93.3,336.6 93.5,334.7 93.8,337.1 94,338.4 94.3,337.5 94.5,338.3 94.7,338.9 95,340 95.2,338.1 95.5,336.5 95.7,336.9 95.9,337.4 96.2,338.3 96.4,338.3 96.7,337.8 96.9,339 97.1,338.9 97.4,339.8 97.6,338.4 97.9,341 98.1,339.5 98.3,339.4 98.6,339.7 98.8,340 99.1,341.3 99.3,341.6 99.5,341.5 99.8,341.6 100,342.5 100.3,342.1 100.5,342.5 100.7,343 101,341.7 101.2,342.7 101.5,341.7 101.7,340.6 101.9,340.4 102.2,342.2 102.4,341.3 102.7,342.3 102.9,340.4 103.1,340.7 103.4,341.3 103.6,342.9 103.9,343.2 104.1,342.3 104.3,342.8 104.6,343 104.8,342.1 105.1,344.2 105.3,345 105.5,344.1 105.8,344.4 106,343.3 106.3,344.3 106.5,343.6 106.7,345.6 107,341.9 107.2,343.3 107.5,344.8 107.7,343.6 107.9,342.9 108.2,343.5 108.4,344.8 108.7,344 108.9,343.8 109.1,346.4 109.4,346.6 109.6,345.9 109.9,344.4 110.1,344.1 110.3,345.6 110.6,344.2 110.8,344.7 111.1,346.1 111.3,347.2 111.5,347.3 111.8,346.6 112,345.4 112.3,346.1 112.5,348.7 112.8,348.8 113,346.7 113.2,347.6 113.5,348.9 113.7,347.3 114,346.6 114.2,347.3 114.4,348.1 114.7,346.8 114.9,348.9 115.2,349.2 115.4,349.8 115.6,346.6 115.9,346.9 116.1,349 116.4,348.3 116.6,348.6 116.8,348 117.1,347.6 117.3,348.1 117.6,349.1 117.8,349.8 118,350.5 118.3,351.5 118.5,349.3 118.8,350.2 119,349.3 119.2,349.4 119.5,350.5 119.7,350 120,349 120.2,349.5 120.4,351 120.7,351.1 120.9,349.6 121.2,350.1 121.4,350.2 121.6,350.9 121.9,350.1 122.1,350.6 122.4,348.6 122.6,351.4 122.8,351.8 123.1,349.4 123.3,351.4 123.6,352.4 123.8,351.1 124,354.1 124.3,351.4 124.5,352.2 124.8,351.9 125,353.2 125.2,350.9 125.5,352.1 125.7,352.6 126,352.5 126.2,354 126.4,353.5 126.7,355.2 126.9,354.8 127.2,353.1 127.4,353.2 127.6,352.3 127.9,354 128.1,353.4 128.4,354.1 128.6,353.1 128.8,352.5 129.1,352.2 129.3,353 129.6,354.5 129.8,353.6 130,355.2 130.3,356 130.5,353.7 130.8,353.7 131,353.2 131.2,353.2 131.5,355.8 131.7,355.7 132,354.8 132.2,354.8 132.4,354.4 132.7,356.6 132.9,355.3 133.2,353.9 133.4,352.8 133.6,356.5 133.9,353.4 134.1,355.7 134.4,357.4 134.6,354.3 134.8,357.2 135.1,357.4 135.3,355.2 135.6,354.9 135.8,356 136.1,357 136.3,357.9 136.5,356 136.8,358.4 137,357.8 137.3,354.8 137.5,355.4 137.7,354.7 138,356 138.2,358 138.5,356.1 138.7,358.8 138.9,355.8 139.2,355 139.4,358 139.7,355.6 139.9,357 140.1,357.4 140.4,359.7 140.6,357.5 140.9,356.2 141.1,359 141.3,357.3 141.6,357.6 141.8,358.5 142.1,355.6 142.3,356.8 142.5,356.9 142.8,355.8 143,358.1 143.3,354.8 143.5,358 143.7,359.1 144,357.1 144.2,357.6 144.5,359.2 144.7,359.2 144.9,357.3 145.2,358 145.4,357.8 145.7,357.2 145.9,359.1 146.1,356.9 146.4,358.6 146.6,357.9 146.9,360 147.1,357.9 147.3,358.6 147.6,356.6 147.8,359.2 148.1,357.2 148.3,358.4 148.5,357.6 148.8,359.2 149,358.9 149.3,361.8 149.5,361 149.7,358.1 150,358.8 150.2,358.5 150.5,359.7 150.7,358.5 150.9,359.8 151.2,359.5 151.4,357.8 151.7,358 151.9,360.1 152.1,359.4 152.4,359.3 152.6,359.8 152.9,359.8 153.1,360.8 153.3,358.9 153.6,360.8 153.8,360.5 154.1,357.8 154.3,357 154.5,356.8 154.8,358.7 155,359.6 155.3,358.3 155.5,357.3 155.7,359.1 156,359.8 156.2,361.4 156.5,361.4 156.7,357.5 156.9,361.3 157.2,360.3 157.4,359.7 157.7,359.1 157.9,360.9 158.1,358.7 158.4,358.6 158.6,359.3 158.9,360.3 159.1,359.8 159.4,362.1 159.6,358.7 159.8,360.2 160.1,361.3 160.3,359.7 160.6,359.1 160.8,359.3 161,359.2 161.3,358.6 161.5,360.8 161.8,359.9 162,360 162.2,362.3 162.5,359.2 162.7,361.1 163,360.5 163.2,360.5 163.4,361.9 163.7,359.9 163.9,359.5 164.2,360.6 164.4,363.4 164.6,359.5 164.9,361.4 165.1,362.3 165.4,362.3 165.6,363 165.8,362.3 166.1,361.1 166.3,363.3 166.6,361.4 166.8,362.4 167,361.9 167.3,362 167.5,361.4 167.8,360.6 168,362 168.2,360.8 168.5,360 168.7,363.8 169,361.2 169.2,362.6 169.4,362.4 169.7,360.9 169.9,362.3 170.2,362.6 170.4,360.2 170.6,360.4 170.9,361.4 171.1,359.4 171.4,363.1 171.6,364 171.8,362.1 172.1,363.5 172.3,361.6 172.6,362.8 172.8,362.8 173,362 173.3,362.9 173.5,364.4 173.8,362.9 174,361.1 174.2,361.6 174.5,360.7 174.7,359.6 175,360.6 175.2,361.9 175.4,363 175.7,361.4 175.9,359.8 176.2,360 176.4,360.6 176.6,363.1 176.9,361.3 177.1,361.2 177.4,360.8 177.6,363.9 177.8,363.3 178.1,362.1 178.3,362.3 178.6,363.1 178.8,361.9 179,362.8 179.3,360.9 179.5,362.7 179.8,361.8 180,364.5 180.2,361.6 180.5,362.8 180.7,361 181,362.2 181.2,360.6 181.5,362.9 181.7,364.1 181.9,362.1 182.2,361.7 182.4,363.3 182.7,363.9 182.9,361.5 183.1,361.2 183.4,361.8 183.6,362.6 183.9,362.6 184.1,360.6 184.3,361.6 184.6,363.5 184.8,363.8 185.1,361.6 185.3,361.6 185.5,363.5 185.8,363.7 186,361.4 186.3,363 186.5,361.3 186.7,363.9 187,363.7 187.2,364.4 187.5,362.5 187.7,362.7 187.9,364.4 188.2,362.1 188.4,362.9 188.7,362.5 188.9,360.7 189.1,361.2 189.4,361.8 189.6,362.9 189.9,363.9 190.1,363.2 190.3,362.9 190.6,360.7 190.8,363.7 191.1,363.1 191.3,362.4 191.5,361.9 191.8,361 192,360.8 192.3,362.9 192.5,360.3 192.7,362 193,363.9 193.2,364.2 193.5,363.6 193.7,363.5 193.9,362.2 194.2,364.4 194.4,364.4 194.7,364.8 194.9,363.7 195.1,365.9 195.4,363.3 195.6,365.2 195.9,364.4 196.1,363.3 196.3,363.5 196.6,361.3 196.8,365.1 197.1,366.6 197.3,365.6 197.5,363 197.8,365.3 198,362.5 198.3,364.2 198.5,363.1 198.7,366 199,362.8 199.2,362.6 199.5,365 199.7,361.7 199.9,360.6 200.2,363.2 200.4,364.5 200.7,364.2 200.9,364 201.1,362.4 201.4,361.1 201.6,364 201.9,363.6 202.1,364.9 202.3,363.9 202.6,362.6 202.8,365.8 203.1,362.2 203.3,362.2 203.5,361.7 203.8,364.1 204,365.1 204.3,363.6 204.5,364.5 204.8,365.3 205,364.1 205.2,364.9 205.5,360.7 205.7,362.2 206,362.2 206.2,364.9 206.4,361.7 206.7,364.4 206.9,363 207.2,365.5 207.4,363.2 207.6,366.3 207.9,364.3 208.1,364.5 208.4,366 208.6,364.1 208.8,364.9 209.1,364.6 209.3,363.4 209.6,362.5 209.8,364.5 210,362.5 210.3,363 210.5,363.1 210.8,362 211,366.1 211.2,362.5 211.5,363.6 211.7,364.8 212,364.5 212.2,362.9 212.4,362.6 212.7,363.1 212.9,365.4 213.2,365.8 213.4,363.6 213.6,362.9 213.9,364.7 214.1,362.6 214.4,362.9 214.6,363.2 214.8,364.8 215.1,362 215.3,362.3 215.6,361.7 215.8,363 216,365.1 216.3,363.2 216.5,362.3 216.8,363.9 217,365.4 217.2,363.1 217.5,362.9 217.7,365.5 218,364.8 218.2,365.7 218.4,363.5 218.7,363.8 218.9,361.5 219.2,364.9 219.4,362.1 219.6,364 219.9,363.3 220.1,365.4 220.4,363.5 220.6,364.4 220.8,363.5 221.1,363 221.3,362.6 221.6,362.2 221.8,363.4 222,364.6 222.3,362.1 222.5,363.4 222.8,364.4 223,362 223.2,363.6 223.5,362.7 223.7,366 224,364.3 224.2,360.5 224.4,362.5 224.7,362.6 224.9,364.2 225.2,363.5 225.4,363.1 225.6,363.6 225.9,363.4 226.1,365.6 226.4,364.5 226.6,364.1 226.8,362.8 227.1,362.9 227.3,363.6 227.6,364.7 227.8,364.6 228.1,363.5 228.3,365.6 228.5,363.9 228.8,364.1 229,364 229.3,361.4 229.5,363.7 229.7,362 230,361 230.2,362.3 230.5,362.9 230.7,364.8 230.9,360.9 231.2,364.7 231.4,366.1 231.7,362 231.9,365.6 232.1,365.4 232.4,364.7 232.6,365.2 232.9,366.2 233.1,363.2 233.3,363 233.6,362.4 233.8,363.4 234.1,363.8 234.3,364.2 234.5,361.6 234.8,362.3 235,364.1 235.3,362.9 235.5,365 235.7,363 236,365.1 236.2,363.8 236.5,363.9 236.7,366.3 236.9,362.8 237.2,364 237.4,365.1 237.7,365.1 237.9,364.2 238.1,364.4 238.4,363.4 238.6,363.8 238.9,362.9 239.1,363.6 239.3,365.6 239.6,365.4 239.8,362.7 240.1,362.8 240.3,363.6 240.5,365.5 240.8,364.8 241,365 241.3,363.1 241.5,364.9 241.7,365.9 242,365 242.2,363.1 242.5,361.4 242.7,364.1 242.9,361.8 243.2,364 243.4,363.9 243.7,364.4 243.9,362.4 244.1,364.4 244.4,362.1 244.6,363.8 244.9,360.8 245.1,362.9 245.3,363.1 245.6,364.9 245.8,361.8 246.1,363.2 246.3,363.3 246.5,363.5 246.8,364.2 247,364.5 247.3,363.1 247.5,364.6 247.7,363.5 248,360.7 248.2,363.6 248.5,363.9 248.7,362.4 248.9,364.8 249.2,361.8 249.4,363.9 249.7,365.7 249.9,364.4 250.1,365.1 250.4,363.1 250.6,364.6 250.9,363.2 251.1,366.6 251.4,364.4 251.6,363.3 251.8,363.4 252.1,364.2 252.3,363.2 252.6,363.1 252.8,364.2 253,363.7 253.3,363.1 253.5,364 253.8,367 254,366.7 254.2,365.4 254.5,363.8 254.7,364.7 255,363.9 255.2,363.2 255.4,364.1 255.7,366 255.9,363.4 256.2,366.5 256.4,366.3 256.6,365.2 256.9,367.2 257.1,362 257.4,361.7 257.6,364.7 257.8,365.3 258.1,367.3 258.3,363.9 258.6,365.8 258.8,366.5 259,366.8 259.3,364.9 259.5,364.9 259.8,364.9 260,365.6 260.2,367.1 260.5,362.4 260.7,363.2 261,364.9 261.2,365.8 261.4,365.3 261.7,363.1 261.9,363.2 262.2,363.5 262.4,362.3 262.6,364.8 262.9,362.1 263.1,363.9 263.4,365.2 263.6,363.3 263.8,363.6 264.1,365.2 264.3,361.8 264.6,366.4 264.8,364 265,363.8 265.3,365.5 265.5,364.4 265.8,362.7 266,366 266.2,365.8 266.5,364.8 266.7,363.8 267,362.9 267.2,363.6 267.4,365.8 267.7,362.9 267.9,363.4 268.2,363.2 268.4,367 268.6,367.2 268.9,365.7 269.1,365.5 269.4,365.1 269.6,366.5 269.8,366.4 270.1,364.1 270.3,367.3 270.6,366.4 270.8,364.8 271,363.7 271.3,364.2 271.5,362.5 271.8,364.4 272,363.6 272.2,363.5 272.5,364.3 272.7,366.1 273,364.3 273.2,364.4 273.4,365.3 273.7,363.2 273.9,364.9 274.2,366.1 274.4,364 274.7,365.3 274.9,362.9 275.1,366.6 275.4,366.1 275.6,363.7 275.9,363.1 276.1,363.5 276.3,361.4 276.6,363.9 276.8,364.3 277.1,362.5 277.3,364 277.5,363 277.8,361.7 278,363.6 278.3,363.7 278.5,364.4 278.7,363.2 279,362.8 279.2,362 279.5,362.6 279.7,360.9 279.9,363.9 280.2,364.3 280.4,364.8 280.7,362.6 280.9,364.3 281.1,364.7 281.4,366.3 281.6,364.8 281.9,363.6 282.1,367.8 282.3,366.9 282.6,366.8 282.8,366.7 283.1,365.4 283.3,365.7 283.5,365 283.8,364.8 284,363.3 284.3,365.5 284.5,364.8 284.7,365.7 285,365.1 285.2,366 285.5,366.8 285.7,364.8 285.9,363.6 286.2,366.4 286.4,365.4 286.7,365.2 286.9,367.9 287.1,362.1"/>
<polyline stroke="#ff0000" points="43.6,345 43.8,352.4 44.1,360.1 44.3,365 44.5,370.6 44.8,375.5 45,379.7 45.3,387.2 45.5,389.8 45.7,396.1 46,397.1 46.2,395.9 46.5,395.1 46.7,394.9 46.9,390.1 47.2,389.6 47.4,389.1 47.7,386.2 47.9,385.6 48.1,382.6 48.4,383.1 48.6,379.3 48.9,380.2 49.1,374.9 49.3,374.3 49.6,371.3 49.8,372.3 50.1,372.2 50.3,369.8 50.5,366.7 50.8,362.1 51,362.4 51.3,359.6 51.5,361.1 51.7,359.3 52,358 52.2,355 52.5,356.3 52.7,354.9 52.9,351.3 53.2,353.6 53.4,351.4 53.7,352.5 53.9,350.3 54.1,348.2 54.4,347.2 54.6,350.3 54.9,350.6 55.1,346.3 55.3,343.8 55.6,346.9 55.8,344.8 56.1,344.5 56.3,347.2 56.5,346.5 56.8,343.2 57,341.8 57.3,344.9 57.5,342.6 57.7,342.9 58,342.7 58.2,342.9 58.5,338.7 58.7,340.1 58.9,340.2 59.2,340.4 59.4,338.6 59.7,340 59.9,339 60.1,340.1 60.4,338.2 60.6,339.3 60.9,337.6 61.1,341.1 61.3,339.5 61.6,339.7 61.8,334.5 62.1,338.4 62.3,337.2 62.5,340.4 62.8,339.2 63,340.3 63.3,337.7 63.5,339.5 63.7,334.9 64,339.4 64.2,335.7 64.5,337.5 64.7,335.9 64.9,338.7 65.2,337.1 65.4,337.4 65.7,338.4 65.9,336.2 66.2,339.9 66.4,337.4 66.6,337.7 66.9,337.1 67.1,339.3 67.4,336.1 67.6,339.1 67.8,338.9 68.1,339.5 68.3,338.7 68.6,337.5 68.8,335 69,342.4 69.3,337.6 69.5,337.9 69.8,336.9 70,338.8 70.2,338.8 70.5,336.4 70.7,339.7 71,339.7 71.2,339.8 71.4,339.2 71.7,337 71.9,341.9 72.2,338.2 72.4,343.8 72.6,339.4 72.9,341.4 73.1,338.2 73.4,339.2 73.6,339.1 73.8,339.6 74.1,339.8 74.3,344.2 74.6,340.2 74.8,342.9 75,338.5 75.3,341.8 75.5,340.8 75.8,341.6 76,340.3 76.2,340.4 76.5,339.6 76.7,343 77,337.8 77.2,342.9 77.4,340.9 77.7,343.5 77.9,339.5 78.2,338.1 78.4,338.1 78.6,339.5 78.9,339.7 79.1,341.7 79.4,341.4 79.6,341 79.8,340.4 80.1,342.3 80.3,341.2 80.6,339.4 80.8,340.4 81,340.9 81.3,342.4 81.5,340.1 81.8,340.5 82,338.3 82.2,340.9 82.5,339.2 82.7,343.3 83,337.8 83.2,343.6 83.4,341.2 83.7,341.7 83.9,342 84.2,341.6 84.4,341.9 84.6,341 84.9,341 85.1,339 85.4,338.9 85.6,337.8 85.8,340 86.1,342.2 86.3,337.1 86.6,339.7 86.8,344.5 87,339.3 87.3,341.2 87.5,342.2 87.8,341.8 88,340.1 88.2,341.6 88.5,339.7 88.7,340.8 89,340.5 89.2,339.4 89.5,339.8 89.7,337.3 89.9,339.2 90.2,341.7 90.4,339.7 90.7,336.4 90.9,336.3 91.1,340.8 91.4,338.3 91.6,340.3 91.9,340.1 92.1,342.7 92.3,343.3 92.6,340.9 92.8,340 93.1,339.7 93.3,342.3 93.5,341.3 93.8,341 94,341.7 94.3,345.2 94.5,343.5 94.7,341.9 95,341.5 95.2,344.9 95.5,341.8 95.7,347.4 95.9,341.7 96.2,345.8 96.4,344.6 96.7,346.5 96.9,347 97.1,345.6 97.4,345.3 97.6,347.9 97.9,344.8 98.1,347.3 98.3,346.4 98.6,347.9 98.8,347.8 99.1,346.9 99.3,349.5 99.5,345.6 99.8,349.5 100,346.6 100.3,349.6 100.5,348.1 100.7,349.1 101,345.4 101.2,344.5 101.5,348.4 101.7,347.1 101.9,346.9 102.2,345.8 102.4,345.1 102.7,343.4 102.9,346.3 103.1,349.9 103.4,345.2 103.6,347 103.9,346.2 104.1,343.6 104.3,343.2 104.6,345.7 104.8,343.4 105.1,344.7 105.3,344.1 105.5,346.1 105.8,343.3 106,347.1 106.3,345.7 106.5,343.9 106.7,347.2 107,344.5 107.2,344.2 107.5,343.5 107.7,341.7 107.9,348.2 108.2,343 108.4,344.3 108.7,342.9 108.9,343.7 109.1,346.8 109.4,346.7 109.6,347.5 109.9,343.5 110.1,347 110.3,344.8 110.6,345.6 110.8,348.9 111.1,346.3 111.3,346.2 111.5,343 111.8,346.1 112,347.7 112.3,346.7 112.5,344.2 112.8,344.6 113,344.9 113.2,344.7 113.5,347.6 113.7,344.5 114,346.1 114.2,350.4 114.4,348.5 114.7,344.9 114.9,348.5 115.2,348.4 115.4,347.5 115.6,347.1 115.9,347.7 116.1,346.9 116.4,349.3 116.6,351 116.8,348.5 117.1,348.7 117.3,347.1 117.6,345.4 117.8,348.6 118,348.2 118.3,346.7 118.5,348.6 118.8,349.2 119,352 119.2,351.2 119.5,352 119.7,351.3 120,349 120.2,349.9 120.4,351.1 120.7,354.7 120.9,350.3 121.2,350.5 121.4,354 121.6,351.6 121.9,352.6 122.1,351.2 122.4,356 122.6,354.9 122.8,350.3 123.1,354.6 123.3,354.2 123.6,353.5 123.8,352 124,349.8 124.3,352.6 124.5,350.8 124.8,351.9 125,353.7 125.2,349.5 125.5,350.6 125.7,353.3 126,352.9 126.2,354.7 126.4,356.2 126.7,353.2 126.9,351 127.2,356.5 127.4,354 127.6,349.2 127.9,349.8 128.1,354.7 128.4,354.1 128.6,350.1 128.8,354.7 129.1,352.9 129.3,354.1 129.6,351.8 129.8,352.5 130,349.5 130.3,354.8 130.5,355.9 130.8,353.5 131,352.4 131.2,353.7 131.5,349.5"/>
<polyline stroke="#ff7f50" points="53.7,474 53.9,474.1 54.1,473.7 54.4,474.1 54.6,470 54.9,467 55.1,464.6 55.3,464.2 55.6,458.6 55.8,456 56.1,456.3 56.3,453.2 56.5,447.7 56.8,444.8 57,438.9 57.3,432 57.5,426.6 57.7,423.4 58,417.9 58.2,413.3 58.5,408.1 58.7,403.6 58.9,399.8 59.2,393.7 59.4,390.8 59.7,387.6 59.9,388 60.1,384.8 60.4,382.3 60.6,379.4 60.9,380.5 61.1,375.4 61.3,377.2 61.6,376.6 61.8,376.2 62.1,375.3 62.3,374.1 62.5,376.5 62.8,372.6 63,376.6 63.3,374.1 63.5,375 63.7,374.9 64,373.5 64.2,374.4 64.5,372 64.7,375.6 64.9,373.5 65.2,373.5 65.4,370.7 65.7,371.4 65.9,372.7 66.2,371.1 66.4,372.4 66.6,374.8 66.9,372.9 67.1,371 67.4,374.2 67.6,370.8 67.8,372.9 68.1,374.6 68.3,372.8 68.6,376.1 68.8,374.6 69,375.2 69.3,372.7 69.5,375.6 69.8,376.6 70,373.3 70.2,374.4 70.5,374.8 70.7,374.4 71,371.6 71.2,372.8 71.4,374.2 71.7,369.8 71.9,372.1 72.2,369.9 72.4,371 72.6,370.4 72.9,374 73.1,373.7 73.4,371.3 73.6,372.8 73.8,372.6 74.1,370.7 74.3,375.9 74.6,373 74.8,369.9 75,373 75.3,372.1 75.5,371.6 75.8,371.5 76,371.5 76.2,373.3 76.5,370.9 76.7,372.2 77,368.1 77.2,371.6 77.4,370.3 77.7,371.2 77.9,369.1 78.2,370.3 78.4,369.3 78.6,371.4 78.9,370.5 79.1,371.3 79.4,369.9 79.6,370.3 79.8,371.8 80.1,372.1 80.3,369.3 80.6,370 80.8,370.4 81,371 81.3,371.1 81.5,369 81.8,370.1 82,369.9 82.2,369.6 82.5,369.2 82.7,368.8 83,368 83.2,370.9 83.4,368.6 83.7,370.3 83.9,368.8 84.2,366.1 84.4,371.5 84.6,369.8 84.9,368.2 85.1,370.5 85.4,363.7 85.6,368.1 85.8,363.8 86.1,366.8 86.3,364.5 86.6,365.2 86.8,366.8 87,365 87.3,366.9 87.5,366.4 87.8,362.8 88,366.7 88.2,366.2 88.5,361 88.7,364.8 89,363.3 89.2,360.8 89.5,364.4 89.7,364.3 89.9,360.1 90.2,363.3 90.4,363.1 90.7,363.9 90.9,362.1 91.1,365.8 91.4,362.3 91.6,360.9 91.9,361.1 92.1,363.7 92.3,361.6 92.6,359.5 92.8,362.7 93.1,361.7 93.3,363.6 93.5,365.7 93.8,361.1 94,364.2 94.3,363.9 94.5,362.5 94.7,362.7 95,362.9 95.2,360.9 95.5,362.7 95.7,362.8 95.9,364.7 96.2,361.3 96.4,365.4 96.7,366.7 96.9,364.7 97.1,361.5 97.4,362.1 97.6,360.2 97.9,361.9 98.1,361.9 98.3,362.1 98.6,364.2 98.8,363.8 99.1,363.9 99.3,363 99.5,364.7 99.8,363.5 100,362.5 100.3,363.5 100.5,364.1 100.7,364.2 101,366 101.2,366.3 101.5,365.3 101.7,362 101.9,362.4 102.2,363.5 102.4,362.9 102.7,362.8 102.9,367.8 103.1,365.2 103.4,362.4 103.6,360.5 103.9,363.5 104.1,360.8 104.3,362.2 104.6,363.9 104.8,366 105.1,365.8 105.3,364.2 105.5,363.8 105.8,364 106,362.8 106.3,362.8 106.5,363.4 106.7,363.2 107,363.6 107.2,367.3 107.5,366.1 107.7,363.2 107.9,362.2 108.2,363.5 108.4,363.9 108.7,362.8 108.9,362.7 109.1,363 109.4,366.7 109.6,362.6 109.9,361.7 110.1,362.7 110.3,359.4 110.6,365.8 110.8,366.8 111.1,360.1 111.3,365.5 111.5,366.9 111.8,364.6 112,362 112.3,364.8 112.5,364.2 112.8,362.3 113,360.4 113.2,362.4 113.5,363.2 113.7,364.7 114,362.2 114.2,359.8 114.4,365.5 114.7,365.5 114.9,363.9 115.2,362.1 115.4,362.3 115.6,364.1 115.9,364.7 116.1,361.4 116.4,363.2 116.6,361.8 116.8,364.4 117.1,362.1 117.3,365.9 117.6,360.7 117.8,364.9 118,364.7 118.3,363 118.5,363.9 118.8,364.7 119,362.8 119.2,364.8 119.5,360.3 119.7,365.1 120,361.8 120.2,364.2 120.4,366.3 120.7,366.7 120.9,362.7 121.2,365.6 121.4,362.8 121.6,364.6 121.9,363.1 122.1,362.9 122.4,359.7 122.6,363.5 122.8,365.7 123.1,366.7 123.3,361.2 123.6,362.4 123.8,360 124,365.6 124.3,362.9 124.5,363.8 124.8,361.4 125,362.8 125.2,359.5 125.5,362.6 125.7,362.6 126,363.4 126.2,361.3 126.4,360.2 126.7,360.9 126.9,363.3 127.2,364 127.4,364.1 127.6,362.1 127.9,363.7 128.1,363.2 128.4,360.4 128.6,361.5 128.8,361.9 129.1,363.2 129.3,362.8 129.6,363 129.8,362 130,362.4 130.3,362 130.5,363.7 130.8,360.2 131,361.7 131.2,362.1 131.5,361.1 131.7,364.9 132,365.4 132.2,365.9 132.4,364.5 132.7,362.5 132.9,363.4 133.2,361 133.4,366.4 133.6,363.3 133.9,366.7 134.1,366.3 134.4,366.5 134.6,361.9 134.8,364 135.1,361.6 135.3,364 135.6,363.1 135.8,363.3 136.1,363.7 136.3,364.5 136.5,363.1 136.8,364.5 137,364.9 137.3,364.7 137.5,365.9 137.7,367.3 138,366.1 138.2,361.4 138.5,364.4 138.7,366.6 138.9,365.1 139.2,362.6 139.4,361.6 139.7,368.6 139.9,367.9 140.1,368.4 140.4,365.8 140.6,366.7 140.9,362.3 141.1,363.2 141.3,365.8 141.6,361.4 141.8,366.4 142.1,364.8 142.3,364.1 142.5,367.2 142.8,365.2 143,364.9 143.3,365.5 143.5,363.9 143.7,365.3 144,365.8 144.2,363 144.5,365.8 144.7,363.8 144.9,365.9 145.2,363.9 145.4,364.9 145.7,367.3 145.9,364.1 146.1,365.8 146.4,361.6 146.6,365.7 146.9,363.1 147.1,368.7 147.3,366 147.6,368.4 147.8,364.7 148.1,366.7 148.3,362.4 148.5,363.4 148.8,361.7 149,366.1 149.3,368.4 149.5,364.5 149.7,362 150,364 150.2,361 150.5,365.3 150.7,366 150.9,364.1 151.2,363.3 151.4,366 151.7,366.5 151.9,367 152.1,362 152.4,369.7 152.6,363.9 152.9,366.3 153.1,362.8 153.3,364.5 153.6,368.2 153.8,365.4 154.1,366.7 154.3,366.8 154.5,368.1 154.8,363.1 155,369.1 155.3,365.1 155.5,362.1 155.7,365 156,363.1 156.2,364.6 156.5,363.4 156.7,367.8 156.9,365.9 157.2,365.5 157.4,365.8 157.7,367.9 157.9,368.2 158.2,366.4 158.4,366 158.6,366.6 158.9,370.2 159.1,368.1 159.4,367.8 159.6,365.7 159.8,367.8 160.1,366.1 160.3,369.4 160.6,367.5 160.8,365.5 161,365.8 161.3,369.8 161.5,367.3 161.8,369 162,364.1 162.2,367 162.5,367.9 162.7,364.6 163,371.9 163.2,369.6 163.4,366.7 163.7,368 163.9,366.8 164.2,368.7 164.4,367.8 164.6,366.9 164.9,365.1 165.1,363.5 165.4,368.9 165.6,365.1 165.8,369.9 166.1,366.6 166.3,364.8 166.6,367 166.8,364.8 167,365.5 167.3,361.9 167.5,364.5 167.8,365.8 168,367.8 168.2,365 168.5,362.6 168.7,360.2 169,363.3 169.2,364 169.4,363.3 169.7,362 169.9,360.3 170.2,360.2 170.4,361.5 170.6,360.7 170.9,361.6 171.1,358.7 171.4,363.3"/>
<line x1="42.85" x2="331.1" y1="354.44" y2="354.44" stroke="#000" stroke-width="1.25" stroke-dasharray="4.1 1.81"/>
<line x1="42.85" x2="331.1" y1="378.46" y2="378.46" stroke="#000" stroke-width="1.25" stroke-dasharray="4.1 1.81"/>
</g>
<rect x="42.85" y="276.4" width="288.25" height="180.10" fill="none" stroke="#000" stroke-width="0.8"/>
<path stroke="#000" stroke-width="1.5" d="M42.85 456.50v-8.3M42.85 276.40v8.3M90.89 456.50v-8.3M90.89 276.40v8.3M138.93 456.50v-8.3M138.93 276.40v8.3M186.97 456.50v-8.3M186.97 276.40v8.3M235.02 456.50v-8.3M235.02 276.40v8.3M283.06 456.50v-8.3M283.06 276.40v8.3M331.10 456.50v-8.3M331.10 276.40v8.3M42.85 456.50h8.3M331.10 456.50h-8.3M42.85 426.48h8.3M331.10 426.48h-8.3M42.85 396.47h8.3M331.10 396.47h-8.3M42.85 366.45h8.3M331.10 366.45h-8.3M42.85 336.43h8.3M331.10 336.43h-8.3M42.85 306.42h8.3M331.10 306.42h-8.3M42.85 276.40h8.3M331.10 276.40h-8.3"/>
<path stroke="#000" stroke-width="1.0" d="M54.86 456.50v-4.3M54.86 276.40v4.3M66.87 456.50v-4.3M66.87 276.40v4.3M78.88 456.50v-4.3M78.88 276.40v4.3M102.90 456.50v-4.3M102.90 276.40v4.3M114.91 456.50v-4.3M114.91 276.40v4.3M126.92 456.50v-4.3M126.92 276.40v4.3M150.94 456.50v-4.3M150.94 276.40v4.3M162.95 456.50v-4.3M162.95 276.40v4.3M174.96 456.50v-4.3M174.96 276.40v4.3M198.99 456.50v-4.3M198.99 276.40v4.3M211.00 456.50v-4.3M211.00 276.40v4.3M223.01 456.50v-4.3M223.01 276.40v4.3M247.03 456.50v-4.3M247.03 276.40v4.3M259.04 456.50v-4.3M259.04 276.40v4.3M271.05 456.50v-4.3M271.05 276.40v4.3M295.07 456.50v-4.3M295.07 276.40v4.3M307.08 456.50v-4.3M307.08 276.40v4.3M319.09 456.50v-4.3M319.09 276.40v4.3M42.85 450.50h4.3M331.10 450.50h-4.3M42.85 444.49h4.3M331.10 444.49h-4.3M42.85 438.49h4.3M331.10 438.49h-4.3M42.85 432.49h4.3M331.10 432.49h-4.3M42.85 420.48h4.3M331.10 420.48h-4.3M42.85 414.48h4.3M331.10 414.48h-4.3M42.85 408.47h4.3M331.10 408.47h-4.3M42.85 402.47h4.3M331.10 402.47h-4.3M42.85 390.46h4.3M331.10 390.46h-4.3M42.85 384.46h4.3M331.10 384.46h-4.3M42.85 378.46h4.3M331.10 378.46h-4.3M42.85 372.45h4.3M331.10 372.45h-4.3M42.85 360.45h4.3M331.10 360.45h-4.3M42.85 354.44h4.3M331.10 354.44h-4.3M42.85 348.44h4.3M331.10 348.44h-4.3M42.85 342.44h4.3M331.10 342.44h-4.3M42.85 330.43h4.3M331.10 330.43h-4.3M42.85 324.43h4.3M331.10 324.43h-4.3M42.85 318.42h4.3M331.10 318.42h-4.3M42.85 312.42h4.3M331.10 312.42h-4.3M42.85 300.41h4.3M331.10 300.41h-4.3M42.85 294.41h4.3M331.10 294.41h-4.3M42.85 288.41h4.3M331.10 288.41h-4.3M42.85 282.40h4.3M331.10 282.40h-4.3"/>
<line x1="42.85" x2="331.1" y1="366.45" y2="366.45" stroke="#dc143c" stroke-opacity="0.92" stroke-width="1.2"/>
<rect x="150.3" y="393.3" width="173.90" height="57.10" rx="2.5" fill="#fff" fill-opacity="0.8" stroke="#d6d6d6" stroke-width="0.8"/>
<line x1="154.0" x2="179.9" y1="402.8" y2="402.8" stroke="#ee82ee" stroke-width="1.9" stroke-opacity="0.8"/>
<text x="188.9" y="407.3" font-family='"Liberation Sans", sans-serif' font-size="11.2" fill="#222">M2-L1</text>
<line x1="154.0" x2="179.9" y1="421.0" y2="421.0" stroke="#800080" stroke-width="1.9" stroke-opacity="0.8"/>
<text x="188.9" y="425.5" font-family='"Liberation Sans", sans-serif' font-size="11.2" fill="#222">M2-L2</text>
<line x1="154.0" x2="179.9" y1="438.9" y2="438.9" stroke="#4682b4" stroke-width="1.9" stroke-opacity="0.8"/>
<text x="188.9" y="443.4" font-family='"Liberation Sans", sans-serif' font-size="11.2" fill="#222">M2-L3</text>
<line x1="245.0" x2="270.6" y1="402.8" y2="402.8" stroke="#ff0000" stroke-width="1.9" stroke-opacity="0.8"/>
<text x="279.6" y="407.3" font-family='"Liberation Sans", sans-serif' font-size="11.2" fill="#222">M2-RR1</text>
<line x1="245.0" x2="270.6" y1="421.0" y2="421.0" stroke="#ff7f50" stroke-width="1.9" stroke-opacity="0.8"/>
<text x="279.6" y="425.5" font-family='"Liberation Sans", sans-serif' font-size="11.2" fill="#222">M2-DF2</text>
<text x="42.85" y="471.10" text-anchor="middle" font-family='"Liberation Serif", serif' font-size="13.3" fill="#4a4a4a">0</text>
<text x="90.89" y="471.10" text-anchor="middle" font-family='"Liberation Serif", serif' font-size="13.3" fill="#4a4a4a">2</text>
<text x="138.93" y="471.10" text-anchor="middle" font-family='"Liberation Serif", serif' font-size="13.3" fill="#4a4a4a">4</text>
<text x="186.97" y="471.10" text-anchor="middle" font-family='"Liberation Serif", serif' font-size="13.3" fill="#4a4a4a">6</text>
<text x="235.02" y="471.10" text-anchor="middle" font-family='"Liberation Serif", serif' font-size="13.3" fill="#4a4a4a">8</text>
<text x="283.06" y="471.10" text-anchor="middle" font-family='"Liberation Serif", serif' font-size="13.3" fill="#4a4a4a">10</text>
<text x="331.10" y="471.10" text-anchor="middle" font-family='"Liberation Serif", serif' font-size="13.3" fill="#4a4a4a">12</text>
<text x="37.35" y="460.80" text-anchor="end" font-family='"Liberation Serif", serif' font-size="13.3" fill="#4a4a4a">−15</text>
<text x="37.35" y="430.78" text-anchor="end" font-family='"Liberation Serif", serif' font-size="13.3" fill="#4a4a4a">−10</text>
<text x="37.35" y="400.77" text-anchor="end" font-family='"Liberation Serif", serif' font-size="13.3" fill="#4a4a4a">−5</text>
<text x="37.35" y="370.75" text-anchor="end" font-family='"Liberation Serif", serif' font-size="13.3" fill="#4a4a4a">0</text>
<text x="37.35" y="340.73" text-anchor="end" font-family='"Liberation Serif", serif' font-size="13.3" fill="#4a4a4a">5</text>
<text x="37.35" y="310.72" text-anchor="end" font-family='"Liberation Serif", serif' font-size="13.3" fill="#4a4a4a">10</text>
<text x="37.35" y="280.70" text-anchor="end" font-family='"Liberation Serif", serif' font-size="13.3" fill="#4a4a4a">15</text>
<text x="186.98" y="484.10" text-anchor="middle" font-family='"Liberation Serif", serif' font-size="13.3" fill="#4a4a4a">ETT</text>
<text transform="translate(11.2 366.45) rotate(-90)" text-anchor="middle" font-family='"Liberation Serif", serif' font-size="12.8" fill="#4a4a4a"><tspan font-style="italic">C</tspan><tspan font-style="italic" font-size="9.5" dy="1.8">f</tspan><tspan dy="-1.8"> </tspan><tspan font-size="14.5">%</tspan><tspan> error</tspan></text>
<text x="165.9" y="263.6" text-anchor="middle" font-family='"Liberation Serif", serif' font-weight="bold" font-size="18" letter-spacing="0.9" fill="#000">(c)</text>
<clipPath id="clipd"><rect x="390.8" y="276.4" width="288.00" height="180.10"/></clipPath>
<g clip-path="url(#clipd)" fill="none" stroke-width="1.5" stroke-linejoin="round">
<polyline stroke="#ee82ee" points="390.8,330.9 391,331.1 391.3,331.8 391.5,335.1 391.8,334.2 392,336.4 392.2,337.3 392.5,339.8 392.7,340.8 393,346.4 393.2,344.4 393.4,348.2 393.7,355.3 393.9,357.2 394.2,362.3 394.4,371.5 394.6,370.5 394.9,375.9 395.1,377.4 395.4,380.2 395.6,381.9 395.8,382.6 396.1,383.5 396.3,388.2 396.6,386.3 396.8,389.9 397,390.6 397.3,389.6 397.5,387.5 397.8,389 398,392.5 398.2,393.2 398.5,393.5 398.7,391.6 399,390.4 399.2,392.4 399.4,390.9 399.7,391.7 399.9,388.2 400.2,396 400.4,395.5 400.6,391.3 400.9,389 401.1,390.8 401.4,389.1 401.6,392.6 401.8,392.4 402.1,390.7 402.3,386.4 402.6,386 402.8,388.5 403,385.7 403.3,387 403.5,385 403.8,386.6 404,383.5 404.2,383.5 404.5,381 404.7,381.4 405,380.5 405.2,377.5 405.4,377.6 405.7,375.9 405.9,375.5 406.2,372.5 406.4,374.1 406.6,370.2 406.9,368.1 407.1,371.3 407.4,365.8 407.6,364.9 407.8,367.1 408.1,369.9 408.3,369.5 408.6,365 408.8,359.7 409,361.5 409.3,360.4 409.5,361.9 409.8,362 410,358.8 410.2,361.1 410.5,358.2 410.7,355.7 411,355.6 411.2,353.7 411.4,355 411.7,351.8 411.9,351.2 412.2,354.7 412.4,352.6 412.6,351.3 412.9,347.9 413.1,347.9 413.4,346.8 413.6,346.8 413.8,345.2 414.1,344 414.3,346.4 414.6,348.1 414.8,343.2 415,345 415.3,344.4 415.5,345.1 415.8,346.9 416,347.4 416.2,342.6 416.5,342.3 416.7,342 417,343.5 417.2,343 417.4,344.4 417.7,343.4 417.9,344.3 418.2,344.6 418.4,343 418.6,340.1 418.9,347.2 419.1,342.7 419.4,342.5 419.6,346.1 419.8,343 420.1,343.1 420.3,344 420.6,344 420.8,345.2 421,339 421.3,338.1 421.5,338.5 421.8,341.7 422,340.7 422.2,340.1 422.5,342.4 422.7,341 423,339.3 423.2,340.9 423.4,343.4 423.7,342.3 423.9,339.6 424.2,340.3 424.4,340.1 424.6,336.8 424.9,339.3 425.1,341.5 425.4,340.9 425.6,337.6 425.8,344.1 426.1,339.5 426.3,340.5 426.6,344.2 426.8,345 427,342.3 427.3,345.1 427.5,347 427.8,343.3 428,347.2 428.2,347.4 428.5,348.3 428.7,349.3 429,348.9 429.2,349.8 429.4,348.7 429.7,347.7 429.9,348 430.2,347.6 430.4,347.2 430.6,348.1 430.9,350.5 431.1,347.7 431.4,352.6 431.6,350.9 431.8,348.9 432.1,352.7 432.3,346.4 432.6,350.5 432.8,351.3 433,350 433.3,349.6 433.5,348.2 433.8,347.8 434,345.3 434.2,347.2 434.5,345.9 434.7,347.8 435,344.9 435.2,347.1 435.4,348.9 435.7,343.1 435.9,347.4 436.2,347.2 436.4,347 436.6,344 436.9,347.9 437.1,345.3 437.4,343.6 437.6,341.1 437.8,345 438.1,344.3 438.3,346 438.6,340.7 438.8,344.4 439,344.3 439.3,343.8 439.5,346 439.8,344.4 440,346.4 440.2,341.3 440.5,344.2 440.7,344.2 441,342.1 441.2,346.5 441.4,341.8 441.7,342 441.9,346.3 442.2,343.8 442.4,344.9 442.6,343.2 442.9,344.4 443.1,346.3 443.4,343.9 443.6,345.7 443.8,345 444.1,343.7 444.3,343.4 444.6,344.8 444.8,348.6 445,345.3 445.3,347.2 445.5,344.6 445.8,347.1 446,344.5 446.2,346.2 446.5,347.4 446.7,346.6 447,350.8 447.2,347 447.4,347.9 447.7,350.2 447.9,347.7 448.2,347.8 448.4,348.3 448.6,349.3 448.9,348.3 449.1,348.4 449.4,349.9 449.6,350.4 449.8,351.7 450.1,352.5 450.3,350.4 450.6,352.4 450.8,353.9 451,351.2 451.3,349.8 451.5,352.7 451.8,350.8 452,351.4 452.2,353.9 452.5,352 452.7,353.2 453,352.1 453.2,356.9 453.4,352 453.7,352 453.9,355.4 454.2,351.9 454.4,354.1 454.6,353.9 454.9,353 455.1,352.3 455.4,354.9 455.6,353.8 455.8,354.1 456.1,355.9 456.3,351.9 456.6,353.4 456.8,354.7 457,353.2 457.3,354.2 457.5,356 457.8,353.6 458,355.3 458.2,354.1 458.5,353.6 458.7,353.9 459,352.4 459.2,355.5 459.4,356.1 459.7,357 459.9,356.7 460.2,354.5 460.4,354.7 460.6,357.1 460.9,356.8 461.1,356.5 461.4,353.1 461.6,357.2 461.8,355 462.1,358.4 462.3,356.3 462.6,353.4 462.8,358 463,354.2 463.3,359.2 463.5,356.1 463.8,358.1 464,356.6 464.2,356.9 464.5,355.1 464.7,356.3 465,356.5 465.2,357.8 465.4,356.3 465.7,358.5 465.9,358.1 466.2,358.1 466.4,356.3 466.6,354.3 466.9,357.7 467.1,354.6 467.4,359.8 467.6,359.3 467.8,357.7 468.1,357.6 468.3,357.5 468.6,356.4 468.8,359.5 469,357.5 469.3,359.1 469.5,362.9 469.8,361.1 470,360.7 470.2,359.9 470.5,359.5 470.7,360.8 471,358.1 471.2,361.7 471.4,359.9 471.7,358.3 471.9,361.8 472.2,358.1 472.4,358.5 472.6,360.7 472.9,360.2 473.1,360.7 473.4,360.5 473.6,358.4 473.8,359.5 474.1,362.5 474.3,362.9 474.6,359.2 474.8,363.9 475,363.1 475.3,361.8 475.5,360.7 475.8,358.5 476,360.6 476.2,357.7 476.5,360.5 476.7,359.5 477,359.4 477.2,361.3 477.4,359.5 477.7,360 477.9,360.6 478.2,362.3 478.4,361.8 478.6,360.1 478.9,361.4 479.1,360.7 479.4,360.6 479.6,361 479.8,361.3 480.1,360.5 480.3,360.1 480.6,359.1 480.8,360.9 481,362.9 481.3,363.2 481.5,360.9 481.8,364.7 482,362.8 482.2,360 482.5,362.1 482.7,362.6 483,359.5 483.2,364.9 483.4,361.8 483.7,362.5 483.9,362.8 484.2,360.3 484.4,358.8 484.6,359.4 484.9,360.4 485.1,360.9 485.4,361.9 485.6,361.6 485.8,364.3 486.1,362.5 486.3,360.5 486.6,361.7 486.8,360.2 487,364.1 487.3,362.6 487.5,363.3 487.8,360 488,362.2 488.2,362.4 488.5,363.8 488.7,362.7 489,363.5 489.2,363.2 489.4,359.3 489.7,364.8 489.9,363.4 490.2,364.6 490.4,360.9 490.6,364.7 490.9,364.2 491.1,361.9 491.4,360 491.6,362.7 491.8,364.3 492.1,366.7 492.3,367 492.6,363.6 492.8,363.3 493,361.4 493.3,362.7 493.5,364.2 493.8,361.5 494,360.7 494.2,364.7 494.5,361.9 494.7,361.5 495,364.9 495.2,362.7 495.4,363.7 495.7,362 495.9,362 496.2,367.3 496.4,364.2 496.6,361.1 496.9,362.7 497.1,365.2 497.4,364.2 497.6,365.3 497.8,362.6 498.1,365.4 498.3,361.2 498.6,361.7 498.8,360.2 499,361.1 499.3,361.3 499.5,361.2 499.8,361.7 500,366.1 500.2,362.1 500.5,364.3 500.7,366.3 501,360.5 501.2,362.9 501.4,365.7 501.7,362.7 501.9,362.2 502.2,362.5 502.4,360.6 502.6,364.9 502.9,361.4 503.1,364.8 503.4,362.1 503.6,361.7 503.8,363.8 504.1,359.5 504.3,365.9 504.6,365.6 504.8,363.8 505,364.7 505.3,361.5 505.5,364.4 505.8,361.3 506,364 506.2,361.8 506.5,361.7 506.7,362.9 507,362 507.2,362.5 507.4,359.2 507.7,359.7 507.9,363.6 508.2,362.1 508.4,361 508.6,362.2 508.9,359.8 509.1,359.9 509.4,366.6 509.6,363.9 509.8,360.3 510.1,361.7 510.3,363.8 510.6,363.3 510.8,362.7 511,359.9 511.3,364.3 511.5,362.5 511.8,360.1 512,360.6 512.2,362.6 512.5,362.5 512.7,365 513,364.8 513.2,363.7 513.4,361 513.7,361.2 513.9,360.5 514.2,361.4 514.4,362 514.6,363.3 514.9,364.6 515.1,361.4 515.4,364 515.6,366.9 515.8,363 516.1,363.5 516.3,360.4 516.6,363.8 516.8,362.7 517,365.3 517.3,362.1 517.5,362.3 517.8,364.3 518,362.5 518.2,365.5 518.5,362.4 518.7,364.1 519,363.1 519.2,365.6 519.4,365.3 519.7,364.5 519.9,362.8 520.2,364 520.4,367.6 520.6,362.9 520.9,364.1 521.1,362.9 521.4,361.8 521.6,362.3 521.8,364.9 522.1,364.4 522.3,362.6 522.6,362 522.8,364.4 523,364.1 523.3,364.6 523.5,362.2 523.8,364.1 524,359.6 524.2,361.6 524.5,361.4 524.7,362.6 525,364.7 525.2,367 525.4,361.1 525.7,362.7 525.9,366.2 526.2,359.7 526.4,361.6 526.6,360.3 526.9,363.6 527.1,366.3 527.4,364.8 527.6,361.9 527.8,366.8 528.1,364.5 528.3,361.5 528.6,361.8 528.8,363.1 529,366.7 529.3,363.6 529.5,360.9 529.8,361.5 530,363.7 530.2,362.5 530.5,362.3 530.7,364.1 531,364.5 531.2,364.6 531.4,364.8 531.7,363.1 531.9,363.2 532.2,362.1 532.4,362.1 532.6,363.3 532.9,366.6 533.1,362.5 533.4,364.9 533.6,360.6 533.8,363.9 534.1,359.9 534.3,362.2 534.6,360.3 534.8,363 535,362.2 535.3,363.9 535.5,364.3 535.8,364.1 536,362.3 536.2,365.4 536.5,361.7 536.7,364 537,362.5 537.2,365.1 537.4,363.4 537.7,366.5 537.9,364.7 538.2,364.3 538.4,365.7 538.6,364.7 538.9,364.3 539.1,363.7 539.4,367.2 539.6,364.4 539.8,364 540.1,365.5 540.3,365.5 540.6,360.7 540.8,362.5 541,362.5 541.3,362.1 541.5,365.6 541.8,364.7 542,367.2 542.2,364.2 542.5,367.5 542.7,365.1 543,362.9 543.2,363.3 543.4,366.1 543.7,365.9 543.9,362.3 544.2,363.9 544.4,365.7 544.6,364.7 544.9,364.6 545.1,366.2 545.4,365.5 545.6,367.9 545.8,363.9 546.1,364.4 546.3,363.1 546.6,363.1 546.8,365.4 547,362.4 547.3,365.8 547.5,362.9 547.8,365.3 548,365.1 548.2,366.3 548.5,364.5 548.7,361.4 549,364.3 549.2,363.7 549.4,365 549.7,363.7 549.9,363.5 550.2,363.6 550.4,362.1 550.6,364.5 550.9,363.7 551.1,361.8 551.4,363 551.6,365.3 551.8,361.7 552.1,362.7 552.3,365.6 552.6,365.2 552.8,364.4 553,362.2 553.3,362.6 553.5,361.6 553.8,359.7 554,360.1 554.2,362.5 554.5,364.3 554.7,361.2 555,364.9 555.2,365.2 555.4,363.8 555.7,363 555.9,363.6 556.2,362.9 556.4,366.8 556.6,363.8 556.9,362.9 557.1,362.1 557.4,362.6 557.6,363.7 557.8,359.8 558.1,361.4 558.3,361.8 558.6,362.7 558.8,362.4 559,364.6 559.3,364.8 559.5,362.5 559.8,365.6 560,362 560.2,363.7 560.5,362.1 560.7,363.2 561,365 561.2,364.9 561.4,364.6 561.7,361.3 561.9,360.9 562.2,363.2 562.4,362.7 562.6,364.6 562.9,361 563.1,362.9 563.4,364.1 563.6,365.5 563.8,362.7 564.1,360.6 564.3,363.5 564.6,365.2 564.8,364.9 565,364.5 565.3,367.2 565.5,362.2 565.8,364.5 566,366.6 566.2,367 566.5,363.4 566.7,363.8 567,361.7 567.2,362.6 567.4,365 567.7,366.9 567.9,363.4 568.2,364.9 568.4,363.6 568.6,366.3 568.9,364.1 569.1,363.9 569.4,365.6 569.6,366.3 569.8,366.5 570.1,362.7 570.3,361 570.6,363 570.8,366 571,362.5 571.3,364.9 571.5,361.5 571.8,359 572,361.3 572.2,365 572.5,359.6 572.7,360.8 573,358.2 573.2,360.3 573.4,359.7 573.7,363.7 573.9,358.1 574.2,362.5 574.4,363.4 574.6,359 574.9,358.8 575.1,357.9 575.4,358.2 575.6,359.8 575.8,360 576.1,359.3 576.3,360.1 576.6,360.2 576.8,364.4 577,361.2 577.3,362.2 577.5,360.8 577.8,363.1 578,360.2 578.2,360.5 578.5,364 578.7,362.1 579,361.1 579.2,364 579.4,365.7 579.7,363 579.9,362.3 580.2,362.6 580.4,361.1 580.6,362.5 580.9,360.4 581.1,364.2 581.4,360.6 581.6,364 581.8,363 582.1,367.1 582.3,364.9 582.6,361.7 582.8,363.6 583,363.5 583.3,365.6 583.5,362.4 583.8,365.3 584,361.2"/>
<polyline stroke="#800080" points="390.8,335.6 391,337.9 391.3,340.9 391.5,342.6 391.8,346.6 392,351 392.2,349.2 392.5,354.4 392.7,362 393,363.9 393.2,366.2 393.4,367.3 393.7,368.5 393.9,373.4 394.2,377.4 394.4,377.8 394.6,381.6 394.9,383.2 395.1,386.8 395.4,389.5 395.6,385.9 395.8,391 396.1,391.5 396.3,394.9 396.6,396.7 396.8,397.6 397,396.9 397.3,396.7 397.5,399.5 397.8,402.7 398,398.1 398.2,400.5 398.5,400.6 398.7,403.7 399,403.3 399.2,401.2 399.4,405.9 399.7,403.6 399.9,400.6 400.2,396.9 400.4,399.4 400.6,402.1 400.9,401.8 401.1,396.4 401.4,399.7 401.6,398.5 401.8,393.5 402.1,397.2 402.3,397.9 402.6,398.5 402.8,393.8 403,393.6 403.3,397.2 403.5,398.2 403.8,395.2 404,391.9 404.2,393.2 404.5,396.5 404.7,393.2 405,392.2 405.2,393.3 405.4,392.7 405.7,392.4 405.9,393.1 406.2,393 406.4,394.3 406.6,393.5 406.9,394.3 407.1,389.7 407.4,389.6 407.6,390.2 407.8,388.8 408.1,388.9 408.3,390 408.6,388 408.8,388.6 409,388.1 409.3,391.3 409.5,388.2 409.8,386.2 410,387.1 410.2,387.7 410.5,389 410.7,387 411,382.1 411.2,385.5 411.4,382.2 411.7,384.9 411.9,381.1 412.2,383.8 412.4,381.7 412.6,380.8 412.9,380.6 413.1,382.9 413.4,381.4 413.6,382.1 413.8,380 414.1,380 414.3,379.5 414.6,376.8 414.8,379.7 415,378.6 415.3,378 415.5,377.3 415.8,378.2 416,375.5 416.2,377.9 416.5,371.7 416.7,374.5 417,371.4 417.2,375.5 417.4,373.8 417.7,372.1 417.9,368 418.2,370.9 418.4,367.9 418.6,371.5 418.9,366.5 419.1,370.1 419.4,371.9 419.6,371.9 419.8,367.4 420.1,367.7 420.3,366.7 420.6,367 420.8,365.7 421,363.4 421.3,366.7 421.5,365.3 421.8,366.8 422,369.2 422.2,366.7 422.5,363.3 422.7,367.5 423,362.3 423.2,365.1 423.4,365.7 423.7,365 423.9,367.1 424.2,367.5 424.4,365.2 424.6,369.5 424.9,369.3 425.1,372.3 425.4,370.7 425.6,368.3 425.8,370.4 426.1,375 426.3,376.3 426.6,371.2 426.8,370.4 427,372.1 427.3,368 427.5,368.8 427.8,367.5 428,366.4 428.2,365.3 428.5,367.2 428.7,367.6 429,363.3 429.2,366.1 429.4,368.3 429.7,365.1 429.9,366.4 430.2,364.7 430.4,361.9 430.6,361.8 430.9,366 431.1,367.8 431.4,365.6 431.6,367.5 431.8,365.2 432.1,364.9 432.3,363.9 432.6,365.2 432.8,367.5 433,365 433.3,364.6 433.5,364.6 433.8,362.7 434,366.9 434.2,365.4 434.5,365.7 434.7,366.2 435,363.4 435.2,365.4 435.4,360.8 435.7,368.5 435.9,362.2 436.2,365.3 436.4,367 436.6,364.4 436.9,364.6 437.1,363.1 437.4,362.6 437.6,366.1 437.8,365.1 438.1,364.5 438.3,364.4 438.6,365.2 438.8,362.3 439,364.3 439.3,367.7 439.5,365.1 439.8,365.8 440,365.7 440.2,363.7 440.5,364.3 440.7,364.8 441,364.9 441.2,364.1 441.4,366.4 441.7,365.5 441.9,363.5 442.2,366.9 442.4,366.9 442.6,367.2 442.9,364.1 443.1,366.3 443.4,363.6 443.6,366.4 443.8,365.3 444.1,365.5 444.3,367.5 444.6,368.3 444.8,365 445,367.3 445.3,365.6 445.5,365.3 445.8,369.4 446,364.4 446.2,366.2 446.5,366.7 446.7,366.5 447,366.9 447.2,365.8 447.4,362.7 447.7,366.1 447.9,367.9 448.2,366.3 448.4,362.3 448.6,365.9 448.9,362.6 449.1,367.4 449.4,367.2 449.6,367.9 449.8,367.4 450.1,365.9 450.3,365.5 450.6,368.9 450.8,367.5 451,366.9 451.3,366.2 451.5,363 451.8,362.6 452,364.2 452.2,363.6 452.5,366.5 452.7,364.5 453,368.1 453.2,365.2 453.4,364.8 453.7,363.8 453.9,365.8 454.2,365.9 454.4,367.3 454.6,368.9 454.9,366.7 455.1,368.6 455.4,365.8 455.6,365.6 455.8,367.6 456.1,368.2 456.3,365.6 456.6,366.1 456.8,364.3 457,363.4 457.3,362.4 457.5,363.6 457.8,366.6 458,365.2 458.2,361.6 458.5,366.9 458.7,365.9 459,363.2 459.2,364.6 459.4,366.5 459.7,364.6 459.9,366.3 460.2,363.5 460.4,365.4 460.6,364.9 460.9,364.8 461.1,368.2 461.4,365 461.6,364.2 461.8,364.7 462.1,365.9 462.3,365.5 462.6,363.2 462.8,364.5 463,366.4 463.3,363.4 463.5,364.6 463.8,366.2 464,368.5 464.2,364.4 464.5,366.9 464.7,364.6 465,363.5 465.2,364.2 465.4,367.4 465.7,366.3 465.9,363.5 466.2,362.6 466.4,364.1 466.6,364.6 466.9,361.5 467.1,362 467.4,364.5 467.6,365.1 467.8,363.4 468.1,366.5 468.3,364.1 468.6,364.3 468.8,362.5 469,363.4 469.3,367.5 469.5,361.1 469.8,363.4 470,368 470.2,367.5 470.5,363.8 470.7,367.1 471,363.2 471.2,366.4 471.4,367.5 471.7,362.3 471.9,362 472.2,365.4 472.4,362.2 472.6,364.2 472.9,364 473.1,365.2 473.4,364.1 473.6,362.7 473.8,362.9 474.1,362.1 474.3,361.8 474.6,363.8 474.8,366.1 475,363.8 475.3,364.4 475.5,366.1 475.8,367.1 476,366.7 476.2,368.1 476.5,366.8 476.7,365.2 477,363 477.2,364.8 477.4,366.1 477.7,366.1 477.9,365.5 478.2,363.6 478.4,365.5 478.6,368.8 478.9,365.8 479.1,368.8 479.4,367 479.6,365.7 479.8,367.6 480.1,366.6 480.3,364.5 480.6,367.7 480.8,364.7 481,364.8 481.3,365.3 481.5,368.1 481.8,364.8 482,366.2 482.2,365.5 482.5,366.4 482.7,364.4 483,369 483.2,365.9 483.4,365.4 483.7,363.9 483.9,369.6 484.2,369.2 484.4,367.7 484.6,367 484.9,368.7 485.1,366.2 485.4,367.8 485.6,367.4 485.8,369.8 486.1,366.9 486.3,367.3 486.6,365 486.8,366.3 487,364.9 487.3,366.9 487.5,368.6 487.8,366.4 488,370.2 488.2,370 488.5,368.6 488.7,366.3 489,366 489.2,370.2 489.4,367.9 489.7,365.4 489.9,368 490.2,370.1 490.4,367.3 490.6,365.1 490.9,368.1 491.1,368 491.4,363.6 491.6,365.5 491.8,368.5 492.1,365.5 492.3,364.9 492.6,367.7 492.8,366.6 493,365.5 493.3,366.7 493.5,364.5 493.8,364.8 494,365.4 494.2,364.3 494.5,367.6 494.7,368.4 495,369.4 495.2,367.9 495.4,368.9 495.7,367.5 495.9,365.3 496.2,364.3 496.4,365.9 496.6,366.1 496.9,366.8 497.1,366.3 497.4,368.2 497.6,368.7 497.8,369.7 498.1,368.3 498.3,366.9 498.6,367.7 498.8,367.2 499,364.1 499.3,366.3 499.5,365.7 499.8,366.5 500,365.8 500.2,368.2 500.5,365.4 500.7,365.1 501,365 501.2,369.1 501.4,367.3 501.7,364.6 501.9,365.7 502.2,369.2 502.4,368.2 502.6,368.4 502.9,366.2 503.1,365.6 503.4,367.6 503.6,370 503.8,366.8 504.1,370.3 504.3,365.5 504.6,368.5 504.8,368.5 505,368.5 505.3,366.7 505.5,366.6 505.8,366.2 506,367.3 506.2,367.6 506.5,365.9 506.7,365.5 507,367.3 507.2,366.6 507.4,366.2 507.7,367.9 507.9,368.9 508.2,369.9 508.4,368.3 508.6,364.6 508.9,368.9 509.1,369.7 509.4,368.2 509.6,367.6 509.8,367.5 510.1,369.3 510.3,366.9 510.6,368.4 510.8,368.3 511,368.1 511.3,369.2 511.5,368.3 511.8,366.1 512,368.7 512.2,367.9 512.5,366.2 512.7,366.6 513,366.7 513.2,369 513.4,369.1 513.7,367.4 513.9,368 514.2,370.1 514.4,367.4 514.6,367 514.9,365.2 515.1,367.5 515.4,367.5 515.6,368.6 515.8,367 516.1,367.4 516.3,363.8 516.6,368.1 516.8,364.7 517,367.4 517.3,369 517.5,366.3 517.8,366.1 518,364.3 518.2,365.7 518.5,366.9 518.7,367.9 519,368.7 519.2,367.8 519.4,367.5 519.7,369.3 519.9,369.5 520.2,367.3 520.4,369.5 520.6,368.1 520.9,368.5 521.1,369.2 521.4,365.7 521.6,366.2 521.8,368 522.1,370.1 522.3,367.8 522.6,368.7 522.8,368.4 523,368.5 523.3,369.3 523.5,365.1 523.8,367.3 524,368.5 524.2,367.7 524.5,369.2 524.7,369.9 525,370.8 525.2,368.6 525.4,367.2 525.7,366.9 525.9,368.8 526.2,368.8 526.4,372.4 526.6,372.8 526.9,370.5 527.1,368.8 527.4,368.4 527.6,370.9 527.8,373.1 528.1,371.5 528.3,371.5 528.6,373 528.8,372.2 529,370.5 529.3,373 529.5,372.4 529.8,369.2 530,371.6 530.2,371.4 530.5,373.2 530.7,371 531,375 531.2,370.5 531.4,372.6 531.7,373.9 531.9,373.5 532.2,372.3 532.4,375.7 532.6,373.2 532.9,373 533.1,375.6 533.4,372.9 533.6,371.6 533.8,375.8 534.1,374.3 534.3,371.8 534.6,369.1 534.8,373.6 535,372 535.3,373.4 535.5,372.1 535.8,371.3 536,372.7 536.2,370.3 536.5,368.3 536.7,368.6 537,371.3 537.2,370.7 537.4,373.4 537.7,371.5 537.9,372 538.2,372.7 538.4,374.4 538.6,368.8 538.9,370.8 539.1,373.7 539.4,370.3 539.6,370 539.8,373.4 540.1,369.1 540.3,374.5 540.6,369.9 540.8,373.1 541,370.7 541.3,374.3 541.5,370.9 541.8,369.5 542,369.2 542.2,371.4 542.5,371.2 542.7,372.8 543,372.5 543.2,371.7 543.4,373.7 543.7,370.9 543.9,372.2 544.2,370.9 544.4,370.4 544.6,371.9 544.9,373.3 545.1,370.9 545.4,373.1 545.6,372.2 545.8,371.8 546.1,373.6 546.3,370.7 546.6,373.9 546.8,372.1 547,370.5 547.3,370.8 547.5,370.6 547.8,368.3 548,371 548.2,370.4 548.5,369.4 548.7,374 549,371.7 549.2,369.6 549.4,370.1 549.7,372 549.9,369.8 550.2,369.5 550.4,370.8 550.6,369.2 550.9,373.3 551.1,370.1 551.4,371.7 551.6,371.9 551.8,374.7 552.1,368.3 552.3,375.1 552.6,371.1 552.8,371.5 553,368.4 553.3,372.6 553.5,371.6 553.8,371.1 554,370.1 554.2,369.5 554.5,370.3 554.7,375.1 555,372.9 555.2,370.8 555.4,370.8 555.7,370.1 555.9,373.1 556.2,372.7 556.4,372 556.6,370.5 556.9,370 557.1,372.2 557.4,370 557.6,371.8 557.8,370.9 558.1,374 558.3,373.9 558.6,370 558.8,373.2 559,369.8 559.3,370.7 559.5,374.8 559.8,373.1 560,373 560.2,373.8 560.5,376.5 560.7,372.8 561,373.8 561.2,375.9 561.4,374 561.7,373.7 561.9,369.6 562.2,372.1 562.4,374.2 562.6,372.9 562.9,375.5 563.1,371.1 563.4,372.1 563.6,369.9 563.8,372.2 564.1,369.7 564.3,369.5 564.6,373.9 564.8,372.4 565,371.8 565.3,372.1 565.5,373.1 565.8,371.8 566,371.5 566.2,370 566.5,371.5"/>
<polyline stroke="#4682b4" points="390.8,360.3 391,363.9 391.3,367.5 391.5,372.4 391.8,379 392,384.9 392.2,393.1 392.5,400.6 392.7,407.6 393,415.7 393.2,423.8 393.4,431.1 393.7,437.5 393.9,445.3 394.2,450.4 394.4,456.2 394.6,462.7 394.9,466.7 395.1,468.2 395.4,468.7 395.6,468 395.8,466.6 396.1,466.3 396.3,462 396.6,456.2 396.8,453.7 397,451.6 397.3,448.2 397.5,444.8 397.8,444 398,440.7 398.2,438.7 398.5,437.2 398.7,435 399,433.8 399.2,431 399.4,429.2 399.7,428.9 399.9,426.9 400.2,424.9 400.4,423.7 400.6,421.5 400.9,420.5 401.1,417.9 401.4,416.5 401.6,414.4 401.8,412.2 402.1,409.9 402.3,408.8 402.6,405.7 402.8,403.5 403,401.7 403.3,398.8 403.5,397.8 403.8,395.5 404,392.9 404.2,391.3 404.5,388.2 404.7,386.8 405,384.1 405.2,383.6 405.4,381.7 405.7,378.6 405.9,378.2 406.2,375.4 406.4,375 406.6,372.7 406.9,370.5 407.1,369.7 407.4,368.9 407.6,366.8 407.8,363.9 408.1,363.2 408.3,361.5 408.6,360.8 408.8,359.5 409,358.8 409.3,358.8 409.5,356.6 409.8,356.7 410,358.9 410.2,356.8 410.5,355.8 410.7,354.4 411,358.4 411.2,356.4 411.4,355.6 411.7,355.6 411.9,357.5 412.2,356 412.4,357.1 412.6,356.6 412.9,357.4 413.1,356.2 413.4,357.2 413.6,356.4 413.8,357.4 414.1,355.8 414.3,354.9 414.6,357.8 414.8,358.9 415,358.1 415.3,358.4 415.5,359.9 415.8,356.8 416,357.9 416.2,355.7 416.5,357.5 416.7,355.6 417,355.8 417.2,357.8 417.4,357.9 417.7,358 417.9,358.1 418.2,356.3 418.4,358.9 418.6,358.8 418.9,359.5 419.1,355.8 419.4,358.8 419.6,358.6 419.8,359.9 420.1,357.9 420.3,359.5 420.6,359.7 420.8,361.8 421,361.1 421.3,358.1 421.5,356.8 421.8,361.1 422,358 422.2,357.8 422.5,355.2 422.7,360.6 423,359.9 423.2,360.4 423.4,357.2 423.7,356.6 423.9,358.8 424.2,355.7 424.4,354.7 424.6,358.9 424.9,357.1 425.1,358.3 425.4,358.8 425.6,358.5 425.8,358.2 426.1,360.3 426.3,358.1 426.6,356.4 426.8,359.6 427,358.8 427.3,359.5 427.5,357.4 427.8,358.2 428,356.3 428.2,358.5 428.5,360.4 428.7,357.1 429,358.6 429.2,356.4 429.4,357.1 429.7,361.7 429.9,361.5 430.2,358.5 430.4,360.1 430.6,362.1 430.9,359.8 431.1,357 431.4,358 431.6,360.8 431.8,358.8 432.1,357.5 432.3,359.9 432.6,356.2 432.8,360.4 433,355.6 433.3,356.3 433.5,358.4 433.8,359.2 434,359.4 434.2,361.3 434.5,358.1 434.7,357.3 435,357.9 435.2,358.8 435.4,359.1 435.7,361.3 435.9,360.6 436.2,362 436.4,358.2 436.6,360.9 436.9,357.8 437.1,360.4 437.4,356.2 437.6,355.7 437.8,355.7 438.1,356.2 438.3,358.7 438.6,358.6 438.8,359.3 439,357.4 439.3,355 439.5,359.9 439.8,354.5 440,359.3 440.2,360.5 440.5,357.6 440.7,356.1 441,358.7 441.2,360.2 441.4,355 441.7,360.1 441.9,356.9 442.2,358.8 442.4,360 442.6,359.5 442.9,361.5 443.1,361.6 443.4,358.8 443.6,361.3 443.8,360.7 444.1,356.5 444.3,356.2 444.6,357.6 444.8,358.3 445,360.8 445.3,360.2 445.5,361.8 445.8,364.2 446,360.4 446.2,360.2 446.5,358.6 446.7,362.6 447,358.5 447.2,361.7 447.4,362.6 447.7,360.6 447.9,358.4 448.2,359.9 448.4,359.1 448.6,361.9 448.9,359.3 449.1,358 449.4,361.1 449.6,358.5 449.8,361.8 450.1,358.7 450.3,361.9 450.6,358.6 450.8,359.3 451,361.6 451.3,359.1 451.5,361.3 451.8,359.7 452,361.4 452.2,358.6 452.5,360.9 452.7,357.2 453,359 453.2,358.5 453.4,362.3 453.7,363.6 453.9,361.4 454.2,356.4 454.4,361.6 454.6,357.6 454.9,357.9 455.1,361.5 455.4,360.6 455.6,357.6 455.8,360.2 456.1,360.7 456.3,360.9 456.6,360 456.8,360.3 457,357.6 457.3,359.9 457.5,358 457.8,360.5 458,356.5 458.2,360.5 458.5,360.6 458.7,361.8 459,363.2 459.2,361.8 459.4,359.6 459.7,361.7 459.9,358.4 460.2,363 460.4,363.4 460.6,359.6 460.9,359.4 461.1,362.5 461.4,358.3 461.6,357.8 461.8,359.7 462.1,363 462.3,357.9 462.6,361.3 462.8,361.1 463,360.2 463.3,362.4 463.5,358.5 463.8,362.4 464,359.4 464.2,359.8 464.5,358 464.7,360.3 465,359.7 465.2,362.1 465.4,362 465.7,362.6 465.9,360 466.2,362.4 466.4,358.1 466.6,361.1 466.9,363.1 467.1,361.7 467.4,358.4 467.6,361.6 467.8,359.3 468.1,363.7 468.3,360 468.6,359.3 468.8,359.3 469,358.7 469.3,362 469.5,363.3 469.8,362.4 470,358.1 470.2,358.5 470.5,357.7 470.7,360.4 471,358.1 471.2,362.4 471.4,358.7 471.7,361.2 471.9,360.4 472.2,358.4 472.4,358.2 472.6,359.8 472.9,360.1 473.1,356.9 473.4,357.6 473.6,360.8 473.8,359 474.1,360.2 474.3,358.2 474.6,359.3 474.8,359 475,360 475.3,361 475.5,357.5 475.8,359 476,364.4 476.2,360.9 476.5,359.8 476.7,361.8 477,362.2 477.2,361.7 477.4,360.3 477.7,362.9 477.9,360.2 478.2,358.2 478.4,358.9 478.6,359.2 478.9,361.1 479.1,358.2 479.4,360 479.6,358.4 479.8,362.4 480.1,358.1 480.3,361.6 480.6,360.6 480.8,358.8 481,361.2 481.3,362.1 481.5,361.4 481.8,358.8 482,359.4 482.2,360.2 482.5,362.7 482.7,362.2 483,360.1 483.2,359.7 483.4,362.9 483.7,362.9 483.9,360.2 484.2,359.7 484.4,361.7 484.6,364 484.9,358.2 485.1,361.2 485.4,360 485.6,365 485.8,362.2 486.1,361.7 486.3,360.9 486.6,363.3 486.8,364.3 487,364.7 487.3,361.9 487.5,360.6 487.8,360.8 488,364.4 488.2,362.3 488.5,361.2 488.7,359.2 489,360.2 489.2,360.3 489.4,363.9 489.7,359.1 489.9,361.4 490.2,360.7 490.4,362.5 490.6,361.9 490.9,361.6 491.1,361.8 491.4,362.7 491.6,359.9 491.8,359.4 492.1,362.4 492.3,362.9 492.6,363.1 492.8,362.1 493,358.7 493.3,361.7 493.5,357.9 493.8,364 494,363.9 494.2,363 494.5,363.5 494.7,361.3 495,358.8 495.2,363.8 495.4,362 495.7,360.2 495.9,358.9 496.2,362.2 496.4,361.1 496.6,360.4 496.9,362.6 497.1,362.1 497.4,364 497.6,364.6 497.8,364 498.1,361 498.3,360.7 498.6,362.9 498.8,365.8 499,361.3 499.3,363.5 499.5,360.7 499.8,363.4 500,365.9 500.2,364.2 500.5,364.6 500.7,360.4 501,367.4 501.2,364.8 501.4,364.4 501.7,368 501.9,363.1 502.2,362.8 502.4,362.1 502.6,362.1 502.9,363.5 503.1,361.3 503.4,364 503.6,363 503.8,362.8 504.1,362.5 504.3,361.6 504.6,363.7 504.8,363.1 505,363.9 505.3,362.7 505.5,361.9 505.8,363.5 506,359.4 506.2,358.5 506.5,361.1 506.7,361.9 507,363.1 507.2,362.2 507.4,362.7 507.7,361.4 507.9,362.7 508.2,361.5 508.4,361.8 508.6,363.6 508.9,364.8 509.1,364.8 509.4,364.5 509.6,362.7 509.8,360.1 510.1,364.3 510.3,361.4 510.6,363.1 510.8,360.6 511,358.9 511.3,360.8 511.5,362 511.8,361.8 512,360.3 512.2,363.1 512.5,364.3 512.7,362.6 513,359.9 513.2,363.9 513.4,360.5 513.7,361 513.9,363.4 514.2,364.3 514.4,366.1 514.6,365 514.9,362.1 515.1,361.3 515.4,363.7 515.6,363.6 515.8,363.9 516.1,359 516.3,365.3 516.6,365.6 516.8,360.7 517,364.9 517.3,360.8 517.5,364.1 517.8,360.7 518,359.8 518.2,363.3 518.5,362.6 518.7,364.3 519,360.8 519.2,363.1 519.4,364.3 519.7,361.6 519.9,361.4 520.2,362.3 520.4,363.4 520.6,360.5 520.9,363.6 521.1,363.9 521.4,362.9 521.6,361.2 521.8,363 522.1,363.6 522.3,363.8 522.6,363.2 522.8,362.6 523,357.6 523.3,364.7 523.5,362 523.8,360.9 524,362.7 524.2,363.3 524.5,360 524.7,358.9 525,359.3 525.2,361.5 525.4,362.6 525.7,360.5 525.9,365.2 526.2,363.8 526.4,359.3 526.6,361.3 526.9,361.6 527.1,362.6 527.4,363.2 527.6,363.9 527.8,361.3 528.1,361.3 528.3,361.1 528.6,366 528.8,359.7 529,360.7 529.3,359.5 529.5,363.7 529.8,366.6 530,365.5 530.2,365 530.5,359.5 530.7,364.9 531,364.4 531.2,361.5 531.4,361.3 531.7,361.4 531.9,363.6 532.2,358.8 532.4,361.8 532.6,364.5 532.9,362.1 533.1,365.5 533.4,365.1 533.6,364.1 533.8,365 534.1,363.9 534.3,364.6 534.6,364.1 534.8,364.8 535,360.8 535.3,364.7 535.5,364.4 535.8,365.4 536,364.8 536.2,366 536.5,359.5 536.7,364 537,361.8 537.2,363.7 537.4,365.4 537.7,363.6 537.9,364.2 538.2,365.3 538.4,363.1 538.6,360.7 538.9,363.1 539.1,361.6 539.4,361.6 539.6,367.4 539.8,359.6 540.1,365.7 540.3,359.9 540.6,362.8 540.8,362 541,359.7 541.3,361.4 541.5,366 541.8,366.3 542,365 542.2,360.8 542.5,362.5 542.7,361.1 543,361.7 543.2,360.2 543.4,364.3 543.7,365.8 543.9,363.7 544.2,360.9 544.4,364.5 544.6,366.4 544.9,364 545.1,361.5 545.4,361.8 545.6,362.9 545.8,363.1 546.1,366 546.3,362.8 546.6,358.9 546.8,363.6 547,359.8 547.3,365.5 547.5,363.4 547.8,363.4 548,362.9 548.2,366 548.5,360.1 548.7,363 549,366.2 549.2,361.4 549.4,362.7 549.7,365.3 549.9,362.9 550.2,361.1 550.4,361.3 550.6,362.3 550.9,364.2 551.1,362.3 551.4,360.5 551.6,359.4 551.8,362.1 552.1,361.5 552.3,360.9 552.6,363.2 552.8,366.4 553,364.1 553.3,363.6 553.5,362.5 553.8,363.1 554,364.8 554.2,364.4 554.5,363.7 554.7,365.2 555,365.5 555.2,367.2 555.4,364.7 555.7,363.9 555.9,365.4 556.2,364.3 556.4,364 556.6,366.3 556.9,365.8 557.1,366.4 557.4,364 557.6,367 557.8,364.6 558.1,367.8 558.3,361.6 558.6,363.9 558.8,366.1 559,364.4 559.3,360.5 559.5,363.9 559.8,367 560,364.1 560.2,364.8 560.5,363 560.7,363.7 561,367 561.2,363.5 561.4,361.9 561.7,361 561.9,363.1 562.2,360.1 562.4,360.7 562.6,362.1 562.9,360.5 563.1,367.4 563.4,361.1 563.6,360.6 563.8,363.5 564.1,361.4 564.3,364 564.6,363 564.8,362.8 565,364.3 565.3,362.5 565.5,365.6 565.8,362.3 566,358.9 566.2,358.5 566.5,362.7 566.7,359.3 567,361.8 567.2,364.9 567.4,363.8 567.7,362.4 567.9,362.3 568.2,360.9 568.4,363.2 568.6,362.7 568.9,359.9 569.1,361.6 569.4,360.8 569.6,361.7 569.8,360.1 570.1,360.1"/>
<polyline stroke="#ff0000" points="390.8,360.3 391,364.1 391.3,366.6 391.5,372 391.8,377.8 392,385.3 392.2,393 392.5,400.8 392.7,408.4 393,416.1 393.2,423 393.4,430.5 393.7,438 393.9,445 394.2,451 394.4,456.9 394.6,462.2 394.9,467 395.1,468.3 395.4,468.9 395.6,467.5 395.8,466.9 396.1,465.9 396.3,461 396.6,456.7 396.8,453.4 397,450.5 397.3,448.2 397.5,446.2 397.8,443.5 398,441 398.2,439.7 398.5,437.3 398.7,435.7 399,434 399.2,432.4 399.4,430.9 399.7,428.8 399.9,426.8 400.2,426.2 400.4,423.8 400.6,422 400.9,420.6 401.1,418.3 401.4,417.2 401.6,414.5 401.8,412.3 402.1,410.6 402.3,409 402.6,405.6 402.8,404.4 403,401.8 403.3,400.3 403.5,398 403.8,395.2 404,393.9 404.2,390.9 404.5,388.2 404.7,387.6 405,385.1 405.2,382.8 405.4,381.5 405.7,378.9 405.9,377.8 406.2,377.7 406.4,376.7 406.6,373.9 406.9,371.2 407.1,371.8 407.4,367.8 407.6,370 407.8,365.3 408.1,365 408.3,363.6 408.6,362.7 408.8,362.2 409,360.7 409.3,361.6 409.5,357 409.8,360.9 410,357 410.2,360.6 410.5,361.1 410.7,356.7 411,357.2 411.2,358 411.4,354.2 411.7,359.4 411.9,355.7 412.2,357 412.4,353.5 412.6,360.1 412.9,358.9 413.1,358.9 413.4,359.7 413.6,360.9 413.8,357.6 414.1,357.9 414.3,359.4 414.6,358.1 414.8,361.6 415,354.8 415.3,357 415.5,357.7 415.8,356.5 416,359 416.2,359.4 416.5,359.4 416.7,360 417,359.5 417.2,356.5 417.4,359.8 417.7,356.1 417.9,358.4 418.2,355 418.4,360.3 418.6,361 418.9,361.2 419.1,364.1 419.4,358.2 419.6,359.2 419.8,359.7 420.1,359.8 420.3,358.2 420.6,362.2 420.8,359.7 421,359.7 421.3,358.3 421.5,357 421.8,359.7 422,362.5 422.2,360.1 422.5,361.6 422.7,361.1 423,363.7 423.2,362.1 423.4,361.9 423.7,363.2 423.9,362.1 424.2,360.6 424.4,365.7 424.6,368.9 424.9,368.4 425.1,366 425.4,369.1 425.6,367 425.8,368.1 426.1,365.8 426.3,368.3 426.6,363.1 426.8,363.5 427,361.3 427.3,358 427.5,364.3 427.8,355.8 428,354.2 428.2,359.4 428.5,360.8 428.7,359.9 429,357.6 429.2,359.1 429.4,361.2 429.7,361 429.9,362.3 430.2,360.4 430.4,361.2 430.6,362.8 430.9,358.6 431.1,360.4 431.4,358.7 431.6,364.3 431.8,357.9 432.1,356.7 432.3,361.4 432.6,363.3 432.8,364.5 433,358.4 433.3,360.1 433.5,358.5 433.8,359.8 434,363.5 434.2,361 434.5,360 434.7,361.8 435,359.3 435.2,361.4 435.4,357.2 435.7,363 435.9,357.7 436.2,358.6 436.4,356.4 436.6,355.7 436.9,357.7 437.1,358.7 437.4,360.6 437.6,356.7 437.8,359 438.1,357.8 438.3,358.4 438.6,358 438.8,359.9 439,354.2 439.3,358.3 439.5,359.3 439.8,359.3 440,358 440.2,359.8 440.5,357.4 440.7,359.3 441,358.9 441.2,356.9 441.4,358.2 441.7,358.3 441.9,357.9 442.2,355.9 442.4,359.3 442.6,356.4 442.9,357.6 443.1,358 443.4,362.3 443.6,359.4 443.8,363 444.1,360.9 444.3,360.1 444.6,360.2 444.8,362.1 445,357.1 445.3,360 445.5,356.5 445.8,359.5 446,363.4 446.2,355.8 446.5,356.7 446.7,355.3 447,360 447.2,363.3 447.4,358.3 447.7,361 447.9,360.4 448.2,360.9 448.4,361 448.6,356.1 448.9,360.7 449.1,362.7 449.4,354.7 449.6,360.4 449.8,361.3 450.1,356.8 450.3,358.4 450.6,362.6 450.8,356.4 451,356.2 451.3,357.2 451.5,362.1 451.8,358.4 452,363 452.2,357.8 452.5,357.4 452.7,356.7 453,360.2 453.2,355.3 453.4,358.6 453.7,359.3 453.9,359.8 454.2,357.2 454.4,356.9 454.6,359 454.9,360.6 455.1,356.1 455.4,358.3 455.6,357.4 455.8,358 456.1,359.1 456.3,361.1 456.6,360.8 456.8,360.3 457,363.8 457.3,360.6 457.5,357.2 457.8,358.9 458,362.4 458.2,358.3 458.5,360.2 458.7,357 459,359.9 459.2,361.2 459.4,359.2 459.7,359.8 459.9,357.8 460.2,360.9 460.4,356.7 460.6,360.5 460.9,362.9 461.1,361.8 461.4,361.3 461.6,358.3 461.8,359.2 462.1,360.2 462.3,357.8 462.6,359 462.8,357.4 463,360.2 463.3,355.9 463.5,363.6 463.8,362.2 464,359.2 464.2,357.7 464.5,356.3 464.7,359.3 465,359.7 465.2,358.9 465.4,359.2 465.7,360 465.9,362.7 466.2,361.6 466.4,359.9 466.6,363.3 466.9,360 467.1,357.7 467.4,360.7 467.6,362.2 467.8,363.3 468.1,361.6 468.3,359.3 468.6,357.6 468.8,359.3 469,358 469.3,357.9 469.5,359.6 469.8,360.7 470,355.6 470.2,357.6 470.5,356 470.7,360.6 471,360.1 471.2,358.8 471.4,360.1 471.7,361.8 471.9,360.8 472.2,362.2 472.4,359.8 472.6,363.9 472.9,357.7 473.1,357.5 473.4,363.4 473.6,360 473.8,358.9 474.1,361.8 474.3,359 474.6,358.2 474.8,360.3 475,357 475.3,358.4 475.5,361.7 475.8,361 476,356 476.2,355.5 476.5,358.2 476.7,355.5 477,361.9 477.2,355 477.4,354.7 477.7,359.8 477.9,359.2 478.2,361.7 478.4,354.1 478.6,359.1 478.9,359.7 479.1,360.5 479.4,360 479.6,360.2 479.8,356.4 480.1,357.5 480.3,360.7 480.6,358.8 480.8,360.8 481,358.5 481.3,363.5 481.5,354.4 481.8,357.9 482,360.9 482.2,356.4 482.5,358.8 482.7,359.9 483,354.9 483.2,358.5"/>
<polyline stroke="#00ced1" points="390.8,126.6 391,209.6 391.3,276.1 391.5,324.1 391.8,366.1 392,413.5 392.2,456.8 392.5,496 392.7,534.8 393,564.6 393.2,576.7 393.4,576.9 393.7,575.7 393.9,575.7 394.2,574.9 394.4,574.4 394.6,573.5 394.9,572 395.1,570.7 395.4,569.7 395.6,568 395.8,566.3 396.1,564.6 396.3,562.6 396.6,560.4 396.8,558.7 397,555.6 397.3,554.2 397.5,551.6 397.8,548.7 398,546.8 398.2,543.6 398.5,539.3 398.7,533.9 399,528.7 399.2,521.6 399.4,515.2 399.7,507.2 399.9,499.9 400.2,492.6 400.4,485.5 400.6,478 400.9,471.5 401.1,465.5 401.4,461 401.6,456.4 401.8,452.7 402.1,449.2 402.3,446.3 402.6,443.1 402.8,439.4 403,436.7 403.3,433.6 403.5,431.1 403.8,428.1 404,425.8 404.2,423.4 404.5,421 404.7,418.3 405,416.7 405.2,414.7 405.4,412.5 405.7,410.3 405.9,408.4 406.2,406.7 406.4,405.1 406.6,404 406.9,402.5 407.1,400.6 407.4,399.7 407.6,398.2 407.8,397.3 408.1,395.8 408.3,395 408.6,393.7 408.8,392.6 409,391.6 409.3,390.3 409.5,389.3 409.8,388.3 410,387.5 410.2,386.9 410.5,385.8 410.7,385.2 411,384.6 411.2,381.9 411.4,383.4 411.7,380.7 411.9,381 412.2,382 412.4,376.2 412.6,378.6 412.9,378.7 413.1,372.6 413.4,375.9 413.6,374 413.8,370 414.1,373.9 414.3,373.1 414.6,368.3 414.8,368.1 415,370 415.3,370.9 415.5,370.1 415.8,364.3 416,361.7 416.2,360.8 416.5,362.3 416.7,362.1 417,367.7 417.2,363.1 417.4,364.5 417.7,359.9 417.9,363.6 418.2,362.9 418.4,362.6 418.6,362.1 418.9,361.7 419.1,358.6 419.4,359.5 419.6,362.2 419.8,365.4 420.1,359.6 420.3,361.8 420.6,363.6 420.8,365.6 421,367 421.3,362.2 421.5,362 421.8,364.6 422,364.7 422.2,360.9 422.5,364.4 422.7,366.8 423,369 423.2,366.2 423.4,367.8 423.7,373.5 423.9,377.4 424.2,371.6 424.4,372.6 424.6,372.7 424.9,374.6 425.1,381.7 425.4,375.1 425.6,379 425.8,374.7 426.1,376.8 426.3,378.1 426.6,379.3 426.8,376.4 427,372.7 427.3,372.9 427.5,368.3 427.8,370.6 428,368.5 428.2,370.6 428.5,370.1 428.7,369.4 429,369.6 429.2,364 429.4,361.9 429.7,366.9 429.9,365.8 430.2,361.3 430.4,362.9 430.6,362.3 430.9,367 431.1,359.4 431.4,363.3 431.6,363.3 431.8,364.6 432.1,363.9 432.3,364.1 432.6,364.7 432.8,363.8 433,362.3 433.3,365.8 433.5,364 433.8,361.5 434,362.1 434.2,358.6 434.5,365.8 434.7,362.2 435,364.5 435.2,364.4 435.4,364.2 435.7,364.2 435.9,362.1 436.2,363.5 436.4,362 436.6,360.4 436.9,362.4 437.1,365.3 437.4,362.1 437.6,370.5 437.8,362.1 438.1,360.9 438.3,365.5 438.6,365 438.8,366.6 439,368.8 439.3,364.8 439.5,365.1 439.8,366.8 440,362.6 440.2,368 440.5,363.3 440.7,364.3 441,364.7 441.2,364.9 441.4,365 441.7,368.9 441.9,370.2 442.2,365.1 442.4,361 442.6,364.2 442.9,364 443.1,364.4 443.4,364.2 443.6,364.6 443.8,363.4 444.1,370.3 444.3,364.7 444.6,368.8 444.8,362.4 445,368.7 445.3,366.4 445.5,362.6 445.8,364.9 446,362.8 446.2,367 446.5,359.6 446.7,364.7 447,367.9 447.2,362.3 447.4,366.5 447.7,364.5 447.9,364.4 448.2,363.9 448.4,364.9 448.6,360.9 448.9,362.6 449.1,367.7 449.4,364 449.6,366.9 449.8,366.5 450.1,366.9 450.3,368.5 450.6,364.2 450.8,367.6 451,365.3 451.3,362.9 451.5,369.2 451.8,367.3 452,366.2 452.2,367.9 452.5,367.9 452.7,369.2 453,372.3 453.2,367.2 453.4,362.4 453.7,369.8 453.9,366.4 454.2,367.1 454.4,369.3 454.6,368.2 454.9,365.5 455.1,368.2 455.4,368.1 455.6,365.6 455.8,368.2 456.1,369.6 456.3,367.6 456.6,367.9 456.8,366.5 457,361.9 457.3,369.1 457.5,369.2 457.8,364.7 458,363.6 458.2,367.9 458.5,366.6 458.7,368.4 459,363.8 459.2,366.6 459.4,365.2 459.7,368.3 459.9,365.8 460.2,366.7 460.4,365.6 460.6,365.4 460.9,371.2 461.1,369.5 461.4,361.1 461.6,365.9 461.8,364.1 462.1,366.2 462.3,366.3 462.6,364.2 462.8,366.9 463,366.2 463.3,365.1 463.5,368.8 463.8,363.7 464,368.4 464.2,370.8 464.5,369.1 464.7,365.9 465,360.6 465.2,366.7 465.4,366 465.7,367.4 465.9,363.4 466.2,363 466.4,362.4 466.6,363.6 466.9,367.6 467.1,364.1 467.4,366.2 467.6,363.7 467.8,365 468.1,364.6 468.3,362.4 468.6,363.7 468.8,361.6 469,361.2 469.3,365.7 469.5,361 469.8,357.6 470,360.1 470.2,364.8 470.5,360.2 470.7,360.2 471,363.2 471.2,365.5 471.4,366.4 471.7,364.3 471.9,365.5 472.2,366.1 472.4,363.8 472.6,361.8 472.9,364.3 473.1,366.7 473.4,364.6 473.6,368.9 473.8,369.5 474.1,366 474.3,365.3 474.6,364.6 474.8,369.1 475,365.1 475.3,369.9 475.5,365.8 475.8,370.4 476,365.5 476.2,365.8 476.5,367.6 476.7,364.7 477,364 477.2,363.5 477.4,364.4 477.7,362.9 477.9,368.9 478.2,362.1 478.4,364.8 478.6,367.9 478.9,365.1 479.1,367.4 479.4,363.8 479.6,364.4 479.8,364.5 480.1,368.7 480.3,365.7 480.6,361.1 480.8,362.2 481,365.8 481.3,367.7 481.5,365.4 481.8,362.6 482,363.7 482.2,361.6 482.5,363.3 482.7,368 483,364.1 483.2,368.6 483.4,364.5 483.7,363.2 483.9,362.5 484.2,362.6 484.4,362.4 484.6,363.3 484.9,363.2 485.1,367.7 485.4,363.4 485.6,364.5"/>
<line x1="390.8" x2="678.8" y1="354.44" y2="354.44" stroke="#000" stroke-width="1.25" stroke-dasharray="4.1 1.81"/>
<line x1="390.8" x2="678.8" y1="378.46" y2="378.46" stroke="#000" stroke-width="1.25" stroke-dasharray="4.1 1.81"/>
</g>
<rect x="390.8" y="276.4" width="288.00" height="180.10" fill="none" stroke="#000" stroke-width="0.8"/>
<path stroke="#000" stroke-width="1.5" d="M390.80 456.50v-8.3M390.80 276.40v8.3M438.80 456.50v-8.3M438.80 276.40v8.3M486.80 456.50v-8.3M486.80 276.40v8.3M534.80 456.50v-8.3M534.80 276.40v8.3M582.80 456.50v-8.3M582.80 276.40v8.3M630.80 456.50v-8.3M630.80 276.40v8.3M678.80 456.50v-8.3M678.80 276.40v8.3M390.80 456.50h8.3M678.80 456.50h-8.3M390.80 426.48h8.3M678.80 426.48h-8.3M390.80 396.47h8.3M678.80 396.47h-8.3M390.80 366.45h8.3M678.80 366.45h-8.3M390.80 336.43h8.3M678.80 336.43h-8.3M390.80 306.42h8.3M678.80 306.42h-8.3M390.80 276.40h8.3M678.80 276.40h-8.3"/>
<path stroke="#000" stroke-width="1.0" d="M402.80 456.50v-4.3M402.80 276.40v4.3M414.80 456.50v-4.3M414.80 276.40v4.3M426.80 456.50v-4.3M426.80 276.40v4.3M450.80 456.50v-4.3M450.80 276.40v4.3M462.80 456.50v-4.3M462.80 276.40v4.3M474.80 456.50v-4.3M474.80 276.40v4.3M498.80 456.50v-4.3M498.80 276.40v4.3M510.80 456.50v-4.3M510.80 276.40v4.3M522.80 456.50v-4.3M522.80 276.40v4.3M546.80 456.50v-4.3M546.80 276.40v4.3M558.80 456.50v-4.3M558.80 276.40v4.3M570.80 456.50v-4.3M570.80 276.40v4.3M594.80 456.50v-4.3M594.80 276.40v4.3M606.80 456.50v-4.3M606.80 276.40v4.3M618.80 456.50v-4.3M618.80 276.40v4.3M642.80 456.50v-4.3M642.80 276.40v4.3M654.80 456.50v-4.3M654.80 276.40v4.3M666.80 456.50v-4.3M666.80 276.40v4.3M390.80 450.50h4.3M678.80 450.50h-4.3M390.80 444.49h4.3M678.80 444.49h-4.3M390.80 438.49h4.3M678.80 438.49h-4.3M390.80 432.49h4.3M678.80 432.49h-4.3M390.80 420.48h4.3M678.80 420.48h-4.3M390.80 414.48h4.3M678.80 414.48h-4.3M390.80 408.47h4.3M678.80 408.47h-4.3M390.80 402.47h4.3M678.80 402.47h-4.3M390.80 390.46h4.3M678.80 390.46h-4.3M390.80 384.46h4.3M678.80 384.46h-4.3M390.80 378.46h4.3M678.80 378.46h-4.3M390.80 372.45h4.3M678.80 372.45h-4.3M390.80 360.45h4.3M678.80 360.45h-4.3M390.80 354.44h4.3M678.80 354.44h-4.3M390.80 348.44h4.3M678.80 348.44h-4.3M390.80 342.44h4.3M678.80 342.44h-4.3M390.80 330.43h4.3M678.80 330.43h-4.3M390.80 324.43h4.3M678.80 324.43h-4.3M390.80 318.42h4.3M678.80 318.42h-4.3M390.80 312.42h4.3M678.80 312.42h-4.3M390.80 300.41h4.3M678.80 300.41h-4.3M390.80 294.41h4.3M678.80 294.41h-4.3M390.80 288.41h4.3M678.80 288.41h-4.3M390.80 282.40h4.3M678.80 282.40h-4.3"/>
<line x1="390.8" x2="678.8" y1="366.45" y2="366.45" stroke="#dc143c" stroke-opacity="0.92" stroke-width="1.2"/>
<rect x="468.5" y="393.3" width="203.70" height="57.10" rx="2.5" fill="#fff" fill-opacity="0.8" stroke="#d6d6d6" stroke-width="0.8"/>
<line x1="472.7" x2="498.1" y1="403.0" y2="403.0" stroke="#ee82ee" stroke-width="1.9" stroke-opacity="0.8"/>
<text x="507.3" y="407.5" font-family='"Liberation Sans", sans-serif' font-size="11.2" fill="#222">M5.84-L1</text>
<line x1="472.7" x2="498.1" y1="420.9" y2="420.9" stroke="#800080" stroke-width="1.9" stroke-opacity="0.8"/>
<text x="507.3" y="425.4" font-family='"Liberation Sans", sans-serif' font-size="11.2" fill="#222">M5.84-L2</text>
<line x1="472.7" x2="498.1" y1="439.0" y2="439.0" stroke="#4682b4" stroke-width="1.9" stroke-opacity="0.8"/>
<text x="507.3" y="443.5" font-family='"Liberation Sans", sans-serif' font-size="11.2" fill="#222">M5.84-L3</text>
<line x1="578.0" x2="603.6" y1="403.0" y2="403.0" stroke="#ff0000" stroke-width="1.9" stroke-opacity="0.8"/>
<text x="612.4" y="407.5" font-family='"Liberation Sans", sans-serif' font-size="11.2" fill="#222">M5.84-RR1</text>
<line x1="578.0" x2="603.6" y1="420.9" y2="420.9" stroke="#00ced1" stroke-width="1.9" stroke-opacity="0.8"/>
<text x="612.4" y="425.4" font-family='"Liberation Sans", sans-serif' font-size="11.2" fill="#222">M5.84-DF1</text>
<text x="390.80" y="471.10" text-anchor="middle" font-family='"Liberation Serif", serif' font-size="13.3" fill="#4a4a4a">0</text>
<text x="438.80" y="471.10" text-anchor="middle" font-family='"Liberation Serif", serif' font-size="13.3" fill="#4a4a4a">2</text>
<text x="486.80" y="471.10" text-anchor="middle" font-family='"Liberation Serif", serif' font-size="13.3" fill="#4a4a4a">4</text>
<text x="534.80" y="471.10" text-anchor="middle" font-family='"Liberation Serif", serif' font-size="13.3" fill="#4a4a4a">6</text>
<text x="582.80" y="471.10" text-anchor="middle" font-family='"Liberation Serif", serif' font-size="13.3" fill="#4a4a4a">8</text>
<text x="630.80" y="471.10" text-anchor="middle" font-family='"Liberation Serif", serif' font-size="13.3" fill="#4a4a4a">10</text>
<text x="678.80" y="471.10" text-anchor="middle" font-family='"Liberation Serif", serif' font-size="13.3" fill="#4a4a4a">12</text>
<text x="385.30" y="460.80" text-anchor="end" font-family='"Liberation Serif", serif' font-size="13.3" fill="#4a4a4a">−15</text>
<text x="385.30" y="430.78" text-anchor="end" font-family='"Liberation Serif", serif' font-size="13.3" fill="#4a4a4a">−10</text>
<text x="385.30" y="400.77" text-anchor="end" font-family='"Liberation Serif", serif' font-size="13.3" fill="#4a4a4a">−5</text>
<text x="385.30" y="370.75" text-anchor="end" font-family='"Liberation Serif", serif' font-size="13.3" fill="#4a4a4a">0</text>
<text x="385.30" y="340.73" text-anchor="end" font-family='"Liberation Serif", serif' font-size="13.3" fill="#4a4a4a">5</text>
<text x="385.30" y="310.72" text-anchor="end" font-family='"Liberation Serif", serif' font-size="13.3" fill="#4a4a4a">10</text>
<text x="385.30" y="280.70" text-anchor="end" font-family='"Liberation Serif", serif' font-size="13.3" fill="#4a4a4a">15</text>
<text x="534.80" y="484.10" text-anchor="middle" font-family='"Liberation Serif", serif' font-size="13.3" fill="#4a4a4a">ETT</text>
<text transform="translate(358.8 366.45) rotate(-90)" text-anchor="middle" font-family='"Liberation Serif", serif' font-size="12.8" fill="#4a4a4a"><tspan font-style="italic">C</tspan><tspan font-style="italic" font-size="9.5" dy="1.8">f</tspan><tspan dy="-1.8"> </tspan><tspan font-size="14.5">%</tspan><tspan> error</tspan></text>
<text x="513.6" y="263.6" text-anchor="middle" font-family='"Liberation Serif", serif' font-weight="bold" font-size="18" letter-spacing="0.9" fill="#000">(d)</text>
</svg>
</body></html>
